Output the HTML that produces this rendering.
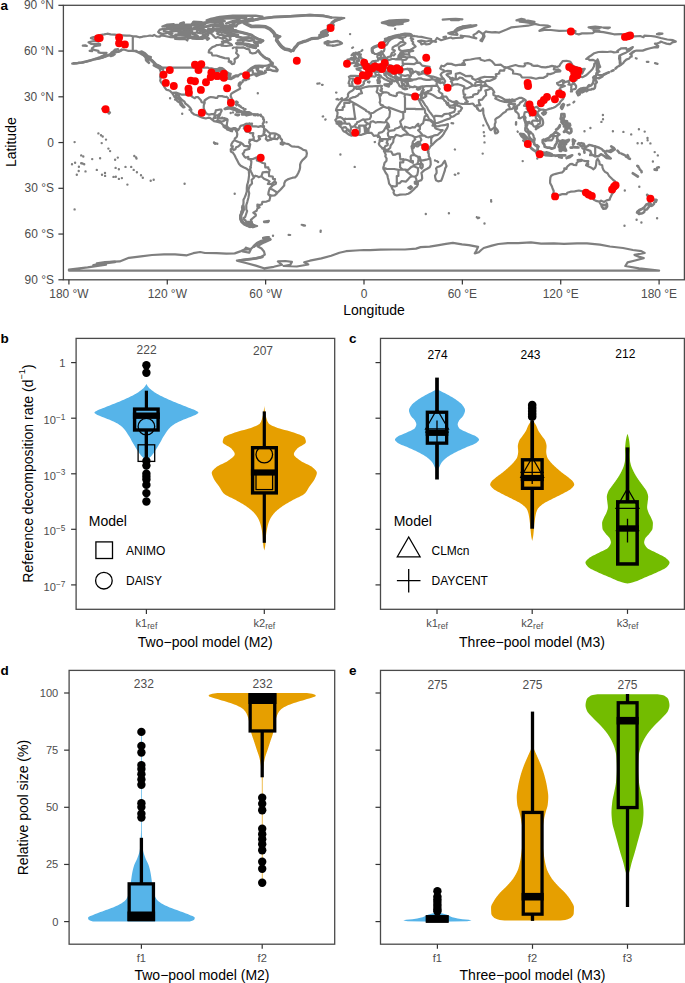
<!DOCTYPE html>
<html><head><meta charset="utf-8"><title>Figure</title>
<style>html,body{margin:0;padding:0;background:#fff}svg{display:block}text{font-family:"Liberation Sans", sans-serif}</style></head>
<body><svg width="685" height="983" viewBox="0 0 685 983">
<rect width="685" height="983" fill="#fff"/>
<g id="map" fill="none" stroke="#7F7F7F" stroke-width="2.2" stroke-linejoin="round" stroke-linecap="round">
<path d="M88.6 42.4 91.4 41.5 95.1 40.9 98.7 41.6 95.6 40.1 94.3 39.2 90.9 38.1 92.7 37.3 96.8 36.3 100.1 35.2 104.2 34.4 107.3 33.7 110.7 34.3 114.8 34.7 118.1 35.1 122.2 35.4 126.3 35.7 129.6 35.5 132.8 36.3 136.1 36.4 139.4 37.3 141.9 36.9 144.3 36.3 147.6 36.0 150.1 35.5 152.5 36.0 154.2 34.9 156.6 36.4 159.9 36.6 160.7 35.5 164.8 36.0 170.6 37.2 175.5 37.3 177.1 38.3 175.1 38.9 179.6 39.2 183.7 38.9 186.1 39.5 187.3 40.5 187.8 38.9 190.2 37.5 192.7 38.7 196.8 39.0 200.1 39.0 202.7 39.0 203.3 37.8 206.6 38.4 207.4 39.9 209.1 38.4 206.6 37.2 208.3 34.9 206.6 33.5 209.1 32.6 211.9 34.1 213.2 35.7 214.0 36.4 215.6 38.0 217.8 36.9 219.7 37.8 223.0 38.9 223.8 36.4 228.7 36.0 230.7 36.9 229.6 38.0 230.7 39.5 227.1 41.2 223.8 41.0 221.9 41.8 223.0 43.6 220.6 44.5 218.9 44.8 216.5 45.1 214.8 46.3 212.4 47.1 210.7 48.6 209.1 50.2 208.7 52.4 211.5 52.9 212.4 55.5 216.5 55.5 219.7 56.6 224.7 58.1 228.7 58.4 229.2 61.6 231.2 63.1 232.0 64.2 234.0 63.7 234.8 61.9 234.5 59.3 237.8 57.3 238.6 55.5 236.1 52.9 236.9 50.9 236.1 47.4 240.2 47.6 243.2 47.3 246.8 48.9 249.2 49.4 250.1 52.4 252.5 53.5 255.8 52.8 257.9 50.5 260.7 54.0 263.2 56.3 265.6 58.2 268.9 59.3 270.6 61.6 272.7 62.7 270.6 64.0 267.3 65.7 264.0 65.9 259.1 65.7 255.0 65.9 251.7 67.7 249.2 69.7 247.6 70.9 250.9 68.9 254.2 67.7 258.3 67.5 258.3 68.9 256.6 69.5 257.4 70.8 258.3 72.0 260.7 72.6 263.2 72.7 265.6 72.3 265.1 70.8 266.0 72.3 264.0 73.5 259.9 74.4 256.6 76.1 255.5 75.3 257.9 73.3 255.8 73.6 254.2 74.1 251.7 74.9 249.2 75.8 248.1 77.0 247.8 77.9 249.2 78.7 248.4 79.1 246.8 79.3 244.3 79.8 242.7 80.5 242.7 81.9 241.2 83.1 240.2 82.2 240.9 83.9 239.4 85.9 238.9 83.3 238.6 85.5 239.6 86.6 240.2 88.6 238.6 89.5 236.3 90.7 234.5 91.7 232.8 92.7 231.2 93.9 230.6 95.9 231.9 99.0 232.7 101.6 232.4 103.7 231.2 104.2 229.9 102.6 228.4 100.2 228.3 98.2 226.6 96.7 225.5 97.0 223.8 96.7 222.2 96.1 219.7 96.1 218.1 96.2 217.3 97.8 215.6 97.9 213.5 97.3 210.7 97.0 208.7 97.6 206.6 99.0 204.5 100.5 204.7 102.8 203.8 105.1 203.7 108.1 204.5 110.4 205.8 112.7 206.9 113.8 209.1 114.7 211.5 114.2 214.0 114.1 215.3 112.7 215.8 110.4 218.9 109.7 221.4 109.7 221.7 110.7 220.6 112.7 220.1 114.5 219.2 115.8 219.2 117.3 218.4 118.2 219.7 118.3 222.2 118.3 224.7 118.2 227.1 119.1 227.6 120.3 227.1 122.6 226.8 124.9 226.9 126.0 227.9 127.2 229.2 128.4 231.2 129.0 232.8 128.4 233.7 128.0 235.3 128.1 236.9 129.2 237.3 129.5M236.3 131.5 235.6 129.9 234.5 128.9 233.3 129.3 232.4 129.8 232.0 131.3 230.4 130.9 228.7 129.9 227.1 129.5 226.8 128.7 225.1 127.8 223.5 126.7 223.5 125.5 221.9 123.8 220.6 122.6 218.9 122.3 216.5 121.6 214.0 121.1 212.4 119.9 209.9 117.9 208.3 117.7 205.8 118.5 202.5 117.6 200.1 116.7 197.6 115.4 194.3 114.5 191.9 112.7 191.0 111.2 191.4 109.7 190.2 107.7 187.8 105.4 185.3 103.5 184.5 101.7 182.8 100.5 181.2 99.0 179.6 97.1 178.4 94.9 176.0 94.1 176.0 95.9 177.9 98.2 179.6 100.0 181.2 102.3 182.5 104.6 184.5 107.1 183.3 107.4 180.4 104.8 179.9 102.8 177.9 101.6 176.3 100.0 176.8 99.0 174.6 97.1 173.5 95.2 172.0 92.9 170.1 90.9 168.1 90.1 166.3 89.7 164.3 86.8 163.2 84.8 161.0 82.2 160.2 80.8 160.6 78.4 160.1 76.9 160.7 73.8 160.7 71.8 159.6 68.6 162.4 68.9 163.2 70.3 162.7 67.7 160.7 66.6 159.1 65.7 155.8 64.6 154.2 62.7 152.5 60.8 150.4 59.3 148.4 57.8 146.0 56.3 143.5 54.0 140.2 53.5 138.3 52.6 135.3 51.2 132.0 50.9 127.9 50.8 124.6 49.7 121.4 49.7 120.5 50.9 118.1 52.0 115.1 52.1 115.6 50.2 118.1 49.1 114.8 49.7 113.2 51.4 111.5 52.4 110.7 54.0 107.4 55.5 104.2 57.0 100.9 57.9 97.6 58.7 93.8 59.3 96.8 58.2 100.1 57.0 103.3 55.5 105.8 54.0 106.6 52.8 104.2 52.8 100.9 52.9 98.4 52.4 98.4 50.9 95.1 50.2 93.0 49.4 91.9 48.3 93.5 47.0 94.3 46.2 97.6 45.6 100.1 45.3 100.1 44.1 97.6 44.1 94.3 44.2 91.0 43.9 88.6 42.4M92.7 59.8 91.0 60.2 87.8 61.1 85.3 61.9M83.7 62.4 81.2 62.7 78.7 62.8 76.3 63.3 74.2 63.4 72.2 63.6M646.8 61.8 648.4 61.9M655.0 63.1 657.5 63.9M82.8 45.7 86.9 46.0 85.3 45.3 82.8 45.7M89.7 50.8 92.2 51.1 91.4 50.3 89.7 50.8M258.3 66.3 262.4 67.5 262.7 67.2 259.9 66.3 258.3 66.3M258.6 71.2 262.0 71.7 261.0 72.3 259.1 71.8 258.6 71.2M242.7 80.5 246.0 80.1 243.5 80.4M221.4 45.6 226.3 46.0 232.0 45.1 231.2 44.1 226.3 42.1 223.0 42.5 221.4 45.6M196.8 32.6 201.7 33.4 205.0 31.9 205.0 29.9 200.1 29.6 196.8 31.1 196.8 32.6M207.4 32.3 213.2 31.4 214.8 29.6 208.3 29.6 207.4 32.3M200.9 37.2 205.8 37.8 207.4 36.4 203.3 35.8 200.9 37.2M206.6 20.4 214.8 23.0 221.4 22.4 219.7 20.7 214.8 19.5 211.5 18.6 206.6 20.4M172.2 27.7 180.4 28.8 190.2 28.0 191.0 26.5 183.7 25.7 177.1 25.3 172.2 26.2 172.2 27.7M193.5 27.9 203.3 27.9 203.3 25.6 196.8 25.9 193.5 27.9M162.4 26.5 170.6 26.5 173.8 24.2 167.3 24.5 162.4 26.5M191.9 23.8 200.1 23.8 201.7 22.2 193.5 21.6 191.9 23.8M232.0 31.4 237.8 31.2 236.1 30.2 232.0 30.2 232.0 31.4M228.7 61.6 231.5 62.1 230.7 61.3 228.7 61.6M232.8 48.2 234.0 47.4M244.3 23.0 252.5 20.3 260.7 18.6 273.8 16.9 290.2 16.1 309.9 14.9 323.0 15.5 331.2 17.4 344.3 18.0 336.1 20.4 332.9 22.7 333.7 25.3 331.2 28.0 327.9 30.3 327.1 32.6 323.8 33.7 327.9 35.1 323.0 36.4 318.1 38.3 311.5 38.7 306.6 41.0 302.5 42.2 298.4 43.3 296.8 45.6 294.3 47.9 293.5 50.6 291.0 51.1 288.6 49.9 284.5 49.1 282.0 47.1 279.6 44.8 277.9 42.5 276.3 40.2 277.1 38.0 280.4 36.4 274.7 35.7 274.7 34.1 273.0 31.9 269.7 28.8 265.6 26.8 259.1 26.2 251.7 26.5 247.6 24.7 244.3 23.0M274.2 36.4 278.8 36.4 277.1 35.2 274.2 35.8 274.2 36.4M246.5 112.4 246.3 115.0M262.7 126.1 264.0 126.0 264.0 127.0 262.7 127.0 262.7 126.1M235.8 104.3 236.5 105.4M236.9 101.7 237.8 102.3M162.0 67.7 207.9 67.7 208.7 68.0 211.5 68.3 214.0 69.1 217.3 69.2 218.9 68.8 225.0 71.1 225.5 71.7 227.1 72.3 228.7 73.3 229.2 76.1 228.7 77.5 227.8 78.2 228.7 78.8 234.5 77.2 234.5 76.2 238.1 75.9 238.9 75.0 241.0 73.8 246.8 73.8 247.9 73.2 249.2 71.5 250.6 70.1 252.2 70.3 252.8 70.8 252.8 72.6 253.8 73.5 254.2 74.1M132.8 36.3 132.8 50.5 136.1 50.8 138.6 52.4 141.9 51.4 145.1 53.2 147.9 56.1 150.9 57.0 150.4 59.0M172.0 92.9 176.0 92.6 182.0 94.7 186.6 94.7 186.6 93.9 189.4 93.9 192.7 97.1 194.8 98.2 196.0 97.0 197.9 97.1 200.9 100.3 201.7 102.2 204.7 102.9M212.8 120.3 213.2 119.4 213.7 117.9 215.6 117.9 214.3 116.2 214.8 115.3 217.8 115.3M217.8 115.3 217.8 118.2 218.3 118.2M217.8 115.3 219.2 114.2M217.8 118.2 217.6 120.5 216.3 121.4M217.6 120.5 218.9 121.2 220.1 121.2 220.2 122.2M220.9 122.6 221.9 121.4 223.5 121.2 225.1 120.0 227.6 119.6M223.5 125.5 225.1 125.7 226.8 125.8M228.1 130.1 228.1 128.0 228.6 127.8M237.1 129.2 236.3 131.5M213.2 71.2 215.6 71.4 218.9 70.8 220.6 71.5 224.7 71.5 225.5 70.8 223.8 69.2 222.2 68.2 219.4 67.9 217.3 69.2 213.2 71.2M220.4 78.8 222.2 77.6 222.7 75.3 224.7 72.7 222.2 72.6 220.1 74.6 220.1 76.9 220.4 78.8M225.5 72.3 228.7 73.3 230.7 73.8 230.1 76.1 228.7 76.7 227.4 74.9 227.1 73.3 225.5 72.3M227.3 78.7 231.2 79.1 234.5 77.3 232.0 77.5 228.7 78.4 227.3 78.7M233.3 76.4 237.8 76.4 238.9 75.3 236.1 75.3 233.3 76.4M146.0 58.9 145.1 57.0 143.0 55.0 141.0 54.0M237.3 129.5 238.1 130.2 239.4 128.3 240.2 126.4 241.4 125.5 243.5 125.2 246.0 123.8 247.1 123.7 246.6 125.7 247.6 125.8 246.6 126.7 247.1 128.4 247.6 126.9 249.2 124.9 249.6 123.8 251.7 125.4 252.5 126.3 255.8 126.3 258.3 126.9 260.7 126.1 262.4 126.3 264.0 127.8 264.0 129.3 266.0 129.8 268.1 131.8 270.2 133.3 273.8 133.3 275.5 133.6 277.9 134.8 279.6 135.7 280.7 138.6 282.0 139.9 282.0 142.0 283.7 142.8 285.3 143.5 288.6 144.1 291.0 145.8 291.9 146.4 295.1 146.7 298.4 146.9 300.9 148.2 303.3 149.9 306.1 150.5 306.9 153.4 306.3 156.5 304.2 158.6 302.5 160.1 300.9 162.3 300.1 164.6 300.1 167.6 299.6 169.9 298.4 172.7 296.8 175.7 295.1 177.4 292.7 177.7 290.2 178.5 287.8 179.4 285.3 181.0 284.3 183.2 284.2 185.6 282.0 187.9 280.4 189.7 278.4 191.6 276.5 193.9 274.7 195.4 271.7 195.7 268.9 194.6 268.3 194.3 270.2 196.3 270.1 197.8 269.4 200.4 266.5 201.6 262.4 201.8 261.9 204.2 259.9 205.1 257.4 204.7 257.4 206.8 259.6 207.3 257.4 208.5 256.6 210.8 253.3 212.6 255.8 214.5 255.8 215.7 253.0 218.0 250.9 219.9 251.9 222.2 250.4 222.5 247.6 223.3 247.6 224.5 245.1 224.1 243.5 223.0 241.9 222.2 240.6 219.5 240.2 216.4 241.0 214.1 242.7 212.3 243.5 209.6 243.0 207.3 243.2 205.8 243.5 202.7 243.5 199.7 244.7 197.4 246.0 194.3 246.8 191.3 246.8 188.2 247.1 185.2 248.1 182.1 248.6 179.1 249.1 175.2 248.8 170.5 246.8 168.8 243.5 167.3 240.7 165.8 238.9 163.7 237.4 160.8 235.8 157.7 234.5 155.0 233.0 152.8 230.9 151.6 230.7 149.2 232.4 147.6 232.8 146.3 231.2 145.8 231.5 144.0 232.8 141.7 234.5 140.2 234.8 138.6 236.9 136.7 237.3 134.1 236.9 132.1 236.3 131.5M251.7 222.7 252.5 224.1 255.0 225.6 257.1 226.0 254.2 226.8 250.1 226.8 246.8 225.4 244.3 224.2 247.6 224.8 248.8 223.0 251.7 222.7M251.5 222.8 251.5 226.2M242.7 206.2 243.5 207.0 243.2 208.7 242.0 208.0 242.7 206.2M264.0 221.5 268.9 220.9 268.1 222.1 264.0 222.1 264.0 221.5M301.7 224.8 305.0 225.6M280.7 142.8 284.5 142.9 282.8 144.7 280.7 144.0 280.7 142.8M214.3 143.2 215.1 143.8M247.1 124.4 245.1 125.5 243.8 128.4 245.1 129.9 246.0 131.6 249.2 131.8 250.1 133.1 253.3 133.0 252.8 135.6 253.7 137.1 253.7 139.4 254.3 140.6M254.3 140.6 252.5 139.7 249.6 139.9 250.1 140.9 249.2 141.7 249.2 142.9 250.2 144.4 249.2 148.9M249.2 148.9 248.8 148.2 248.1 146.0 246.0 146.1 244.3 146.0 242.7 144.0 240.6 142.6M240.6 142.6 238.6 142.0 236.9 141.4 234.8 140.3M240.6 142.6 240.2 144.7 238.3 146.4 236.1 147.3 235.3 149.3 233.7 150.1 232.4 149.2 232.5 147.8M249.2 148.9 244.7 150.2 244.0 152.4 242.7 153.7 244.3 156.5 245.6 157.7 248.3 156.9 248.3 159.2M248.3 159.2 250.1 159.2 251.4 161.7 250.9 165.8 250.2 166.9 250.9 167.6 250.1 169.1M250.1 169.1 248.8 170.5M250.1 159.2 252.2 159.2 256.9 157.4 256.9 160.5 260.7 161.8 262.7 163.0 265.0 163.5 265.3 167.3 268.3 167.3 268.4 168.8 269.6 169.9 268.9 172.7M268.9 172.7 267.1 171.9 262.7 172.3 261.4 176.3M261.4 176.3 258.6 177.2 257.1 176.2 255.3 175.7 253.8 177.1M253.8 177.1 252.5 174.9 251.7 173.0 250.9 171.4 250.1 169.1M253.8 177.1 254.2 177.5 251.7 179.8 252.0 183.5 249.6 185.9 248.4 190.0 249.2 193.2 248.4 197.7 247.3 201.8 246.3 205.0 246.3 209.6 247.1 211.1 246.0 214.5 245.1 217.2 243.5 218.0 244.3 219.9 245.5 220.3 246.0 221.8 250.1 221.9 251.9 222.2M261.4 176.3 264.0 178.8 267.6 180.3 269.6 181.4 267.9 183.9 271.4 184.2 274.5 181.5M268.3 194.3 268.6 192.0 269.6 188.5M269.6 188.5 272.5 185.6 275.8 183.8 276.0 182.4 274.5 181.5M269.6 188.5 272.2 189.4 276.3 192.0 276.5 193.9M274.5 181.5 275.0 179.1 273.0 178.9 272.7 176.5 269.1 176.2 268.9 172.7M265.6 129.5 263.7 131.0 264.8 131.8 263.5 133.3 264.0 134.5 264.5 134.5M264.5 134.5 261.0 136.3 258.6 136.2 259.1 138.6 260.1 139.1 256.6 141.2 254.3 140.6M264.5 134.5 265.8 135.4 266.5 136.5 265.8 138.9 267.6 140.6 270.6 139.6 271.4 139.6M270.2 133.3 270.1 134.8 268.9 136.3 270.1 137.4 271.4 139.6M271.4 139.6 272.4 138.6 274.5 138.9M275.5 133.6 274.8 135.0 274.5 138.9M274.5 138.9 277.3 139.1 279.2 136.2M242.2 209.6 241.2 212.0 241.7 213.5M240.7 216.6 241.0 218.7M241.4 219.6 242.0 221.5 243.0 222.7M243.8 223.9 245.5 224.8 248.4 226.0 250.9 226.7 252.8 227.3M413.2 36.1 410.7 34.1 406.1 34.0 400.1 35.2 395.1 36.1 390.2 37.5 387.8 39.0 385.3 41.5 382.9 43.6 380.4 45.3 377.1 46.0 373.8 47.3 372.2 48.6 372.2 50.9 373.0 52.4 374.7 53.8 377.1 54.0 379.6 52.8 381.2 52.0 381.4 51.2 382.0 52.4 382.9 54.0 384.5 56.1 385.0 57.6 387.3 57.9 387.8 57.0 390.2 56.6 391.1 54.7 391.9 52.9 394.3 51.7 394.8 50.5 392.4 49.4 392.7 47.4 395.1 45.9 397.6 45.1 399.2 43.3 400.6 42.1 403.7 42.1 405.5 43.1 404.2 44.4 400.9 45.9 398.9 47.1 399.2 49.4 400.1 50.3 401.7 51.1 405.0 50.6 408.3 50.2 410.7 50.0 413.2 50.9 409.9 51.5 406.6 51.5 403.3 51.8 402.5 52.8 403.8 53.5 403.8 55.0 402.5 55.5 400.9 54.4 399.2 54.7 398.4 56.1 398.6 58.1 396.8 58.9 396.0 59.5 394.3 59.0 391.9 59.0 390.2 59.6 387.4 60.2 385.3 59.5 383.7 59.9 382.0 60.1 381.7 59.5 380.4 59.3 380.2 58.5 381.2 57.8 380.7 56.3 381.2 54.7 380.7 54.6 377.6 55.3 377.3 57.0 378.1 58.2 378.1 59.6 378.4 60.2 377.6 60.7 375.5 60.8 375.1 61.0 373.0 61.1 371.9 61.8 371.0 63.0 370.1 63.9 368.9 64.2 368.1 64.5 366.6 65.0 366.5 66.0 364.3 66.8 362.0 67.1 361.7 68.2 359.4 68.2 356.5 68.5 356.8 69.4 359.6 70.1 360.7 71.1 362.0 72.3 362.0 74.4 361.4 76.2 358.3 76.1 355.0 75.9 350.9 75.8 348.9 76.7 349.6 78.4 349.6 79.9 348.8 82.3 348.6 83.4 349.6 84.0 349.4 86.0 351.7 85.9 353.5 86.3 354.8 87.5 356.6 86.5 360.4 86.3 362.9 85.1 364.0 83.4 363.5 82.2 365.3 80.2 367.6 79.3 369.2 78.1 369.1 76.7 370.6 76.1 372.7 76.4 374.7 76.7 376.3 75.6 378.4 74.7 380.7 75.5 381.2 77.0 383.2 78.1 384.7 79.3 387.0 80.2 388.6 81.1 389.7 81.6 390.2 83.0 389.7 84.5 391.1 84.0 391.9 83.0 391.2 81.7 391.9 80.7 394.2 81.4 394.3 80.7 392.7 79.9 390.2 79.1 390.2 78.5 388.6 78.4 387.0 77.3 386.1 75.9 384.5 75.0 384.2 73.3 386.1 72.7 386.5 73.8 387.8 73.5 388.9 75.0 391.1 76.2 393.0 77.2 394.8 78.1 395.8 78.7 395.8 80.7 396.8 81.9 398.4 83.3 398.8 84.6 399.6 86.2 400.9 86.8 401.9 86.6 401.7 85.4 402.7 84.6 403.3 84.2 401.7 82.8 401.4 81.0 402.5 81.4 403.7 80.5 405.8 80.1 406.6 80.5 407.4 81.1 409.1 79.9 411.4 79.9 411.5 79.6 409.9 78.4 409.4 76.9 410.9 75.6 411.1 74.1 412.7 73.3 413.7 72.3 415.6 71.4 417.3 72.1 418.9 72.3 417.4 73.2 418.9 74.6 421.9 73.8 423.8 73.2 421.4 72.1 423.0 71.2 426.3 70.6 428.3 70.4 426.3 72.0 425.5 73.2 424.7 73.6 426.3 74.7 429.1 76.1 432.0 77.6 432.0 79.1 429.6 79.9 426.3 79.9 423.8 79.4 421.4 78.4 418.1 78.4 415.6 79.4 413.2 79.6 411.5 79.6M351.9 58.5 350.9 59.3 353.7 59.9M351.7 55.2 353.7 53.4M361.5 50.9 362.4 50.0M358.6 52.6 359.6 52.1M352.2 47.9 353.0 47.4M380.1 57.9 381.5 58.1M393.8 55.5 395.1 54.1M390.9 56.6 391.9 55.0M400.1 53.5 401.7 53.1M400.6 52.6 401.7 52.4M367.9 82.0 369.6 81.7 369.1 82.5 367.9 82.0M409.6 87.5 410.2 86.9M402.2 83.1 404.2 84.3M406.6 82.7 407.4 82.8M442.7 19.6 449.2 19.2 455.8 18.9 462.4 19.3M450.9 20.1 459.1 20.1M443.5 37.2 446.0 36.7 444.8 37.5 443.5 37.2M460.7 35.7 463.2 36.1M382.4 52.4 384.0 50.9 384.5 48.9 384.0 46.3 387.0 44.5 388.6 41.5 391.1 39.2 393.8 38.0 397.3 37.2M397.3 37.2 399.2 36.9 402.5 37.6 405.0 37.2 406.6 35.7 409.9 35.7 411.5 36.1 411.2 37.0M411.2 37.0 414.5 36.0M397.3 37.2 402.5 38.9 403.3 41.8 403.7 42.1M411.2 37.0 410.7 38.4 413.2 39.2 411.5 40.4 413.2 42.2 412.7 43.6 414.0 44.7 415.6 46.5 412.4 48.6 409.6 50.2M409.9 51.7 409.1 52.8 409.1 54.6M403.8 54.1 406.6 54.3 409.1 54.6M409.1 54.6 409.9 56.3 410.2 56.9 407.6 57.5M398.4 56.9 403.3 56.6 407.6 57.5M407.6 57.5 406.1 59.6 402.5 60.1M402.5 60.1 401.4 59.5 396.3 59.3M401.4 59.5 401.2 58.5 398.9 58.1M402.5 60.1 402.7 62.2 402.7 63.9 403.3 65.0 401.1 66.9 400.9 67.5M402.7 63.9 408.3 63.9 414.0 64.2 416.1 63.0M410.2 56.9 414.5 57.6 417.3 61.1 416.1 63.0M416.1 63.0 419.7 62.7 422.2 65.6 426.3 66.3 429.6 66.8 429.2 69.2 426.6 70.6M387.4 60.2 387.3 62.4 388.3 64.6 388.3 64.8M388.3 64.8 384.2 65.7 384.5 66.5 386.6 68.0M388.3 64.8 390.6 65.3 391.9 65.7 394.8 66.9M386.6 68.0 388.6 67.7 391.7 68.3M391.7 68.3 393.3 67.7 394.8 66.9M394.8 66.9 396.8 67.2 400.9 67.5M400.9 67.5 400.4 68.6M391.7 69.2 394.8 69.5 397.6 68.5 400.4 68.6M391.7 68.3 392.0 69.2M392.0 69.2 391.1 70.0 390.4 70.9M400.4 68.6 401.5 69.2M401.5 69.2 404.2 69.4 407.4 68.8 410.2 71.4 410.2 73.0 412.7 73.3M407.6 68.8 409.9 68.8 411.9 69.2 413.2 71.7 410.4 73.0M401.5 69.2 398.8 71.7 397.3 72.1M397.3 72.1 395.0 72.4 393.0 72.4 391.1 71.5 390.4 70.9M390.4 70.9 387.8 71.7 386.5 71.5 386.3 73.0 389.1 73.0 389.7 72.0 391.1 71.5M386.6 68.0 385.0 69.1 385.3 70.0 381.2 70.0 379.7 70.0M386.5 71.5 384.0 70.8 381.2 70.9M381.2 70.9 379.7 70.0M379.7 70.0 377.9 69.7 376.5 69.8 374.0 71.8 375.5 72.4 377.8 71.8 378.8 72.4 380.4 71.8 381.2 70.9M375.5 72.4 375.3 73.8 376.3 75.6M376.5 69.8 377.4 67.7 374.5 66.9M368.1 64.5 370.9 66.2 373.5 66.8 374.5 66.9M369.6 64.0 372.2 64.0 373.8 65.0M373.8 65.0 374.2 63.4 375.5 62.7 375.8 61.1M373.5 66.8 374.0 66.0 374.5 66.9M378.1 58.7 380.2 58.9M361.2 76.4 365.1 77.3 369.2 77.8M349.6 78.5 353.3 78.5 352.7 81.1 351.9 82.2 352.5 84.2 351.7 85.7M386.5 71.5 386.5 72.9M389.7 73.5 391.9 73.5 395.1 74.0 395.8 75.0 394.3 77.6M389.7 73.5 390.2 75.3 392.7 76.9M397.3 72.1 399.2 74.1 401.2 74.6 400.9 76.5 400.7 77.9M401.2 75.0 405.0 75.8 408.3 75.2 410.9 75.8M400.7 77.9 401.7 79.4 405.0 79.4 407.1 78.8 407.6 79.4 406.6 80.2M407.1 78.8 409.9 78.4M395.8 75.0 395.5 76.1 397.3 77.2 395.8 78.5M397.3 77.2 399.2 77.9 400.7 77.9M397.8 78.5 397.8 79.9 398.4 80.2 397.1 82.0M398.4 80.2 401.5 79.4M354.3 87.8 355.3 87.7 356.6 88.8 359.1 88.6 360.7 88.9 362.4 88.0 364.8 87.2 366.5 86.8 368.9 86.3 372.2 86.3 375.5 86.0 377.9 86.2 380.1 85.5 380.9 85.7 382.0 86.0 381.4 86.9 381.2 88.0 382.0 88.8 381.7 89.8 380.4 90.3 380.7 90.9 382.0 91.3 382.9 92.0 384.5 92.3 386.1 92.3 388.6 93.0 389.4 94.4 391.9 95.2 394.3 95.9 396.0 96.1 396.8 95.2 396.8 93.3 399.2 92.3 401.7 92.7 402.2 93.3 405.0 94.1 408.3 94.7 411.5 95.3 414.0 94.5 415.6 94.4 417.0 94.9 417.3 96.7 417.4 97.4 418.1 99.0 419.4 100.8 420.2 102.8 421.4 105.1 422.5 106.9 424.3 108.9 425.0 110.4 425.1 112.7 426.8 114.7 428.3 117.3 429.1 119.3 431.2 120.3 433.7 122.6 435.0 123.5 434.8 124.8 436.1 126.4 438.6 126.1 441.1 125.5 444.3 125.2 447.9 124.1 447.8 126.4 446.8 128.7 445.2 131.0 443.5 134.1 441.9 136.3 439.4 138.6 437.0 140.2 434.5 142.4 432.4 144.7 430.4 146.3 429.1 148.6 427.9 150.8 427.9 152.4 428.8 153.9 428.8 156.2 430.1 158.5 430.6 161.5 430.7 164.6 429.6 167.3 427.1 168.8 424.7 169.9 423.0 171.4 421.4 173.0 421.9 175.2 422.2 178.3 421.4 180.1 418.9 181.0 417.8 182.1 417.9 184.4 417.0 186.4 415.1 187.9 413.2 190.0 410.7 192.3 408.3 193.7 406.1 194.3 403.3 194.5 400.1 194.6 396.8 195.5 394.8 194.8 394.2 194.0 393.5 192.5 394.0 190.8 392.4 189.0 391.1 186.1 389.1 183.6 388.6 180.6 387.8 177.5 387.4 175.2 385.8 173.0 384.2 169.9 383.3 167.6 384.0 165.3 384.5 163.0 386.5 160.8 386.6 158.5 385.3 156.2 385.8 154.7 384.2 151.6 384.0 150.1 382.9 148.6 381.2 147.0 379.6 145.5 378.8 143.7 379.6 142.0 379.6 140.6 380.1 138.6 379.9 137.1 378.6 135.6 377.1 135.6 375.5 135.7 373.8 135.9 372.7 134.4 371.4 132.8 368.9 132.7 366.5 133.0 365.6 133.4 364.0 133.9 361.5 134.8 359.9 135.0 358.3 134.5 355.8 134.7 353.3 135.3 351.5 135.7 349.2 134.8 346.8 133.0 345.1 131.9 343.5 131.2 342.4 129.5 341.9 128.0 340.2 126.4 339.4 125.7 338.6 124.4 336.6 123.5 336.5 122.2 335.3 120.0 336.5 118.8 336.9 117.3 337.3 115.0 337.6 112.7 336.9 111.0 336.0 110.4 336.3 108.9 337.4 106.6 338.6 104.8 339.7 103.5 340.4 102.3 342.2 100.5 343.0 99.7 345.5 99.0 347.6 97.4 348.1 95.9 347.9 94.4 348.8 92.9 350.1 91.7 352.2 90.7 353.3 89.8 354.2 88.4 354.3 87.8M444.8 160.8 446.5 166.1 445.2 168.4 444.8 170.7 443.5 174.5 441.9 179.1 441.1 180.7 438.1 181.4 436.1 180.3 435.3 177.8 435.0 175.6 436.6 173.0 436.6 170.7 436.1 168.4 437.3 167.0 439.7 166.4 441.9 165.0 443.2 163.0 444.8 160.8M417.3 96.7 417.6 97.1 418.6 99.0 420.1 100.0 420.7 99.0 421.2 97.4M451.5 123.2 453.2 123.4M428.4 151.3 428.6 152.2M336.5 99.3 337.4 99.0M338.4 99.7 338.8 99.6M340.9 99.1 341.9 98.1M336.0 92.6 336.5 92.6M325.3 119.6 325.6 119.3M322.7 116.5 323.2 116.4M321.9 84.8 322.7 84.8M317.3 83.7 317.9 83.7M319.2 83.4 319.6 83.4M377.9 137.1 378.6 136.8M374.7 142.1 375.0 142.0M435.0 160.3 435.1 160.6M454.7 174.6 455.3 174.8M458.1 173.3 458.6 173.4M454.8 149.5 455.0 149.6M360.4 88.9 361.2 91.3 362.0 93.2 359.1 93.9 357.9 95.5 355.5 96.8 352.5 97.4 349.7 98.7 349.7 100.8M349.7 100.2 342.4 100.2M349.7 100.8 349.7 102.8 344.3 102.8 344.3 106.8 342.7 107.4 342.7 110.0 336.1 110.0M349.7 100.8 356.1 104.3M356.1 104.3 353.2 104.3 355.0 117.3 355.3 118.8 348.8 118.8 346.5 119.0 345.1 118.7 344.0 119.9M344.0 119.9 341.9 117.9 340.2 117.1 336.9 117.9M356.1 104.3 366.0 110.3 366.0 110.9 369.2 112.2 369.4 113.5 370.9 113.3M370.9 113.3 373.5 112.7 376.3 110.6 383.7 106.6M383.7 106.6 382.9 105.4 380.7 104.9 380.2 103.5 379.6 102.3 380.2 101.3 380.1 99.3 379.6 96.4M379.6 96.4 378.8 93.6 377.6 92.9 376.6 91.8 377.4 89.7 377.6 86.8 378.1 86.2M379.6 96.4 380.9 95.3 380.9 93.9 382.9 93.0 382.9 92.0M383.7 106.6 387.3 108.0 388.6 107.4 403.3 112.7 403.3 111.9 405.0 111.9 405.0 108.9M405.0 108.9 405.0 97.9 404.5 96.5 405.3 94.2M405.0 108.9 415.3 108.9 415.6 109.2 424.5 108.9M388.6 107.4 389.4 110.4 390.1 111.3 389.4 116.7 386.1 120.5 386.3 121.6M386.3 121.6 384.5 122.5 380.4 122.2 377.1 122.2 375.5 122.6 373.0 121.2 370.7 121.9 369.9 124.6M369.9 124.6 368.6 123.7 367.6 123.5 365.6 122.2 364.3 119.7M364.3 119.7 365.6 119.6 369.7 119.0 370.9 116.7 370.9 113.3M364.3 119.7 362.9 119.4 360.7 120.6 359.1 121.6 357.0 122.3 356.8 123.7 355.3 124.4 355.0 126.6M355.0 126.6 353.8 126.3 352.5 126.9 350.9 126.9M350.9 126.9 350.4 125.7 349.2 123.5 347.1 123.8 345.3 123.5M345.3 123.5 345.3 122.6 344.0 119.9M345.3 123.5 341.5 123.2 339.4 123.1 336.6 123.5M341.5 123.2 341.5 124.6 339.9 124.9 339.4 125.8M336.5 121.7 339.4 121.4 341.4 121.9 341.4 122.3 338.6 122.2 336.5 122.5M342.2 128.7 343.5 127.3 345.6 127.2 346.6 128.4 347.1 129.5M347.1 129.5 346.6 130.6 345.1 131.9M347.1 129.5 348.4 129.6 348.6 131.2 350.1 130.9M350.1 130.9 351.0 129.5 350.9 126.9M350.1 130.9 350.2 132.5 351.7 133.6 351.7 135.7M358.9 134.7 359.6 131.8 359.6 128.0M355.0 126.6 356.5 127.7 359.6 128.0M359.6 128.0 359.2 125.7 363.8 125.5M366.0 133.1 365.0 131.8 364.7 128.7 364.0 125.5M366.6 133.0 366.6 128.7 365.3 126.6 365.5 125.7M364.0 125.5 365.5 125.7 367.6 123.5M368.4 132.7 368.6 128.7 369.9 126.9 369.9 124.6M378.1 135.1 379.1 132.8 382.0 132.2 383.7 130.9 385.3 128.0 387.0 125.2 387.6 123.5 387.1 122.6 386.3 121.6M387.1 122.6 388.4 124.1 389.2 127.2 386.8 127.8 388.9 131.0M388.9 131.0 391.1 130.6 394.5 130.2 395.1 128.7 398.4 127.7 401.5 125.8M401.5 125.8 400.6 123.1 400.2 121.4 400.9 120.8 403.3 118.5 403.3 112.7M388.9 131.0 387.8 133.4 388.1 135.4 390.2 139.1M390.2 139.1 385.8 139.1 382.5 139.1 380.1 138.9M382.5 139.1 382.5 140.9 379.7 140.9M385.8 139.1 387.6 140.3 386.6 142.8 387.8 143.4 387.6 145.3 385.3 146.1 384.5 147.8 382.2 148.4M390.2 139.1 390.6 137.1 394.5 137.1M394.5 137.1 393.5 139.4 393.2 142.1 390.6 145.5 390.2 147.8 388.9 149.0 387.6 149.9 385.3 149.5 384.0 151.3M385.0 149.2 385.5 149.5 384.0 151.3M394.5 137.1 396.0 134.8 400.9 136.2 404.2 134.7 408.9 134.7M401.5 125.8 402.9 129.2 405.5 131.0 408.9 134.7M408.9 134.7 412.4 135.7 414.7 137.1M414.7 137.1 416.5 137.0 419.7 136.0M419.7 136.0 422.9 135.4M422.9 135.4 421.9 134.2 419.7 131.8 418.1 130.2 419.9 129.3 419.9 126.4M402.9 129.2 404.2 129.2 405.0 126.7 408.3 127.8 409.9 128.3 412.4 127.2 414.8 127.5 417.1 124.6 418.4 123.8 418.3 126.1 419.9 126.4M419.9 126.4 421.4 124.4 423.2 123.1 423.8 120.6M423.8 120.6 424.7 116.5 427.3 115.0M423.8 120.6 426.1 119.7 427.9 120.2 429.9 120.5 433.5 123.4M433.5 123.4 432.5 125.7 434.3 125.8 435.0 124.9M434.3 125.8 435.3 128.1 436.1 128.7 441.1 130.2 442.7 130.2 437.8 134.8 434.5 135.3 432.9 136.2M432.9 136.2 431.2 136.5 428.8 137.3 426.5 137.0 424.5 135.7 422.9 135.4M432.9 136.2 431.2 138.2 431.2 143.8 432.2 145.0M419.7 136.0 420.6 137.9 421.4 139.9 419.7 142.1 419.6 144.0M419.6 144.0 425.6 147.0 425.8 147.8 428.3 149.6M414.7 137.1 414.7 138.8 415.3 139.2 413.2 141.2 412.5 143.2 412.5 144.6M419.6 144.0 414.0 144.0 412.5 144.6M414.0 144.0 414.5 146.1M412.5 144.6 411.5 146.6M411.5 146.6 414.5 146.1M414.5 146.1 414.0 147.5 412.2 149.2M411.5 146.6 411.9 148.4 412.2 149.2M412.2 149.2 412.7 152.4 414.5 155.0M414.5 155.0 417.9 156.8M417.9 156.8 419.7 156.9 420.7 160.1M420.7 160.1 423.0 160.3 426.3 159.7 430.2 158.5M414.5 155.0 411.4 155.4 410.6 156.6 410.9 159.2 411.5 161.4 412.9 161.1 412.9 162.9 410.7 161.7 408.6 160.5 405.5 159.5 404.0 159.8 403.3 159.1M403.3 159.1 403.3 162.3 400.1 162.3 400.1 167.2 402.4 169.3M403.3 159.1 400.4 159.5 400.1 157.4 399.7 153.6 397.6 153.6 396.0 154.3 395.1 154.7 392.9 154.8 391.2 151.5 385.6 151.5 384.0 151.5M383.3 168.8 385.3 168.4 387.0 169.0 394.2 169.0 398.4 169.8 402.4 169.3 405.5 169.6M398.4 170.4 398.4 176.0 396.8 176.0 396.8 185.8M396.8 185.8 395.1 186.5 392.5 186.2 391.1 186.1M396.8 183.3 397.9 183.3 399.6 183.2 401.7 181.0 405.8 181.7 408.1 179.4 409.9 177.2 412.2 176.3M412.2 176.3 409.4 173.7 406.6 171.4 405.5 169.6M405.5 169.6 408.3 169.8 411.4 166.9 413.8 166.2M413.8 166.2 417.9 167.9 418.1 170.7 417.3 174.9 415.3 176.6M412.2 176.3 415.3 176.6M415.3 176.6 416.5 179.8 416.5 182.0 417.9 183.3M414.8 181.8 416.5 182.1 416.3 183.9 414.8 183.6 414.8 181.8M408.3 187.6 410.7 186.2 412.2 187.5 410.4 189.1 408.3 187.6M417.9 156.8 418.6 158.9 418.1 161.5 417.6 163.2 418.4 163.8M418.4 163.8 413.5 165.3 413.8 166.2M420.7 160.1 420.4 161.1 421.1 163.0 422.7 164.6 422.7 166.9 421.7 168.5 420.2 167.3 420.4 164.6 418.4 163.8M416.1 143.2 418.1 141.8 420.1 142.9 419.6 144.7 418.1 146.3 416.5 146.3 416.0 144.4 416.1 143.2M407.0 81.4 406.8 82.2 407.9 83.0 408.1 83.9 407.1 84.2 408.6 85.2 408.8 86.0 410.2 86.5 411.7 87.1 414.0 87.1 414.3 86.3 416.5 87.1 418.1 87.4 419.7 87.1 421.4 86.5 423.0 86.3 423.3 87.5 422.9 88.3 422.9 89.8 422.2 90.7 421.5 92.1 421.2 93.2 420.6 94.4 420.1 94.7 418.9 95.0 417.0 94.9M411.5 79.9 412.4 80.4 409.9 80.8 408.3 80.8 407.0 81.4M421.4 97.4 421.1 99.4 422.2 100.5 423.8 102.8 425.1 105.1 427.1 107.4 428.1 109.7 429.6 111.9 431.2 113.8 432.9 116.1 434.0 117.6 434.5 119.6 435.0 121.9 435.3 123.1 437.8 122.9 440.2 122.0 442.7 121.1 445.2 120.0 447.6 119.1 449.6 118.7 450.9 117.1 453.3 116.5 455.0 115.3 456.6 114.2 458.8 113.5 458.6 111.5 460.2 111.2 462.0 108.1 460.1 106.4 457.4 105.8 456.5 104.3 456.3 102.3 455.8 103.1 454.7 103.9 453.0 105.4 450.1 105.5 448.6 105.4 448.4 103.5 447.9 102.6 447.3 103.5 447.3 104.6 446.3 103.2 446.0 101.7 444.3 100.5 443.5 99.0 442.7 97.4 443.5 96.7 445.2 96.5 446.3 96.7 447.3 98.2 448.4 99.9 450.2 100.8 452.5 101.9 455.0 101.6 456.5 101.1 457.4 101.6 457.9 103.1 459.9 103.5 462.4 103.9 465.0 104.0 467.3 104.0 469.7 104.0 472.7 103.5 473.8 104.6 474.7 106.0 475.8 106.4 476.8 107.4 477.9 108.3 477.1 108.6 479.2 110.6 480.4 110.9 482.0 110.1 483.0 108.4 483.3 110.4 483.3 113.5 484.2 116.5 485.0 118.8 486.1 121.4 487.0 123.4 488.3 125.7 489.1 127.7 490.2 129.8 491.1 130.1 492.2 128.9 493.5 128.3 494.8 126.7 494.8 124.1 495.6 122.2 495.3 119.6 496.5 118.3 498.9 117.0 500.9 115.3 503.3 113.0 505.8 111.6 506.6 110.0 508.3 109.3 509.9 109.2 512.0 108.9 513.2 108.0 514.5 108.4 515.2 110.4 515.6 111.5 517.3 112.7 518.6 114.2 518.9 116.5 518.6 118.0 520.2 118.3 521.7 117.6 523.0 116.8 524.0 117.6 524.2 119.6 525.0 121.9 525.6 124.1 525.5 126.4 525.2 128.7 525.2 130.2 526.3 131.5 527.9 132.5 528.6 134.1 529.1 136.0 530.1 137.9 531.2 139.1 533.4 140.2 534.5 140.5 534.8 138.9 533.7 137.1 533.5 135.6 532.5 133.9 531.5 133.0 530.4 131.9 528.8 131.3 527.9 129.5 526.8 128.3 526.6 126.4 527.6 124.4 527.9 122.2 529.4 121.9 529.6 123.1 531.5 123.8 532.7 124.6 533.7 126.3 535.3 126.6 536.1 128.3 535.8 129.3 537.0 128.4 538.6 127.5 539.4 126.6 541.1 126.0 542.7 124.9 543.2 122.9 543.0 121.1 542.4 119.1 541.1 117.6 539.4 116.2 538.3 114.5 537.3 113.2 537.8 111.9 538.9 110.7 540.2 110.0 541.4 109.7 542.7 109.5 543.7 109.5 543.8 110.7 544.8 111.5 545.2 110.1 546.8 109.7 549.3 108.9 551.2 108.4 553.4 107.7 555.5 106.8 557.4 105.1 559.6 103.5 560.2 101.9 561.5 100.5 563.2 99.0 563.7 97.1 564.0 96.2 562.4 95.6 563.8 94.9 563.5 93.6 562.0 92.4 561.2 90.6 559.6 89.2 559.9 88.3 561.5 87.2 564.8 86.0 563.2 85.2 560.7 85.2 559.1 85.5 557.4 84.2 557.0 83.0 559.1 82.2 562.4 80.2 564.0 80.7 562.9 83.0 563.5 83.1 565.6 81.9 567.8 81.4 568.9 82.2 569.4 83.7 568.4 84.5 570.6 84.9 571.5 86.0 571.2 87.5 571.4 89.1 571.1 89.8 573.0 89.5 575.5 88.9 576.1 87.5 576.1 86.0 574.7 84.0 573.0 82.2 574.7 81.0 576.6 79.9 577.1 78.4 578.3 77.9 580.4 76.5 582.4 77.2 585.3 75.8 587.8 73.8 590.2 71.5 592.4 69.2 594.0 66.2 594.3 63.9 595.6 62.7 595.5 61.1 592.7 59.8 589.4 60.1 588.6 58.9 586.1 59.0 588.3 57.3 591.1 55.5 594.3 53.2 598.4 52.0 602.5 51.8 607.5 52.0 610.7 51.5 614.0 52.4 618.1 52.0 617.3 50.9 621.4 48.3 626.3 48.2 626.8 49.9 630.4 48.3 632.9 47.1 631.7 48.6 629.6 50.5 626.3 52.4 622.2 54.3 619.3 55.8 619.1 58.5 619.7 60.8 619.7 63.1 620.9 64.8 623.5 62.8 624.2 61.6 626.3 59.6 629.3 58.5 630.4 56.7 631.7 56.7 631.6 54.3 630.1 54.0 632.5 52.0 634.5 51.1 636.6 50.5 642.7 50.6 646.0 49.4 650.1 48.2 655.0 47.1 657.9 47.4 658.3 46.0 655.8 44.4 655.0 43.6 657.5 43.3 659.9 42.5 660.7 41.5 663.2 42.5 666.5 43.6 669.7 44.2 671.4 43.3 672.2 42.4 675.8 41.6 673.0 40.2 667.3 39.5 660.7 38.0 655.8 36.7 650.9 36.0 644.3 35.7 643.5 37.2 640.2 36.0 634.5 36.3 629.6 36.3 627.1 36.4 621.4 34.1 614.0 34.3 609.9 33.4 603.4 32.2 595.2 31.4 592.7 33.2 587.0 33.4 582.0 33.4 578.8 34.4 576.3 33.7 573.8 32.2 575.5 31.1 571.4 30.2 566.5 30.6 559.1 30.9 550.9 30.0 544.3 29.9 539.4 30.8 544.3 28.0 550.1 26.5 547.6 25.6 539.4 25.0 535.0 23.9 527.9 25.7 519.7 26.5 511.5 27.3 506.6 29.6 499.3 32.6 495.2 32.2 491.9 32.3 487.0 31.9 486.1 31.4 483.7 33.4 484.5 36.4 482.9 39.5 482.0 41.3 480.4 40.5 482.9 37.5 483.2 34.9 482.0 33.4 478.8 31.1 476.3 33.4 473.5 34.9 473.8 37.2 476.3 38.3 472.2 37.5 469.7 36.7 464.0 36.0 462.4 37.6 455.8 38.0 452.5 38.4 450.9 37.5 446.0 38.7 441.1 40.2 437.0 38.0 435.0 41.0 436.1 41.8 432.9 41.2 429.6 43.9 426.3 44.5 424.7 43.3 421.4 44.4 420.6 42.5 418.1 41.0 421.4 40.7 426.3 41.5 431.2 40.5 431.2 39.0 426.3 38.0 421.4 36.9 418.1 36.6 414.8 36.0 413.2 36.1M441.9 76.9 440.6 74.6 441.9 72.9 444.3 71.5 447.6 70.8 450.9 71.1 450.9 73.3 447.6 73.8 446.5 74.6 448.4 76.5 450.1 77.6 450.4 79.1 453.7 79.9 450.9 81.4 452.2 83.0 452.2 85.5 449.2 86.5 446.8 85.7 444.3 85.1 444.2 83.7 445.2 81.1 443.5 78.7 441.9 76.9M573.4 102.5 574.3 101.6M570.9 91.5 572.0 91.3M657.0 34.1 659.1 33.4 662.4 33.7 659.1 34.3 657.0 34.1M588.6 27.3 595.2 26.5 601.7 27.3 598.4 28.2 591.9 28.5 588.6 27.3M603.4 27.6 609.9 27.6 608.3 28.3 603.4 27.6M593.5 30.3 599.3 30.6 595.2 29.7 593.5 30.3M519.7 21.6 527.9 20.7 534.5 21.9 531.2 23.2 524.7 22.2 519.7 21.6M516.5 20.4 521.4 18.9 524.7 19.6 519.7 20.4 516.5 20.4M632.0 53.1 633.7 52.1M635.8 58.2 636.6 58.5M595.2 146.4 595.2 156.3M517.6 131.5 517.8 131.8M429.6 76.2 432.9 76.5 436.1 77.5 439.4 78.7 441.9 79.4 443.7 78.7M432.0 79.1 435.3 79.8 437.8 79.4 440.2 79.8 440.2 78.7M435.3 79.8 435.6 81.3 437.4 81.9 436.5 83.9 437.4 85.7M437.8 79.4 439.4 81.1 440.2 82.2 440.2 83.1M437.4 81.9 440.2 83.1 442.7 82.2 444.2 83.9M423.3 87.5 424.2 86.3 426.3 86.2 429.6 86.2 433.5 85.9 437.4 85.7M433.5 85.9 431.7 86.9 431.2 90.0 427.6 91.5M427.6 91.5 428.3 93.3M427.6 91.5 424.3 93.0 422.7 92.6M422.9 89.7 423.8 90.0 423.0 91.3 422.7 91.7M422.7 91.7 422.4 92.9 422.2 94.4 421.4 97.4M420.1 94.7 421.2 97.4M421.4 97.6 423.2 97.9 425.5 96.7 426.3 95.9 424.7 94.4 428.3 93.3M428.3 93.3 430.2 93.8 432.9 95.0 437.3 97.9 440.2 98.1 441.9 98.2 443.3 99.0M440.2 98.1 441.7 96.7 442.7 96.7M437.4 85.7 438.4 87.5 439.7 88.9 438.6 90.6 439.4 92.1 442.4 93.9 442.2 95.2 443.5 96.7M434.2 117.4 435.0 115.9 436.6 115.9 440.2 116.2 441.9 116.4 444.3 114.1 449.2 113.5M449.2 113.5 451.1 117.0M449.2 113.5 454.2 111.9 455.3 108.9 454.5 107.8M454.5 107.8 450.2 107.5 448.6 105.5M454.5 107.8 455.5 105.5 456.3 104.5 455.8 103.2M447.3 104.8 448.4 104.9M452.4 85.5 454.2 84.5 457.9 84.2 461.2 85.2 464.3 86.6M464.3 86.6 464.2 88.6 463.2 90.6 463.7 94.4 465.3 94.5 463.8 97.0M463.8 97.0 465.2 98.7 467.0 101.0 467.8 101.7 465.3 102.5 465.0 104.0M463.8 97.0 466.5 97.6 469.4 97.4 472.7 96.8 473.3 94.9 475.5 94.1 477.6 93.8 478.8 91.8 478.6 90.6 480.6 90.4 481.4 88.3 480.7 87.4 482.9 86.2 486.1 86.0 486.8 85.7M464.3 88.1 467.3 88.4 469.7 87.1 473.0 85.4M473.0 85.4 475.5 86.0 477.9 85.1 479.1 85.1 481.2 84.0 481.2 86.5 484.2 85.4 486.8 85.7M473.0 85.4 470.6 83.3 466.5 81.0 464.0 79.6 462.4 78.1 459.9 77.5 457.4 79.4 455.8 79.4M450.1 78.7 452.5 77.9 455.8 79.4M455.8 79.4 455.8 73.8 460.1 72.9 464.0 74.9 465.6 76.1 470.4 75.8 472.4 76.9 472.2 78.4 475.5 80.1 479.6 78.2 480.4 77.9M480.4 77.9 484.5 76.9 487.0 77.0 493.5 77.2 495.5 78.2M495.5 78.2 491.9 79.9 489.9 80.8 486.6 80.7 484.8 82.2M484.8 82.2 485.3 83.7 486.8 85.7M480.4 77.9 479.2 79.9 481.5 81.1 479.7 82.0 484.8 82.2M475.5 86.0 475.2 83.0 476.5 82.0 479.7 82.0M495.5 78.2 495.6 76.7 496.5 76.5 495.8 74.4 499.3 73.5 498.9 72.9 500.1 70.4 504.2 70.6 504.5 68.6 507.1 67.5M444.7 71.7 443.5 70.0 441.1 69.2 440.2 68.5 441.5 65.7 443.8 66.3 447.3 63.6 451.5 63.9 453.3 64.6 455.3 65.3 460.1 64.6 462.2 65.0 464.7 65.0 465.0 64.2 462.4 63.3 464.0 62.7 463.8 60.7 465.6 60.1 470.6 59.5 475.8 58.5 480.1 58.1 480.7 59.8 484.3 60.8 486.0 60.5 489.4 59.8 491.7 61.1 495.2 65.0 500.7 64.6 503.7 66.8 507.1 67.5M507.1 67.5 511.1 66.3 515.6 65.0 519.1 66.2 523.5 66.5 525.2 65.3 524.7 63.6 527.8 63.1 531.5 64.2 531.7 65.3 534.0 65.9 537.8 65.7 541.9 67.2 545.6 67.4 549.3 66.6 552.0 65.9 555.3 66.5M507.9 67.4 508.3 68.3 512.4 70.0 513.2 71.4 513.0 73.5 517.3 74.0 520.4 74.9 522.0 77.3 527.9 77.5 530.9 77.6 536.0 78.8 539.4 77.9 543.5 77.8 547.3 75.8 547.4 73.8 550.2 74.1 553.8 73.0 555.2 71.8 560.2 71.4 560.4 70.6 558.3 69.4 557.1 69.7 553.8 69.5 554.2 68.0 555.3 66.5M555.3 66.5 557.1 66.9 559.4 66.0 560.7 63.6 561.9 62.2 562.7 61.1 566.6 60.8 569.9 61.6 570.6 62.2 573.0 65.9 573.2 66.5 576.3 67.1 578.3 67.9 578.8 69.7 582.0 69.1 584.8 68.8 583.7 70.3 582.2 73.6 580.2 73.3 579.1 75.3 579.3 76.2 578.1 77.8M578.1 77.8 576.8 77.0 573.8 78.4 574.3 79.1 572.0 78.7 569.4 80.5 567.9 81.3M570.7 84.8 574.5 83.6M541.1 109.7 538.9 108.9 536.8 106.9 533.7 108.0 531.4 108.3M531.4 108.3 530.7 110.1 529.9 109.7M529.9 109.7 527.9 109.3 526.6 108.6 527.1 107.4 525.8 105.8 524.0 105.8 525.5 103.1 525.8 100.5 523.8 99.0M523.8 99.0 523.0 101.0 520.1 102.8 519.1 104.8 517.1 105.8 517.0 108.6 515.8 110.0 515.3 110.9M509.9 109.2 509.6 107.1 508.4 105.1 509.7 103.9 508.9 102.2 511.2 102.8 511.2 103.9 515.2 104.2 513.5 105.8 514.0 107.4 515.3 106.3 515.8 110.0M523.8 99.0 521.4 97.8 519.1 97.9 514.8 100.0 514.2 100.0M514.2 100.0 512.0 99.4 509.9 100.8 511.2 101.6 514.8 101.4 514.2 100.0M509.9 100.8 509.6 99.7 508.4 99.9M508.4 99.9 505.0 99.7 501.7 97.8 498.4 96.2 496.8 96.4M496.8 96.4 495.3 98.5 500.1 100.7 504.7 101.9 508.4 102.2 508.4 99.9M496.8 96.4 493.5 95.0 493.2 92.9 494.3 92.4 493.0 90.1 491.5 88.3 488.4 86.6 486.8 85.7M475.8 106.4 476.8 105.4 480.4 105.2 479.1 103.2 478.8 100.2 482.0 99.7 484.3 96.8 486.1 95.2 486.0 92.4 485.3 90.6 488.6 89.5 491.5 88.3M526.0 126.9 527.1 124.8 526.3 122.3 525.0 119.6 525.6 117.6 524.2 115.6 524.3 114.2 524.7 112.4 528.1 111.5M528.1 111.5 528.9 109.8 529.9 109.7M528.1 111.5 528.8 112.7 529.9 112.7 529.9 115.8 531.4 114.7 533.4 114.4 535.8 115.9 535.8 118.0 537.1 119.1 536.5 120.6M536.5 120.6 532.9 120.6 531.9 121.7 532.7 124.6M536.5 120.6 537.8 121.1 540.2 120.0M540.2 120.0 540.2 118.0 538.6 116.5 536.5 114.2 534.5 112.7 535.8 111.2 532.9 110.4 531.4 108.3M540.2 120.0 540.2 123.4 537.8 124.6 537.4 125.7 535.3 126.6M528.1 132.7 529.6 133.6 531.4 133.0M543.7 139.4 545.2 141.1 547.6 140.2 551.7 140.3 553.4 137.9 553.7 135.9 556.8 136.0M551.1 135.4 552.2 136.3 553.0 135.0M597.6 158.8 599.3 161.5 599.6 164.3 602.2 165.3 602.5 167.6 603.4 169.9 605.0 171.9 607.5 173.3 609.1 176.0 611.2 178.0 613.2 180.0 615.2 181.4 615.0 183.6 615.8 185.9 614.8 189.0 614.0 191.7 612.0 194.0 611.1 196.1 609.9 198.6 609.7 199.7 606.6 200.3 604.2 201.9 601.7 200.9 600.9 200.6 599.3 201.6 596.0 200.9 593.5 199.5 592.7 197.2 591.1 196.6 590.6 195.1 589.9 196.1 588.3 196.1 589.4 194.3 589.9 192.3 587.0 195.4 586.1 195.5 583.7 192.8 582.9 191.4 578.8 190.5 574.7 191.3 570.6 191.7 567.3 192.8 566.5 194.2 562.4 194.0 559.9 194.9 557.4 195.8 554.2 195.7 552.5 194.8 553.5 192.8 553.7 191.0 552.5 188.2 551.7 185.9 550.1 182.9 550.1 180.6 550.4 177.5 551.2 175.7 553.4 174.5 555.8 173.9 559.1 173.0 562.4 172.3 564.3 170.2 564.3 168.4 566.5 168.8 566.8 167.2 568.1 165.8 570.2 164.1 572.2 163.8 573.8 165.0 576.3 165.2 576.6 163.0 578.4 161.4 581.2 160.9 581.2 159.7 582.9 160.5 585.3 161.1 588.3 161.1 587.8 162.7 586.8 163.8 586.1 165.3 588.6 166.6 591.9 168.1 593.5 169.3 595.2 167.6 596.0 165.3 596.3 162.3 596.5 160.8 597.6 158.8M587.9 197.1 590.2 197.1M577.6 160.0 579.3 159.8M587.8 163.8 588.3 164.1M638.6 214.1 639.7 214.1M107.3 110.6 108.1 110.9M104.6 109.7 105.5 109.8M102.2 108.7 102.7 108.9M68.9 270.6 68.9 269.7 87.6 267.4 106.0 264.6 96.8 263.4 105.0 262.2 119.7 261.4 128.9 257.8 141.0 256.3 152.0 255.0 164.0 254.4 175.0 254.3 186.9 255.3 193.3 253.2 200.1 252.0 205.0 253.0 216.5 253.2 226.3 253.7 234.7 253.4 241.0 251.1 243.8 249.8 250.9 248.9 253.2 246.9 256.6 243.9 262.4 241.0 268.1 239.0 270.6 239.5 268.1 240.8 264.3 242.4 261.5 243.9 257.4 246.2 261.5 248.5 264.0 251.5 264.8 254.6 260.7 257.3 252.5 258.8 242.7 259.9 236.9 260.7 246.0 263.0 255.8 265.6 264.0 268.3 273.8 266.8 282.0 264.8 277.9 261.4 285.3 261.0 291.9 261.9 290.2 264.9 283.7 266.0 296.8 266.5 308.3 264.5 304.2 262.2 309.9 260.7 321.4 258.4 331.2 255.8 339.4 252.7 346.0 251.2 355.8 250.5 364.0 250.0 370.1 250.2 380.4 249.7 393.0 249.5 405.0 249.5 416.0 248.6 420.6 247.1 429.7 246.6 438.9 245.1 446.0 243.9 452.9 242.8 462.0 244.4 468.9 245.1 478.1 246.9 476.3 250.8 474.8 253.4 478.8 252.3 481.2 250.0 483.7 248.0 491.9 245.6 498.4 244.0 507.9 243.1 518.1 243.1 530.9 242.4 541.1 243.6 553.8 243.4 564.0 243.9 577.0 243.4 587.0 243.4 599.9 244.7 609.9 246.5 623.0 248.0 632.9 250.0 641.4 251.2 644.7 253.0 634.5 254.9 639.4 256.9 643.7 258.1 636.1 260.2 627.6 262.4 625.3 266.0 639.1 268.3 659.1 270.6 68.9 270.6M246.0 247.7 250.9 249.2 249.2 252.7 242.7 251.5 246.0 247.7M263.2 237.8 268.9 237.0M288.6 234.9 290.2 235.0M476.8 217.2 479.2 217.8 477.9 218.3 476.8 217.2M599.9 203.0 600.2 203.6M606.6 203.2 607.0 203.9"/><path stroke-width="2.6" d="M161.7 68.6 159.1 68.0 156.6 66.8 153.8 65.3 155.0 65.0 158.3 65.9 160.7 67.2 161.7 68.6M148.9 62.8 146.8 61.1 146.0 59.9 148.1 60.1 147.9 61.4 148.9 62.8M110.7 56.0 113.2 55.2 114.5 54.3 113.2 54.0 110.7 54.6 110.7 56.0M235.6 114.5 238.9 114.8 237.8 115.3 235.6 114.5M253.8 114.4 256.5 114.5 255.8 115.1 253.8 115.0 253.8 114.4M382.0 58.1 384.5 57.2 384.3 58.5 382.0 58.1M402.7 88.3 407.0 88.8 404.7 89.1 402.7 88.3M382.0 22.7 388.6 20.9 396.8 20.4 405.0 20.0 408.3 20.4 400.1 22.4 398.4 23.5 393.5 25.4 388.6 25.0 386.1 23.5 382.0 22.7M581.2 90.6 584.5 90.1 584.5 91.0 582.0 92.4 581.2 90.6M603.4 74.6 605.0 73.8M606.6 73.3 609.1 72.3M611.5 71.1 613.5 70.3M615.6 68.5 617.3 66.9M618.9 66.0 620.1 65.1M556.1 129.6 558.3 128.0 559.9 125.2 559.6 126.9 557.4 129.2 556.1 129.6M561.4 122.0 562.9 122.2 562.7 123.7 561.4 122.0M611.2 146.4 614.0 148.2 614.8 149.5M617.5 150.7 619.4 152.8M621.4 153.6 624.7 155.1M626.0 156.6 627.6 157.4M627.5 155.1 628.4 156.9M628.4 158.2 629.9 158.8M551.9 155.0 553.5 155.4M554.2 155.3 555.2 155.9M555.5 155.7 559.1 155.4M560.7 155.4 565.3 155.4M559.1 157.1 561.9 157.7M570.6 147.5 572.2 147.8M537.0 145.2 538.6 146.7M523.3 140.5 524.3 141.4M525.8 144.3 526.6 145.2M584.2 151.1 584.5 152.7M579.1 153.9 579.7 154.5M601.2 204.5 604.2 205.1 607.0 204.7 607.1 206.5 605.8 208.4 603.4 208.8 602.0 206.8 601.2 204.5M657.1 167.8 658.8 167.3M637.3 165.8 638.1 166.2M638.4 167.2 638.9 167.6M639.7 169.3 640.1 169.6M641.4 171.1 641.6 172.2M398.4 24.2 402.5 23.8M109.9 54.7 105.8 56.3 101.7 57.8 97.6 58.7 94.3 59.3M92.7 59.8 89.4 60.7 86.1 61.6 82.0 62.5 77.9 63.0 73.8 63.4M577.9 91.3 581.2 90.1 585.3 89.7M552.5 155.3 555.8 155.6 559.9 155.4 564.8 155.4M570.6 147.6 573.8 147.3 577.1 147.3M573.0 144.7 573.5 141.7 573.7 140.2M577.9 144.0 578.8 143.2M380.4 58.2 382.9 57.9 384.2 57.8M403.3 85.2 405.5 86.0 407.9 85.7M225.5 108.9 228.7 107.7 232.8 107.7 236.5 109.5 240.2 111.3M203.3 34.7 208.3 33.4 211.5 32.2M216.5 31.1 221.4 32.6 226.3 31.7 231.2 32.6M237.8 40.5 244.3 39.8 249.2 40.7 254.2 40.2M242.7 43.6 249.2 44.4 254.2 45.9M226.3 23.5 232.8 21.2 239.4 19.6M208.3 21.2 214.8 20.4 219.7 18.9M164.0 31.1 167.3 31.9 172.2 33.4M331.2 24.2 327.9 25.7 329.6 27.3M283.7 48.6 280.4 45.9 278.8 43.3 277.6 41.0"/><path stroke-width="2.5" d="M266.8 69.7 270.6 69.8 273.0 70.8 275.5 71.1 277.1 71.2 277.6 69.8 276.3 68.5 275.5 67.1 273.0 66.3 271.4 65.4 272.8 63.9 270.2 65.1 268.9 66.9 266.9 68.5 266.8 69.7M224.7 109.0 227.9 107.5 230.4 107.2 233.7 108.0 236.9 109.3 240.2 110.9 242.4 111.6 241.0 112.1 236.9 112.1 237.4 111.0 235.3 110.0 232.0 109.2 229.6 108.3 227.1 108.7 224.7 109.0M242.0 114.4 244.3 112.1 246.5 112.2 249.2 112.2 251.9 114.1 250.1 114.5 247.6 115.0 246.5 115.4 244.7 114.5 242.0 114.4M354.7 66.0 357.4 65.7 359.1 65.1 362.4 65.1 366.1 64.5 366.3 64.0 364.8 63.9 366.8 62.1 364.5 61.6 364.0 60.7 363.7 59.6 361.5 58.5 360.7 57.2 359.1 57.0 359.9 56.3 360.7 54.4 357.4 54.6 358.8 53.1 355.8 53.1 354.5 54.6 353.8 56.0 355.3 57.2 356.1 58.5 358.3 58.7 359.1 60.1 358.6 61.1 356.6 61.1 357.1 62.2 355.5 63.4 358.3 64.0 357.0 64.6 354.7 66.0M542.2 113.2 544.3 111.9 546.0 112.4 545.2 113.9 543.5 114.7 542.2 113.2M563.2 104.0 564.0 104.6 562.9 107.4 562.0 108.9 560.9 107.4 562.0 105.1 563.2 104.0M594.0 79.1 595.6 77.6 598.9 78.4 602.5 76.4 601.7 75.3 598.4 74.9 596.5 73.2 596.0 76.1 594.0 76.5 593.2 77.6 594.0 79.1M595.2 79.3 596.0 80.7 596.8 82.2 595.2 84.2 595.2 86.3 594.8 88.0 593.5 89.1 591.9 88.9 591.4 89.5 588.6 89.7 588.3 90.1 586.6 91.3 585.5 90.1 582.9 90.0 580.4 90.6 578.8 90.6 578.8 89.8 581.2 88.4 583.7 88.1 587.0 88.0 588.3 86.0 589.1 85.2 588.9 86.3 591.1 85.4 592.7 83.7 593.5 81.4 593.5 79.9 595.2 79.3M578.8 143.7 581.2 143.1 583.7 143.7 585.3 147.5 589.4 144.9 592.7 145.8 595.2 146.4 599.3 147.8 601.7 149.0 603.4 150.8 605.8 151.6 605.0 152.8 607.5 155.7 610.7 158.5 606.6 158.0 604.2 156.0 600.9 154.2 598.4 156.2 595.2 156.3 591.9 154.7 590.2 155.1 591.1 153.1 590.2 150.8 586.1 149.3 582.9 148.6 581.7 147.0 583.7 146.0 580.4 145.8 578.8 143.7M647.1 194.9 649.3 196.3 650.6 198.6 652.2 198.4 652.5 199.8 655.8 199.8 656.6 200.0 655.8 201.9 654.2 202.4 654.0 203.9 652.5 205.3 651.4 205.9 650.4 205.5 650.9 203.9 648.9 202.4 650.2 201.6 650.4 199.7 649.7 198.1 647.6 195.8 647.1 194.9M647.1 204.2 649.7 205.3 649.3 206.4 647.6 208.4 647.1 209.3 644.8 210.0 644.3 211.9 643.5 212.6 641.9 213.5 639.9 213.5 637.0 212.6 637.3 211.6 639.4 209.9 641.9 208.8 644.3 207.3 645.2 206.1 646.3 204.5 647.1 204.2"/><path stroke-width="2.4" d="M255.8 48.0 252.5 47.4 247.6 46.3 245.1 44.8 241.9 44.1 236.9 44.2 236.1 43.3 242.7 42.5 243.5 41.0 244.3 38.7 239.4 37.2 235.3 35.7 232.8 35.7 229.6 35.7 224.7 35.4 219.7 34.9 217.3 33.7 218.1 31.9 219.7 30.6 223.8 30.0 229.6 30.0 232.0 31.4 236.1 31.4 241.0 32.3 246.8 33.8 251.7 35.2 254.2 37.2 259.1 39.5 263.2 40.7 260.7 42.5 257.4 42.1 254.2 42.1 257.4 44.1 257.8 45.9 252.5 45.3 255.8 48.0M172.2 35.7 175.5 36.7 177.9 37.8 183.7 37.8 188.6 37.3 191.9 37.0 196.8 37.2 197.6 35.7 192.7 34.1 191.9 31.4 186.9 30.8 182.0 31.4 176.3 30.8 170.6 31.7 168.9 33.4 172.2 35.7M159.1 32.8 162.4 34.0 165.6 33.4 169.7 31.9 173.8 30.8 171.4 29.3 164.8 28.8 159.9 29.6 158.3 31.9 159.1 32.8M213.2 28.5 223.0 28.8 232.8 28.6 232.0 27.0 223.0 26.8 218.1 25.9 213.2 25.7 213.2 28.5M216.5 26.1 226.3 25.9 236.1 26.2 237.8 23.8 241.0 22.7 246.0 21.2 252.5 20.4 259.1 18.6 262.4 17.4 262.4 16.6 255.8 15.8 249.2 15.7 239.4 15.7 232.8 15.8 224.7 16.4 219.7 16.9 213.2 18.4 221.4 19.6 224.7 21.2 219.7 22.7 221.4 24.2 216.5 26.1M324.7 42.5 327.9 41.2 331.2 42.1 334.5 41.5 337.8 41.0 340.2 42.1 341.9 43.3 339.4 44.4 334.5 45.6 330.4 45.4 327.1 45.0 327.9 44.1 324.7 43.4 327.1 42.8 324.7 42.5M347.6 63.7 350.9 63.4 353.7 62.8 354.2 61.1 354.2 59.6 355.0 59.0 353.3 58.2 350.9 58.2 350.1 59.3 347.6 59.8 348.4 61.1 348.4 62.2 347.6 63.7M378.1 77.8 379.4 76.9 379.6 78.4 379.1 79.3 378.1 77.8M377.4 80.1 379.2 79.6 379.9 81.4 379.6 82.8 377.9 83.0 377.8 81.4 377.4 80.1M384.5 84.5 389.4 84.2 388.8 86.5 384.5 85.1 384.5 84.5M417.0 89.1 418.1 88.6 420.6 88.1 419.7 89.1 418.1 89.7 417.0 89.1M448.4 33.2 451.7 34.4 457.4 34.7 455.8 31.9 455.0 30.6 457.4 28.5 462.4 26.8 469.7 25.9 476.3 25.3 472.2 26.5 464.0 28.0 459.1 29.9 454.2 32.0 448.4 33.2M495.2 127.7 497.1 129.5 498.1 131.8 496.8 133.0 495.3 133.3 494.7 131.0 495.2 127.7M597.6 59.6 598.4 61.6 598.9 63.9 600.1 66.9 598.4 67.7 597.9 70.0 599.3 71.5 597.6 72.3 596.8 70.0 596.8 66.9 596.5 63.9 596.8 61.1 597.6 59.6M516.1 122.2 516.0 124.6M108.4 111.6 109.9 112.6 108.9 113.5 108.3 112.6 108.4 111.6M385.0 39.0 387.0 38.4 389.1 37.6M602.5 75.3 605.8 73.8M351.9 55.0 353.3 53.5M405.0 81.7 406.6 82.7M242.7 114.1 246.0 113.5 249.2 113.5 251.2 114.1M620.6 63.1 620.1 60.1 620.1 57.0M597.9 61.6 598.4 65.4 598.1 69.2M637.8 211.9 640.2 210.0 643.5 208.5M263.2 238.1 268.1 237.2M223.0 37.5 226.3 38.7 227.9 40.5M186.9 37.2 193.5 37.8 200.1 37.5M325.5 42.1 327.9 41.5 329.6 42.4"/><path stroke-width="2.7" d="M578.8 90.7 580.1 92.1 579.6 94.4 578.3 95.2 577.4 93.3 576.8 92.1 577.9 90.9 578.8 90.7M542.7 140.2 544.8 139.9 546.5 138.9 549.3 137.6 550.9 135.6 553.4 134.1 555.5 131.8 557.0 132.8 559.4 134.5 557.4 135.9 557.1 137.9 557.4 139.4 559.1 140.9 557.1 141.2 556.6 143.2 555.0 145.5 554.5 147.8 551.7 148.7 549.3 147.5 547.1 147.6 544.7 146.7 544.3 144.6 542.7 142.4 542.7 140.2M607.1 151.0 609.9 150.8 613.2 149.0 613.5 150.1 610.7 151.9 607.1 151.0M566.6 158.0 568.9 156.5 572.2 155.3 569.7 157.2 566.6 158.0M573.8 147.0 578.4 147.5"/><path stroke-width="2.8" d="M561.5 114.2 564.3 114.2 564.5 116.5 563.2 118.8 564.0 120.8 567.0 121.4 567.3 122.9 564.8 121.4 562.4 121.6 561.7 120.3 560.7 118.8 561.2 117.3 561.5 114.2M564.0 131.8 566.1 129.3 568.9 127.7 571.1 128.7 571.4 131.5 570.6 132.8 569.4 133.3 567.3 132.1 566.5 131.0 564.0 131.8M567.8 123.4 569.7 123.8 570.1 125.4 568.9 126.9 568.4 125.7 567.8 123.4M564.0 124.4 565.6 124.9 564.8 126.4 564.0 126.4 564.0 124.4M565.2 126.0 566.5 126.4 565.6 128.6M520.2 133.9 523.8 134.5 525.5 136.3 527.9 138.6 529.6 139.4 532.0 140.9 534.0 142.0 534.2 144.0 535.3 145.2 537.8 147.0 537.4 151.3 535.6 151.3 533.7 150.1 531.7 148.6 529.6 146.3 528.4 144.0 526.3 141.7 525.5 139.7 523.3 137.6 521.4 135.9 520.2 133.9M536.5 152.8 538.6 151.6 541.5 152.1 545.2 153.0 546.3 152.4 548.8 153.0 551.7 154.3 551.7 155.7 548.8 155.3 545.2 155.0 541.9 154.3 538.6 153.7 536.5 152.8M573.0 139.6 573.8 140.5 575.0 140.9 573.7 142.0 573.8 143.5 573.0 141.7 573.0 139.6M632.9 173.3 635.3 174.9 637.8 176.5M654.7 169.5 656.8 169.9M252.5 20.3 260.7 18.6 273.8 17.1 290.2 16.4 309.9 15.2 323.0 15.8 331.2 17.5M255.8 47.7 252.5 47.0 257.4 45.6 257.1 44.1 254.2 42.4 257.4 41.8 260.7 42.2M258.3 50.6 260.7 54.0 263.2 56.3 265.6 58.2 268.9 59.3 270.6 61.6M180.4 23.5 183.7 22.7M191.9 30.3 191.0 28.0M175.5 34.9 180.4 34.9 185.3 35.7 190.2 35.7M224.7 32.6 227.9 34.1 232.8 34.1 237.8 34.9M229.6 25.3 234.5 24.7 232.8 23.0 239.4 21.5 246.0 20.0 252.5 18.4M216.5 18.1 224.7 18.4 232.8 18.1 246.0 17.4M450.1 33.4 454.2 31.7 455.8 30.3 458.3 28.3 463.2 26.7 470.6 25.7M121.4 50.2 117.3 51.7 114.0 52.4 111.5 53.5M566.5 123.4 568.1 124.9 568.9 126.4 568.1 127.5M564.8 125.7 566.0 127.2M93.5 265.3 105.0 263.0 114.8 261.9M262.4 256.9 255.8 258.4 246.0 259.6 239.4 260.7M168.9 25.6 180.4 25.0 193.5 25.0 205.0 24.2M172.2 29.9 183.7 29.3 195.1 28.8 203.3 28.6M178.7 33.1 186.9 33.2 195.1 33.2M236.1 36.4 242.7 38.0 249.2 37.5 252.5 38.7"/><path stroke-width="2.9" d="M560.4 141.4 562.4 140.5 565.6 141.1 568.9 140.0 567.3 141.8 563.2 141.7 560.7 143.7 563.2 144.0 566.1 143.7 564.0 145.2 564.8 147.8 566.0 150.5 564.0 150.1 562.9 148.6 561.5 146.7 561.2 150.8 559.9 150.8 559.9 147.8 558.8 146.7 560.4 141.4"/><path stroke-width="3.6" d="M244.3 23.0 247.6 24.7 251.7 26.5 259.1 26.2 265.6 26.8 269.7 28.8 273.0 31.9 274.7 34.1 275.5 35.7 278.8 36.7 277.1 38.3 276.6 40.2 278.3 42.5 279.9 44.8 282.0 47.0 284.8 48.9 288.6 49.7 291.0 50.8"/><path stroke-width="3.2" d="M293.0 50.5 294.7 47.9 296.8 45.6 298.4 43.6 302.5 41.9 306.6 40.7 311.5 38.6 318.1 38.0 323.0 36.1 327.1 34.9 323.8 33.4 327.1 32.3 327.9 30.3 330.4 28.0 332.9 25.3 332.0 22.7 335.3 20.4 341.0 18.4M372.7 52.4 372.2 50.9 372.2 48.6 373.8 47.3 377.1 45.9 380.4 44.8 382.9 43.3 385.3 41.3 387.8 39.0 388.6 38.0 391.1 37.2 395.1 36.0 400.1 35.1 405.0 34.1 409.9 34.4M159.9 66.9 155.8 64.6 153.7 62.4 151.7 60.5 149.6 58.9 147.6 57.3 145.1 55.5 142.7 54.0M254.2 246.2 257.4 243.1 261.5 241.3 266.5 239.8 269.7 239.2"/><path stroke-width="3.0" d="M262.7 40.7 259.1 39.5 254.2 37.2 251.7 35.2 246.8 33.8 241.0 32.3 236.1 31.4 232.0 31.1M208.3 29.3 214.8 29.3 223.0 29.1 232.0 28.8M167.3 26.8 175.5 27.3 183.7 27.3 190.2 27.1M200.1 26.8 206.6 26.5 211.5 25.3 216.5 25.0 223.0 24.5M193.5 22.7 203.3 23.0 209.9 21.9 216.5 21.2 223.0 20.7M200.1 31.4 204.2 30.8 209.9 31.1M355.3 57.6 354.5 56.3 354.2 54.7 355.5 53.2M385.3 22.7 390.2 21.9 396.8 21.2 401.7 20.7M388.6 24.2 392.7 23.5 396.8 22.9M249.2 223.3 251.7 224.5 254.2 225.9M327.9 29.6 323.8 31.1 321.4 32.6 322.2 34.4 319.7 35.2"/><path stroke-width="3.4" d="M243.0 206.2 243.3 209.6 242.0 212.6 240.7 215.7 240.7 218.7 241.9 221.5 244.0 223.6 247.1 225.1 250.1 226.4"/><path stroke-width="2.2" d="M236.1 102.0 237.3 104.0 239.4 105.8 241.4 107.4 243.8 108.9M257.8 114.7 260.7 115.3 262.7 117.3 263.7 119.6 264.0 121.4 263.0 123.7"/><path stroke-width="2.4" d="M82.5 163.5h0.01M81.2 163.2h0.01M84.2 164.3h0.01M76.8 174.8h0.01M78.7 171.0h0.01M78.9 166.7h0.01M118.9 169.3h0.01M115.6 167.9h0.01M125.5 166.9h0.01M131.2 166.9h0.01M133.7 169.9h0.01M136.9 172.2h0.01M141.0 175.2h0.01M142.8 177.7h0.01M134.3 156.0h0.01M136.1 157.4h0.01M136.5 158.5h0.01M106.0 139.6h0.01M102.7 136.5h0.01M101.0 135.3h0.01M98.4 133.4h0.01M108.4 148.6h0.01M110.1 151.1h0.01M115.1 159.8h0.01M117.8 157.6h0.01M83.3 156.5h0.01M81.2 155.4h0.01M85.5 171.4h0.01M102.0 174.8h0.01M105.1 175.9h0.01M105.0 173.0h0.01M96.8 169.9h0.01M92.2 159.1h0.01M100.1 158.3h0.01M74.6 142.1h0.01M101.7 143.1h0.01M184.6 183.8h0.01M150.7 180.7h0.01M153.7 179.7h0.01M127.4 184.6h0.01M121.9 178.1h0.01M118.9 178.9h0.01M115.8 176.8h0.01M113.5 176.9h0.01M257.8 93.2h0.01M237.1 104.3h0.01M239.4 105.5h0.01M241.0 106.6h0.01M243.2 108.1h0.01M245.5 109.2h0.01M244.3 110.4h0.01M236.1 101.7h0.01M263.2 117.6h0.01M264.0 120.0h0.01M263.3 119.0h0.01M263.7 122.3h0.01M266.5 122.3h0.01M262.8 124.0h0.01M261.0 116.1h0.01M260.7 114.8h0.01M257.9 115.4h0.01M257.6 114.5h0.01M251.0 123.8h0.01M249.2 123.4h0.01M252.0 123.8h0.01M230.7 113.0h0.01M233.0 112.4h0.01M222.2 117.6h0.01M320.6 231.7h0.01M354.7 166.9h0.01M340.4 154.5h0.01M425.8 214.0h0.01M448.9 213.2h0.01M491.1 200.1h0.01M491.2 201.5h0.01M484.5 223.5h0.01M624.5 225.7h0.01M636.6 219.8h0.01M641.4 222.5h0.01M657.1 218.3h0.01M74.6 209.4h0.01M639.3 186.7h0.01M624.8 190.5h0.01M482.7 153.6h0.01M484.3 136.0h0.01M484.5 142.4h0.01M483.8 132.2h0.01M483.3 125.4h0.01M522.7 161.1h0.01M537.3 158.5h0.01M603.0 119.3h0.01M601.4 121.9h0.01M602.9 115.0h0.01M584.5 131.2h0.01M590.4 128.0h0.01M612.9 131.2h0.01M623.4 131.9h0.01M631.2 134.4h0.01M644.7 131.6h0.01M638.9 129.2h0.01M647.6 140.3h0.01M647.5 137.9h0.01M650.4 143.4h0.01M641.9 143.2h0.01M637.6 143.2h0.01M657.8 155.4h0.01M654.7 152.1h0.01M652.9 161.5h0.01M72.0 164.3h0.01M75.1 162.7h0.01M567.6 105.2h0.01M569.4 104.6h0.01M395.1 28.8h0.01M350.1 34.1h0.01M332.9 45.7h0.01M269.2 238.9h0.01M273.0 235.8h0.01M303.3 225.3h0.01M320.7 230.6h0.01M215.6 143.2h0.01M217.3 143.7h0.01M214.0 142.4h0.01M234.7 193.7h0.01M182.2 113.8h0.01M170.1 98.2h0.01M175.1 99.6h0.01M189.6 109.7h0.01M436.8 161.1h0.01M438.1 162.0h0.01"/>
</g>
<circle cx="98.1" cy="38.1" r="3.95" fill="#FF0000"/>
<circle cx="99.7" cy="38.1" r="3.95" fill="#FF0000"/>
<circle cx="119.1" cy="37.4" r="3.95" fill="#FF0000"/>
<circle cx="119.1" cy="43.2" r="3.95" fill="#FF0000"/>
<circle cx="124.9" cy="44.4" r="3.95" fill="#FF0000"/>
<circle cx="169.8" cy="70.1" r="3.95" fill="#FF0000"/>
<circle cx="163.5" cy="74.7" r="3.95" fill="#FF0000"/>
<circle cx="165.8" cy="82.9" r="3.95" fill="#FF0000"/>
<circle cx="173.8" cy="86.0" r="3.95" fill="#FF0000"/>
<circle cx="195.0" cy="64.7" r="3.95" fill="#FF0000"/>
<circle cx="201.3" cy="64.2" r="3.95" fill="#FF0000"/>
<circle cx="198.5" cy="70.1" r="3.95" fill="#FF0000"/>
<circle cx="190.8" cy="80.6" r="3.95" fill="#FF0000"/>
<circle cx="195.0" cy="81.3" r="3.95" fill="#FF0000"/>
<circle cx="188.5" cy="88.8" r="3.95" fill="#FF0000"/>
<circle cx="188.9" cy="92.7" r="3.95" fill="#FF0000"/>
<circle cx="200.9" cy="89.9" r="3.95" fill="#FF0000"/>
<circle cx="206.0" cy="82.2" r="3.95" fill="#FF0000"/>
<circle cx="211.4" cy="72.4" r="3.95" fill="#FF0000"/>
<circle cx="210.7" cy="77.1" r="3.95" fill="#FF0000"/>
<circle cx="217.0" cy="75.9" r="3.95" fill="#FF0000"/>
<circle cx="201.8" cy="112.8" r="3.95" fill="#FF0000"/>
<circle cx="105.6" cy="109.3" r="3.95" fill="#FF0000"/>
<circle cx="330.6" cy="28.0" r="3.95" fill="#FF0000"/>
<circle cx="296.8" cy="60.7" r="3.95" fill="#FF0000"/>
<circle cx="347.0" cy="63.8" r="3.95" fill="#FF0000"/>
<circle cx="217.3" cy="75.9" r="3.95" fill="#FF0000"/>
<circle cx="223.9" cy="73.6" r="3.95" fill="#FF0000"/>
<circle cx="223.9" cy="77.8" r="3.95" fill="#FF0000"/>
<circle cx="246.1" cy="75.2" r="3.95" fill="#FF0000"/>
<circle cx="227.1" cy="88.3" r="3.95" fill="#FF0000"/>
<circle cx="230.9" cy="102.8" r="3.95" fill="#FF0000"/>
<circle cx="247.8" cy="128.6" r="3.95" fill="#FF0000"/>
<circle cx="260.7" cy="157.7" r="3.95" fill="#FF0000"/>
<circle cx="355.2" cy="132.7" r="3.95" fill="#FF0000"/>
<circle cx="381.7" cy="45.1" r="3.95" fill="#FF0000"/>
<circle cx="364.2" cy="62.6" r="3.95" fill="#FF0000"/>
<circle cx="366.3" cy="66.4" r="3.95" fill="#FF0000"/>
<circle cx="368.9" cy="69.4" r="3.95" fill="#FF0000"/>
<circle cx="372.4" cy="68.2" r="3.95" fill="#FF0000"/>
<circle cx="375.0" cy="66.4" r="3.95" fill="#FF0000"/>
<circle cx="379.4" cy="67.3" r="3.95" fill="#FF0000"/>
<circle cx="382.9" cy="66.4" r="3.95" fill="#FF0000"/>
<circle cx="384.7" cy="62.9" r="3.95" fill="#FF0000"/>
<circle cx="382.0" cy="69.1" r="3.95" fill="#FF0000"/>
<circle cx="390.8" cy="68.7" r="3.95" fill="#FF0000"/>
<circle cx="394.3" cy="70.8" r="3.95" fill="#FF0000"/>
<circle cx="396.9" cy="68.2" r="3.95" fill="#FF0000"/>
<circle cx="399.6" cy="69.9" r="3.95" fill="#FF0000"/>
<circle cx="362.8" cy="75.2" r="3.95" fill="#FF0000"/>
<circle cx="366.3" cy="75.7" r="3.95" fill="#FF0000"/>
<circle cx="368.9" cy="73.4" r="3.95" fill="#FF0000"/>
<circle cx="357.7" cy="80.7" r="3.95" fill="#FF0000"/>
<circle cx="426.2" cy="57.7" r="3.95" fill="#FF0000"/>
<circle cx="427.6" cy="70.8" r="3.95" fill="#FF0000"/>
<circle cx="415.1" cy="96.5" r="3.95" fill="#FF0000"/>
<circle cx="447.6" cy="87.7" r="3.95" fill="#FF0000"/>
<circle cx="570.9" cy="31.5" r="3.95" fill="#FF0000"/>
<circle cx="527.6" cy="82.9" r="3.95" fill="#FF0000"/>
<circle cx="528.1" cy="86.0" r="3.95" fill="#FF0000"/>
<circle cx="529.5" cy="104.4" r="3.95" fill="#FF0000"/>
<circle cx="530.6" cy="108.6" r="3.95" fill="#FF0000"/>
<circle cx="532.7" cy="112.6" r="3.95" fill="#FF0000"/>
<circle cx="540.9" cy="103.2" r="3.95" fill="#FF0000"/>
<circle cx="543.9" cy="100.0" r="3.95" fill="#FF0000"/>
<circle cx="547.0" cy="96.9" r="3.95" fill="#FF0000"/>
<circle cx="554.9" cy="99.3" r="3.95" fill="#FF0000"/>
<circle cx="559.1" cy="93.4" r="3.95" fill="#FF0000"/>
<circle cx="561.9" cy="94.6" r="3.95" fill="#FF0000"/>
<circle cx="569.2" cy="67.0" r="3.95" fill="#FF0000"/>
<circle cx="572.4" cy="68.9" r="3.95" fill="#FF0000"/>
<circle cx="575.5" cy="70.1" r="3.95" fill="#FF0000"/>
<circle cx="578.5" cy="70.8" r="3.95" fill="#FF0000"/>
<circle cx="574.3" cy="73.6" r="3.95" fill="#FF0000"/>
<circle cx="577.3" cy="75.2" r="3.95" fill="#FF0000"/>
<circle cx="573.1" cy="78.3" r="3.95" fill="#FF0000"/>
<circle cx="625.0" cy="36.9" r="3.95" fill="#FF0000"/>
<circle cx="627.8" cy="36.2" r="3.95" fill="#FF0000"/>
<circle cx="630.1" cy="35.5" r="3.95" fill="#FF0000"/>
<circle cx="425.1" cy="147.0" r="3.95" fill="#FF0000"/>
<circle cx="527.8" cy="144.0" r="3.95" fill="#FF0000"/>
<circle cx="539.7" cy="154.3" r="3.95" fill="#FF0000"/>
<circle cx="555.1" cy="196.4" r="3.95" fill="#FF0000"/>
<circle cx="585.9" cy="192.6" r="3.95" fill="#FF0000"/>
<circle cx="588.6" cy="194.5" r="3.95" fill="#FF0000"/>
<circle cx="591.8" cy="195.9" r="3.95" fill="#FF0000"/>
<circle cx="612.1" cy="189.4" r="3.95" fill="#FF0000"/>
<circle cx="614.0" cy="186.7" r="3.95" fill="#FF0000"/>
<circle cx="615.6" cy="185.3" r="3.95" fill="#FF0000"/>
<circle cx="650.4" cy="198.6" r="3.95" fill="#FF0000"/>
<rect x="63.40" y="5.30" width="621.00" height="274.50" fill="none" stroke="#4a4a4a" stroke-width="1.3"/>
<line x1="58.40" y1="5.30" x2="63.40" y2="5.30" stroke="#333333" stroke-width="1.2"/>
<text x="53.90" y="9.45" font-size="11.95px" text-anchor="end" fill="#4D4D4D" font-weight="normal" >90 °N</text>
<line x1="58.40" y1="51.05" x2="63.40" y2="51.05" stroke="#333333" stroke-width="1.2"/>
<text x="53.90" y="55.20" font-size="11.95px" text-anchor="end" fill="#4D4D4D" font-weight="normal" >60 °N</text>
<line x1="58.40" y1="96.80" x2="63.40" y2="96.80" stroke="#333333" stroke-width="1.2"/>
<text x="53.90" y="100.95" font-size="11.95px" text-anchor="end" fill="#4D4D4D" font-weight="normal" >30 °N</text>
<line x1="58.40" y1="142.55" x2="63.40" y2="142.55" stroke="#333333" stroke-width="1.2"/>
<text x="53.90" y="146.70" font-size="11.95px" text-anchor="end" fill="#4D4D4D" font-weight="normal" >0</text>
<line x1="58.40" y1="188.30" x2="63.40" y2="188.30" stroke="#333333" stroke-width="1.2"/>
<text x="53.90" y="192.45" font-size="11.95px" text-anchor="end" fill="#4D4D4D" font-weight="normal" >30 °S</text>
<line x1="58.40" y1="234.05" x2="63.40" y2="234.05" stroke="#333333" stroke-width="1.2"/>
<text x="53.90" y="238.20" font-size="11.95px" text-anchor="end" fill="#4D4D4D" font-weight="normal" >60 °S</text>
<line x1="58.40" y1="279.80" x2="63.40" y2="279.80" stroke="#333333" stroke-width="1.2"/>
<text x="53.90" y="283.95" font-size="11.95px" text-anchor="end" fill="#4D4D4D" font-weight="normal" >90 °S</text>
<line x1="68.91" y1="279.80" x2="68.91" y2="284.40" stroke="#333333" stroke-width="1.2"/>
<text x="68.91" y="297.60" font-size="11.95px" text-anchor="middle" fill="#4D4D4D" font-weight="normal" >180 °W</text>
<line x1="167.27" y1="279.80" x2="167.27" y2="284.40" stroke="#333333" stroke-width="1.2"/>
<text x="167.27" y="297.60" font-size="11.95px" text-anchor="middle" fill="#4D4D4D" font-weight="normal" >120 °W</text>
<line x1="265.64" y1="279.80" x2="265.64" y2="284.40" stroke="#333333" stroke-width="1.2"/>
<text x="265.64" y="297.60" font-size="11.95px" text-anchor="middle" fill="#4D4D4D" font-weight="normal" >60 °W</text>
<line x1="364.00" y1="279.80" x2="364.00" y2="284.40" stroke="#333333" stroke-width="1.2"/>
<text x="364.00" y="297.60" font-size="11.95px" text-anchor="middle" fill="#4D4D4D" font-weight="normal" >0</text>
<line x1="462.36" y1="279.80" x2="462.36" y2="284.40" stroke="#333333" stroke-width="1.2"/>
<text x="462.36" y="297.60" font-size="11.95px" text-anchor="middle" fill="#4D4D4D" font-weight="normal" >60 °E</text>
<line x1="560.73" y1="279.80" x2="560.73" y2="284.40" stroke="#333333" stroke-width="1.2"/>
<text x="560.73" y="297.60" font-size="11.95px" text-anchor="middle" fill="#4D4D4D" font-weight="normal" >120 °E</text>
<line x1="659.09" y1="279.80" x2="659.09" y2="284.40" stroke="#333333" stroke-width="1.2"/>
<text x="659.09" y="297.60" font-size="11.95px" text-anchor="middle" fill="#4D4D4D" font-weight="normal" >180 °E</text>
<text x="374.00" y="314.90" font-size="14.00px" text-anchor="middle" fill="#000" font-weight="normal" >Longitude</text>
<text transform="translate(15.70 142.20) rotate(-90)" font-size="14.00px" text-anchor="middle" fill="#000">Latitude</text>
<text x="0.40" y="10.20" font-size="13.50px" text-anchor="start" fill="#000" font-weight="bold" >a</text>
<path d="M146.40 383.76 L146.14 384.42 L145.80 385.09 L145.40 385.75 L144.94 386.41 L144.44 387.08 L143.89 387.74 L143.21 388.40 L142.45 389.06 L141.62 389.73 L140.76 390.39 L139.89 391.05 L138.98 391.72 L138.03 392.38 L137.02 393.04 L135.96 393.71 L134.84 394.37 L133.64 395.03 L132.35 395.70 L130.99 396.36 L129.60 397.02 L128.19 397.69 L126.78 398.35 L125.32 399.01 L123.84 399.68 L122.32 400.34 L120.78 401.00 L119.20 401.66 L117.57 402.33 L115.90 402.99 L114.21 403.65 L112.53 404.32 L110.87 404.98 L109.19 405.64 L107.52 406.31 L105.85 406.97 L104.20 407.63 L102.58 408.30 L100.90 408.96 L99.20 409.62 L97.64 410.29 L96.42 410.95 L95.34 411.61 L94.53 412.28 L94.45 412.94 L95.16 413.60 L96.23 414.26 L97.39 414.93 L98.90 415.59 L100.59 416.25 L102.29 416.92 L103.92 417.58 L105.62 418.24 L107.35 418.91 L109.04 419.57 L110.64 420.23 L112.13 420.90 L113.59 421.56 L115.00 422.22 L116.33 422.89 L117.54 423.55 L118.61 424.21 L119.57 424.88 L120.45 425.54 L121.27 426.20 L122.02 426.86 L122.72 427.53 L123.37 428.19 L123.97 428.85 L124.53 429.52 L125.06 430.18 L125.57 430.84 L126.05 431.51 L126.49 432.17 L126.92 432.83 L127.33 433.50 L127.74 434.16 L128.17 434.82 L128.62 435.49 L129.07 436.15 L129.51 436.81 L129.93 437.48 L130.32 438.14 L130.67 438.80 L131.00 439.46 L131.31 440.13 L131.63 440.79 L131.97 441.45 L132.34 442.12 L132.73 442.78 L133.13 443.44 L133.54 444.11 L133.95 444.77 L134.35 445.43 L134.74 446.10 L135.14 446.76 L135.53 447.42 L135.93 448.09 L136.34 448.75 L136.76 449.41 L137.18 450.08 L137.61 450.74 L138.05 451.40 L138.50 452.06 L138.97 452.73 L139.45 453.39 L139.94 454.05 L140.45 454.72 L140.98 455.38 L141.54 456.04 L142.17 456.71 L142.82 457.37 L143.45 458.03 L144.01 458.70 L144.48 459.36 L144.93 460.02 L145.34 460.69 L145.62 461.35 L145.73 462.01 L145.80 462.68 L145.85 463.34 L145.90 464.00 L145.93 464.67 L145.95 465.33 L145.96 465.99 L145.97 466.65 L145.97 467.32 L145.97 467.98 L145.98 468.64 L145.98 469.31 L145.98 469.97 L145.99 470.63 L145.99 471.30 L145.99 471.96 L145.99 472.62 L145.99 473.29 L146.00 473.95 L146.00 474.61 L146.00 475.28 L146.00 475.94 L146.00 476.60 L146.00 477.27 L146.00 477.93 L146.00 478.59 L146.00 479.25 L146.00 479.92 L146.00 480.58 L146.00 481.24 L146.00 481.91 L146.00 482.57 L146.01 483.23 L146.01 483.90 L146.01 484.56 L146.01 485.22 L146.01 485.89 L146.01 486.55 L146.01 487.21 L146.01 487.88 L146.01 488.54 L146.01 489.20 L146.01 489.87 L146.02 490.53 L146.02 491.19 L146.02 491.85 L146.02 492.52 L146.02 493.18 L146.03 493.84 L146.03 494.51 L146.03 495.17 L146.04 495.83 L146.04 496.50 L146.05 497.16 L146.05 497.82 L146.09 498.49 L146.15 499.15 L146.23 499.81 L146.32 500.48 L146.40 501.14 L146.40 501.14 L146.48 500.48 L146.57 499.81 L146.65 499.15 L146.71 498.49 L146.75 497.82 L146.75 497.16 L146.76 496.50 L146.76 495.83 L146.77 495.17 L146.77 494.51 L146.77 493.84 L146.78 493.18 L146.78 492.52 L146.78 491.85 L146.78 491.19 L146.78 490.53 L146.79 489.87 L146.79 489.20 L146.79 488.54 L146.79 487.88 L146.79 487.21 L146.79 486.55 L146.79 485.89 L146.79 485.22 L146.79 484.56 L146.79 483.90 L146.79 483.23 L146.80 482.57 L146.80 481.91 L146.80 481.24 L146.80 480.58 L146.80 479.92 L146.80 479.25 L146.80 478.59 L146.80 477.93 L146.80 477.27 L146.80 476.60 L146.80 475.94 L146.80 475.28 L146.80 474.61 L146.80 473.95 L146.81 473.29 L146.81 472.62 L146.81 471.96 L146.81 471.30 L146.81 470.63 L146.82 469.97 L146.82 469.31 L146.82 468.64 L146.83 467.98 L146.83 467.32 L146.83 466.65 L146.84 465.99 L146.85 465.33 L146.87 464.67 L146.90 464.00 L146.95 463.34 L147.00 462.68 L147.07 462.01 L147.18 461.35 L147.46 460.69 L147.87 460.02 L148.32 459.36 L148.79 458.70 L149.35 458.03 L149.98 457.37 L150.63 456.71 L151.26 456.04 L151.82 455.38 L152.35 454.72 L152.86 454.05 L153.35 453.39 L153.83 452.73 L154.30 452.06 L154.75 451.40 L155.19 450.74 L155.62 450.08 L156.04 449.41 L156.46 448.75 L156.87 448.09 L157.27 447.42 L157.66 446.76 L158.06 446.10 L158.45 445.43 L158.85 444.77 L159.26 444.11 L159.67 443.44 L160.07 442.78 L160.46 442.12 L160.83 441.45 L161.17 440.79 L161.49 440.13 L161.80 439.46 L162.13 438.80 L162.48 438.14 L162.87 437.48 L163.29 436.81 L163.73 436.15 L164.18 435.49 L164.63 434.82 L165.06 434.16 L165.47 433.50 L165.88 432.83 L166.31 432.17 L166.75 431.51 L167.23 430.84 L167.74 430.18 L168.27 429.52 L168.83 428.85 L169.43 428.19 L170.08 427.53 L170.78 426.86 L171.53 426.20 L172.35 425.54 L173.23 424.88 L174.19 424.21 L175.26 423.55 L176.47 422.89 L177.80 422.22 L179.21 421.56 L180.67 420.90 L182.16 420.23 L183.76 419.57 L185.45 418.91 L187.18 418.24 L188.88 417.58 L190.51 416.92 L192.21 416.25 L193.90 415.59 L195.41 414.93 L196.57 414.26 L197.64 413.60 L198.35 412.94 L198.27 412.28 L197.46 411.61 L196.38 410.95 L195.16 410.29 L193.60 409.62 L191.90 408.96 L190.22 408.30 L188.60 407.63 L186.95 406.97 L185.28 406.31 L183.61 405.64 L181.93 404.98 L180.27 404.32 L178.59 403.65 L176.90 402.99 L175.23 402.33 L173.60 401.66 L172.02 401.00 L170.48 400.34 L168.96 399.68 L167.48 399.01 L166.02 398.35 L164.61 397.69 L163.20 397.02 L161.81 396.36 L160.45 395.70 L159.16 395.03 L157.96 394.37 L156.84 393.71 L155.78 393.04 L154.77 392.38 L153.82 391.72 L152.91 391.05 L152.04 390.39 L151.18 389.73 L150.35 389.06 L149.59 388.40 L148.91 387.74 L148.36 387.08 L147.86 386.41 L147.40 385.75 L147.00 385.09 L146.66 384.42 L146.40 383.76Z" fill="#56B4E9" />
<path d="M264.30 405.95 L264.24 406.61 L264.18 407.28 L264.11 407.95 L264.03 408.61 L263.94 409.28 L263.86 409.94 L263.76 410.61 L263.66 411.28 L263.56 411.94 L263.46 412.61 L263.34 413.27 L263.22 413.94 L263.08 414.61 L262.94 415.27 L262.79 415.94 L262.62 416.60 L262.45 417.27 L262.27 417.94 L262.09 418.60 L261.89 419.27 L261.68 419.93 L261.43 420.60 L261.16 421.27 L260.84 421.93 L260.48 422.60 L260.06 423.26 L259.50 423.93 L258.59 424.60 L257.38 425.26 L255.94 425.93 L254.35 426.59 L252.66 427.26 L250.95 427.93 L248.96 428.59 L246.60 429.26 L244.03 429.92 L241.42 430.59 L238.93 431.25 L236.71 431.92 L234.83 432.59 L232.94 433.25 L231.04 433.92 L229.22 434.58 L227.54 435.25 L226.08 435.92 L224.90 436.58 L224.09 437.25 L223.70 437.91 L223.43 438.58 L223.20 439.25 L223.00 439.91 L222.85 440.58 L222.74 441.24 L222.70 441.91 L222.81 442.58 L223.29 443.24 L224.06 443.91 L225.05 444.57 L226.19 445.24 L227.39 445.91 L228.59 446.57 L229.71 447.24 L230.67 447.90 L231.39 448.57 L231.95 449.24 L232.51 449.90 L233.05 450.57 L233.55 451.23 L234.00 451.90 L234.35 452.57 L234.61 453.23 L234.73 453.90 L234.69 454.56 L234.44 455.23 L234.01 455.90 L233.43 456.56 L232.72 457.23 L231.92 457.89 L231.05 458.56 L230.15 459.23 L229.23 459.89 L228.34 460.56 L227.40 461.22 L226.27 461.89 L224.99 462.56 L223.60 463.22 L222.18 463.89 L220.75 464.55 L219.39 465.22 L218.14 465.89 L217.05 466.55 L216.17 467.22 L215.43 467.88 L214.68 468.55 L213.96 469.22 L213.29 469.88 L212.71 470.55 L212.24 471.21 L211.91 471.88 L211.76 472.54 L211.77 473.21 L211.87 473.88 L212.03 474.54 L212.24 475.21 L212.49 475.87 L212.77 476.54 L213.06 477.21 L213.36 477.87 L213.65 478.54 L213.98 479.20 L214.35 479.87 L214.76 480.54 L215.20 481.20 L215.66 481.87 L216.15 482.53 L216.64 483.20 L217.15 483.87 L217.65 484.53 L218.15 485.20 L218.64 485.86 L219.12 486.53 L219.57 487.20 L219.98 487.86 L220.37 488.53 L220.75 489.19 L221.12 489.86 L221.52 490.53 L221.93 491.19 L222.39 491.86 L222.89 492.52 L223.47 493.19 L224.14 493.86 L225.01 494.52 L226.06 495.19 L227.26 495.85 L228.57 496.52 L229.95 497.19 L231.36 497.85 L232.76 498.52 L234.12 499.18 L235.38 499.85 L236.56 500.52 L237.74 501.18 L238.92 501.85 L240.10 502.51 L241.26 503.18 L242.40 503.85 L243.51 504.51 L244.58 505.18 L245.60 505.84 L246.56 506.51 L247.47 507.18 L248.37 507.84 L249.24 508.51 L250.09 509.17 L250.91 509.84 L251.69 510.51 L252.43 511.17 L253.13 511.84 L253.79 512.50 L254.39 513.17 L254.94 513.83 L255.48 514.50 L256.00 515.17 L256.49 515.83 L256.95 516.50 L257.39 517.16 L257.80 517.83 L258.18 518.50 L258.52 519.16 L258.83 519.83 L259.12 520.49 L259.39 521.16 L259.65 521.83 L259.89 522.49 L260.12 523.16 L260.33 523.82 L260.53 524.49 L260.71 525.16 L260.88 525.82 L261.04 526.49 L261.19 527.15 L261.34 527.82 L261.48 528.49 L261.61 529.15 L261.74 529.82 L261.87 530.48 L261.98 531.15 L262.09 531.82 L262.20 532.48 L262.30 533.15 L262.39 533.81 L262.47 534.48 L262.55 535.15 L262.62 535.81 L262.68 536.48 L262.74 537.14 L262.79 537.81 L262.84 538.48 L262.88 539.14 L262.92 539.81 L262.96 540.47 L263.00 541.14 L263.05 541.81 L263.09 542.47 L263.14 543.14 L263.19 543.80 L263.25 544.47 L263.32 545.14 L263.39 545.80 L263.47 546.47 L263.58 547.13 L263.70 547.80 L263.84 548.47 L263.99 549.13 L264.14 549.80 L264.30 550.46 L264.30 550.46 L264.46 549.80 L264.61 549.13 L264.76 548.47 L264.90 547.80 L265.02 547.13 L265.13 546.47 L265.21 545.80 L265.28 545.14 L265.35 544.47 L265.41 543.80 L265.46 543.14 L265.51 542.47 L265.55 541.81 L265.60 541.14 L265.64 540.47 L265.68 539.81 L265.72 539.14 L265.76 538.48 L265.81 537.81 L265.86 537.14 L265.92 536.48 L265.98 535.81 L266.05 535.15 L266.13 534.48 L266.21 533.81 L266.30 533.15 L266.40 532.48 L266.51 531.82 L266.62 531.15 L266.73 530.48 L266.86 529.82 L266.99 529.15 L267.12 528.49 L267.26 527.82 L267.41 527.15 L267.56 526.49 L267.72 525.82 L267.89 525.16 L268.07 524.49 L268.27 523.82 L268.48 523.16 L268.71 522.49 L268.95 521.83 L269.21 521.16 L269.48 520.49 L269.77 519.83 L270.08 519.16 L270.42 518.50 L270.80 517.83 L271.21 517.16 L271.65 516.50 L272.11 515.83 L272.60 515.17 L273.12 514.50 L273.66 513.83 L274.21 513.17 L274.81 512.50 L275.47 511.84 L276.17 511.17 L276.91 510.51 L277.69 509.84 L278.51 509.17 L279.36 508.51 L280.23 507.84 L281.13 507.18 L282.04 506.51 L283.00 505.84 L284.02 505.18 L285.09 504.51 L286.20 503.85 L287.34 503.18 L288.50 502.51 L289.68 501.85 L290.86 501.18 L292.04 500.52 L293.22 499.85 L294.48 499.18 L295.84 498.52 L297.24 497.85 L298.65 497.19 L300.03 496.52 L301.34 495.85 L302.54 495.19 L303.59 494.52 L304.46 493.86 L305.13 493.19 L305.71 492.52 L306.21 491.86 L306.67 491.19 L307.08 490.53 L307.48 489.86 L307.85 489.19 L308.23 488.53 L308.62 487.86 L309.03 487.20 L309.48 486.53 L309.96 485.86 L310.45 485.20 L310.95 484.53 L311.45 483.87 L311.96 483.20 L312.45 482.53 L312.94 481.87 L313.40 481.20 L313.84 480.54 L314.25 479.87 L314.62 479.20 L314.95 478.54 L315.24 477.87 L315.54 477.21 L315.83 476.54 L316.11 475.87 L316.36 475.21 L316.57 474.54 L316.73 473.88 L316.83 473.21 L316.84 472.54 L316.69 471.88 L316.36 471.21 L315.89 470.55 L315.31 469.88 L314.64 469.22 L313.92 468.55 L313.17 467.88 L312.43 467.22 L311.55 466.55 L310.46 465.89 L309.21 465.22 L307.85 464.55 L306.42 463.89 L305.00 463.22 L303.61 462.56 L302.33 461.89 L301.20 461.22 L300.26 460.56 L299.37 459.89 L298.45 459.23 L297.55 458.56 L296.68 457.89 L295.88 457.23 L295.17 456.56 L294.59 455.90 L294.16 455.23 L293.91 454.56 L293.87 453.90 L293.99 453.23 L294.25 452.57 L294.60 451.90 L295.05 451.23 L295.55 450.57 L296.09 449.90 L296.65 449.24 L297.21 448.57 L297.93 447.90 L298.89 447.24 L300.01 446.57 L301.21 445.91 L302.41 445.24 L303.55 444.57 L304.54 443.91 L305.31 443.24 L305.79 442.58 L305.90 441.91 L305.86 441.24 L305.75 440.58 L305.60 439.91 L305.40 439.25 L305.17 438.58 L304.90 437.91 L304.51 437.25 L303.70 436.58 L302.52 435.92 L301.06 435.25 L299.38 434.58 L297.56 433.92 L295.66 433.25 L293.77 432.59 L291.89 431.92 L289.67 431.25 L287.18 430.59 L284.57 429.92 L282.00 429.26 L279.64 428.59 L277.65 427.93 L275.94 427.26 L274.25 426.59 L272.66 425.93 L271.22 425.26 L270.01 424.60 L269.10 423.93 L268.54 423.26 L268.12 422.60 L267.76 421.93 L267.44 421.27 L267.17 420.60 L266.92 419.93 L266.71 419.27 L266.51 418.60 L266.33 417.94 L266.15 417.27 L265.98 416.60 L265.81 415.94 L265.66 415.27 L265.52 414.61 L265.38 413.94 L265.26 413.27 L265.14 412.61 L265.04 411.94 L264.94 411.28 L264.84 410.61 L264.74 409.94 L264.66 409.28 L264.57 408.61 L264.49 407.95 L264.42 407.28 L264.36 406.61 L264.30 405.95Z" fill="#E69F00" />
<rect x="144.80" y="390.70" width="3.20" height="18.30" fill="#000"/>
<rect x="144.80" y="430.00" width="3.20" height="31.00" fill="#000"/>
<rect x="134.60" y="409.10" width="23.50" height="20.90" fill="#56B4E9" stroke="#000" stroke-width="3.40"/>
<rect x="132.90" y="412.50" width="26.90" height="6.40" fill="#000"/>
<rect x="262.70" y="411.40" width="3.20" height="35.60" fill="#000"/>
<rect x="262.70" y="493.00" width="3.20" height="49.80" fill="#000"/>
<rect x="252.60" y="447.70" width="23.70" height="45.20" fill="#E69F00" stroke="#000" stroke-width="3.40"/>
<rect x="250.90" y="469.40" width="27.10" height="6.20" fill="#000"/>
<circle cx="146.40" cy="426.60" r="8.30" fill="none" stroke="#000" stroke-width="1.30"/>
<rect x="138.10" y="444.80" width="16.60" height="16.60" fill="none" stroke="#000" stroke-width="1.30"/>
<circle cx="264.30" cy="454.60" r="8.30" fill="none" stroke="#000" stroke-width="1.30"/>
<rect x="256.00" y="473.00" width="16.60" height="16.60" fill="none" stroke="#000" stroke-width="1.30"/>
<rect x="144.80" y="431.00" width="3.20" height="30.00" fill="#000"/>
<circle cx="146.40" cy="365.30" r="4.20" fill="#000"/>
<circle cx="146.40" cy="372.70" r="4.20" fill="#000"/>
<circle cx="146.40" cy="461.00" r="4.20" fill="#000"/>
<circle cx="146.40" cy="465.60" r="4.20" fill="#000"/>
<circle cx="146.40" cy="473.80" r="4.20" fill="#000"/>
<circle cx="146.40" cy="476.70" r="4.20" fill="#000"/>
<circle cx="146.40" cy="479.60" r="4.20" fill="#000"/>
<circle cx="146.40" cy="484.90" r="4.20" fill="#000"/>
<circle cx="146.40" cy="493.10" r="4.20" fill="#000"/>
<circle cx="146.40" cy="501.50" r="4.20" fill="#000"/>
<rect x="76.10" y="338.40" width="258.60" height="270.90" fill="none" stroke="#4a4a4a" stroke-width="1.3"/>
<line x1="71.10" y1="362.60" x2="76.10" y2="362.60" stroke="#333333" stroke-width="1.2"/>
<text x="65.30" y="366.60" font-size="11.10px" text-anchor="end" fill="#4D4D4D" font-weight="normal" >1</text>
<line x1="71.10" y1="418.20" x2="76.10" y2="418.20" stroke="#333333" stroke-width="1.2"/>
<text x="65.40" y="424.00" font-size="11.10px" text-anchor="end" fill="#4D4D4D" font-weight="normal" >10<tspan font-size="8.3px" dy="-4.2">−1</tspan></text>
<line x1="71.10" y1="473.80" x2="76.10" y2="473.80" stroke="#333333" stroke-width="1.2"/>
<text x="65.40" y="479.60" font-size="11.10px" text-anchor="end" fill="#4D4D4D" font-weight="normal" >10<tspan font-size="8.3px" dy="-4.2">−3</tspan></text>
<line x1="71.10" y1="529.30" x2="76.10" y2="529.30" stroke="#333333" stroke-width="1.2"/>
<text x="65.40" y="535.10" font-size="11.10px" text-anchor="end" fill="#4D4D4D" font-weight="normal" >10<tspan font-size="8.3px" dy="-4.2">−5</tspan></text>
<line x1="71.10" y1="584.90" x2="76.10" y2="584.90" stroke="#333333" stroke-width="1.2"/>
<text x="65.40" y="590.70" font-size="11.10px" text-anchor="end" fill="#4D4D4D" font-weight="normal" >10<tspan font-size="8.3px" dy="-4.2">−7</tspan></text>
<line x1="146.40" y1="609.30" x2="146.40" y2="613.90" stroke="#333333" stroke-width="1.2"/>
<text x="146.40" y="626.90" font-size="11.10px" text-anchor="middle" fill="#4D4D4D" font-weight="normal" >k1<tspan font-size="8.6px" dy="2.4">ref</tspan></text>
<line x1="264.30" y1="609.30" x2="264.30" y2="613.90" stroke="#333333" stroke-width="1.2"/>
<text x="264.30" y="626.90" font-size="11.10px" text-anchor="middle" fill="#4D4D4D" font-weight="normal" >k2<tspan font-size="8.6px" dy="2.4">ref</tspan></text>
<text x="205.30" y="647.00" font-size="14.00px" text-anchor="middle" fill="#000" font-weight="normal" >Two−pool model (M2)</text>
<text transform="translate(32.80 473.50) rotate(-90)" font-size="14.00px" text-anchor="middle" fill="#000">Reference decomposition rate (d<tspan font-size="9.2px" dy="-7.6">−1</tspan><tspan dy="7.6">)</tspan></text>
<text x="146.60" y="354.10" font-size="12.00px" text-anchor="middle" fill="#4D4D4D" font-weight="normal" >222</text>
<text x="263.00" y="354.60" font-size="12.00px" text-anchor="middle" fill="#4D4D4D" font-weight="normal" >207</text>
<text x="0.40" y="342.50" font-size="13.50px" text-anchor="start" fill="#000" font-weight="bold" >b</text>
<text x="88.80" y="526.30" font-size="14.00px" text-anchor="start" fill="#000" font-weight="normal" >Model</text>
<rect x="95.90" y="541.90" width="16.60" height="16.60" fill="none" stroke="#000" stroke-width="1.30"/>
<circle cx="103.90" cy="580.70" r="8.30" fill="none" stroke="#000" stroke-width="1.30"/>
<text x="126.10" y="554.60" font-size="12.00px" text-anchor="start" fill="#000" font-weight="normal" >ANIMO</text>
<text x="126.10" y="585.30" font-size="12.00px" text-anchor="start" fill="#000" font-weight="normal" >DAISY</text>
<path d="M437.00 388.43 L436.29 389.10 L435.48 389.76 L434.54 390.43 L433.42 391.09 L432.16 391.75 L430.80 392.42 L429.41 393.08 L428.05 393.75 L426.77 394.41 L425.58 395.07 L424.39 395.74 L423.21 396.40 L422.05 397.07 L420.93 397.73 L419.85 398.39 L418.82 399.06 L417.87 399.72 L416.95 400.39 L416.04 401.05 L415.16 401.71 L414.31 402.38 L413.51 403.04 L412.79 403.71 L412.16 404.37 L411.63 405.03 L411.16 405.70 L410.69 406.36 L410.24 407.03 L409.83 407.69 L409.48 408.35 L409.21 409.02 L409.03 409.68 L408.97 410.35 L409.01 411.01 L409.13 411.68 L409.31 412.34 L409.55 413.00 L409.82 413.67 L410.12 414.33 L410.44 415.00 L410.76 415.66 L411.17 416.32 L411.71 416.99 L412.34 417.65 L413.01 418.32 L413.67 418.98 L414.28 419.64 L414.79 420.31 L415.16 420.97 L415.49 421.64 L415.80 422.30 L416.06 422.96 L416.25 423.63 L416.33 424.29 L416.28 424.96 L416.13 425.62 L415.89 426.28 L415.58 426.95 L415.23 427.61 L414.79 428.28 L414.01 428.94 L412.96 429.60 L411.69 430.27 L410.28 430.93 L408.78 431.60 L407.28 432.26 L405.84 432.92 L404.40 433.59 L402.75 434.25 L401.04 434.92 L399.44 435.58 L398.12 436.24 L397.21 436.91 L396.39 437.57 L395.67 438.24 L395.16 438.90 L394.95 439.56 L395.11 440.23 L395.56 440.89 L396.20 441.56 L396.96 442.22 L397.76 442.88 L398.81 443.55 L400.16 444.21 L401.71 444.88 L403.37 445.54 L405.05 446.20 L406.65 446.87 L408.12 447.53 L409.60 448.20 L411.10 448.86 L412.60 449.53 L414.08 450.19 L415.52 450.85 L416.91 451.52 L418.23 452.18 L419.48 452.85 L420.72 453.51 L421.93 454.17 L423.11 454.84 L424.23 455.50 L425.30 456.17 L426.29 456.83 L427.19 457.49 L428.01 458.16 L428.80 458.82 L429.55 459.49 L430.26 460.15 L430.92 460.81 L431.53 461.48 L432.08 462.14 L432.56 462.81 L432.98 463.47 L433.34 464.13 L433.67 464.80 L433.97 465.46 L434.26 466.13 L434.55 466.79 L434.87 467.45 L435.23 468.12 L435.63 468.78 L436.07 469.45 L436.53 470.11 L437.00 470.77 L437.00 470.77 L437.47 470.11 L437.93 469.45 L438.37 468.78 L438.77 468.12 L439.13 467.45 L439.45 466.79 L439.74 466.13 L440.03 465.46 L440.33 464.80 L440.66 464.13 L441.02 463.47 L441.44 462.81 L441.92 462.14 L442.47 461.48 L443.08 460.81 L443.74 460.15 L444.45 459.49 L445.20 458.82 L445.99 458.16 L446.81 457.49 L447.71 456.83 L448.70 456.17 L449.77 455.50 L450.89 454.84 L452.07 454.17 L453.28 453.51 L454.52 452.85 L455.77 452.18 L457.09 451.52 L458.48 450.85 L459.92 450.19 L461.40 449.53 L462.90 448.86 L464.40 448.20 L465.88 447.53 L467.35 446.87 L468.95 446.20 L470.63 445.54 L472.29 444.88 L473.84 444.21 L475.19 443.55 L476.24 442.88 L477.04 442.22 L477.80 441.56 L478.44 440.89 L478.89 440.23 L479.05 439.56 L478.84 438.90 L478.33 438.24 L477.61 437.57 L476.79 436.91 L475.88 436.24 L474.56 435.58 L472.96 434.92 L471.25 434.25 L469.60 433.59 L468.16 432.92 L466.72 432.26 L465.22 431.60 L463.72 430.93 L462.31 430.27 L461.04 429.60 L459.99 428.94 L459.21 428.28 L458.77 427.61 L458.42 426.95 L458.11 426.28 L457.87 425.62 L457.72 424.96 L457.67 424.29 L457.75 423.63 L457.94 422.96 L458.20 422.30 L458.51 421.64 L458.84 420.97 L459.21 420.31 L459.72 419.64 L460.33 418.98 L460.99 418.32 L461.66 417.65 L462.29 416.99 L462.83 416.32 L463.24 415.66 L463.56 415.00 L463.88 414.33 L464.18 413.67 L464.45 413.00 L464.69 412.34 L464.87 411.68 L464.99 411.01 L465.03 410.35 L464.97 409.68 L464.79 409.02 L464.52 408.35 L464.17 407.69 L463.76 407.03 L463.31 406.36 L462.84 405.70 L462.37 405.03 L461.84 404.37 L461.21 403.71 L460.49 403.04 L459.69 402.38 L458.84 401.71 L457.96 401.05 L457.05 400.39 L456.13 399.72 L455.18 399.06 L454.15 398.39 L453.07 397.73 L451.95 397.07 L450.79 396.40 L449.61 395.74 L448.42 395.07 L447.23 394.41 L445.95 393.75 L444.59 393.08 L443.20 392.42 L441.84 391.75 L440.58 391.09 L439.46 390.43 L438.52 389.76 L437.71 389.10 L437.00 388.43Z" fill="#56B4E9" />
<path d="M532.20 419.16 L531.81 419.83 L531.41 420.49 L531.00 421.16 L530.56 421.82 L530.11 422.49 L529.66 423.15 L529.22 423.82 L528.80 424.49 L528.42 425.15 L528.09 425.82 L527.79 426.48 L527.51 427.15 L527.25 427.81 L526.99 428.48 L526.72 429.14 L526.43 429.81 L526.11 430.47 L525.74 431.14 L525.33 431.80 L524.90 432.47 L524.44 433.13 L523.97 433.80 L523.49 434.47 L523.03 435.13 L522.57 435.80 L522.10 436.46 L521.60 437.13 L521.09 437.79 L520.58 438.46 L520.11 439.12 L519.67 439.79 L519.31 440.45 L519.04 441.12 L518.81 441.78 L518.59 442.45 L518.38 443.12 L518.20 443.78 L518.04 444.45 L517.92 445.11 L517.85 445.78 L517.83 446.44 L517.86 447.11 L517.90 447.77 L517.96 448.44 L518.03 449.10 L518.09 449.77 L518.14 450.43 L518.18 451.10 L518.18 451.76 L518.15 452.43 L518.09 453.10 L518.00 453.76 L517.88 454.43 L517.74 455.09 L517.58 455.76 L517.42 456.42 L517.23 457.09 L516.96 457.75 L516.60 458.42 L516.17 459.08 L515.69 459.75 L515.17 460.41 L514.62 461.08 L514.08 461.74 L513.54 462.41 L512.96 463.08 L512.33 463.74 L511.67 464.41 L510.99 465.07 L510.28 465.74 L509.56 466.40 L508.84 467.07 L508.12 467.73 L507.39 468.40 L506.64 469.06 L505.87 469.73 L505.09 470.39 L504.30 471.06 L503.49 471.73 L502.67 472.39 L501.83 473.06 L500.94 473.72 L500.02 474.39 L499.09 475.05 L498.15 475.72 L497.25 476.38 L496.38 477.05 L495.57 477.71 L494.80 478.38 L494.02 479.04 L493.25 479.71 L492.54 480.37 L491.89 481.04 L491.36 481.71 L490.96 482.37 L490.60 483.04 L490.31 483.70 L490.16 484.37 L490.23 485.03 L490.51 485.70 L490.95 486.36 L491.51 487.03 L492.14 487.69 L492.78 488.36 L493.51 489.02 L494.42 489.69 L495.48 490.35 L496.64 491.02 L497.88 491.69 L499.15 492.35 L500.42 493.02 L501.65 493.68 L502.91 494.35 L504.21 495.01 L505.56 495.68 L506.93 496.34 L508.31 497.01 L509.67 497.67 L511.01 498.34 L512.30 499.00 L513.61 499.67 L514.95 500.34 L516.29 501.00 L517.59 501.67 L518.84 502.33 L520.00 503.00 L521.04 503.66 L521.94 504.33 L522.79 504.99 L523.60 505.66 L524.37 506.32 L525.08 506.99 L525.71 507.65 L526.27 508.32 L526.72 508.98 L527.07 509.65 L527.38 510.32 L527.65 510.98 L527.89 511.65 L528.10 512.31 L528.30 512.98 L528.47 513.64 L528.62 514.31 L528.76 514.97 L528.89 515.64 L529.01 516.30 L529.12 516.97 L529.23 517.63 L529.32 518.30 L529.41 518.96 L529.50 519.63 L529.58 520.30 L529.66 520.96 L529.74 521.63 L529.82 522.29 L529.90 522.96 L529.96 523.62 L530.03 524.29 L530.10 524.95 L530.16 525.62 L530.22 526.28 L530.28 526.95 L530.35 527.61 L530.41 528.28 L530.48 528.95 L530.54 529.61 L530.60 530.28 L530.66 530.94 L530.72 531.61 L530.78 532.27 L530.84 532.94 L530.91 533.60 L530.98 534.27 L531.05 534.93 L531.14 535.60 L531.24 536.26 L531.34 536.93 L531.47 537.59 L531.60 538.26 L531.74 538.93 L531.89 539.59 L532.04 540.26 L532.20 540.92 L532.20 540.92 L532.36 540.26 L532.51 539.59 L532.66 538.93 L532.80 538.26 L532.93 537.59 L533.06 536.93 L533.16 536.26 L533.26 535.60 L533.35 534.93 L533.42 534.27 L533.49 533.60 L533.56 532.94 L533.62 532.27 L533.68 531.61 L533.74 530.94 L533.80 530.28 L533.86 529.61 L533.92 528.95 L533.99 528.28 L534.05 527.61 L534.12 526.95 L534.18 526.28 L534.24 525.62 L534.30 524.95 L534.37 524.29 L534.44 523.62 L534.50 522.96 L534.58 522.29 L534.66 521.63 L534.74 520.96 L534.82 520.30 L534.90 519.63 L534.99 518.96 L535.08 518.30 L535.17 517.63 L535.28 516.97 L535.39 516.30 L535.51 515.64 L535.64 514.97 L535.78 514.31 L535.93 513.64 L536.10 512.98 L536.30 512.31 L536.51 511.65 L536.75 510.98 L537.02 510.32 L537.33 509.65 L537.68 508.98 L538.13 508.32 L538.69 507.65 L539.32 506.99 L540.03 506.32 L540.80 505.66 L541.61 504.99 L542.46 504.33 L543.36 503.66 L544.40 503.00 L545.56 502.33 L546.81 501.67 L548.11 501.00 L549.45 500.34 L550.79 499.67 L552.10 499.00 L553.39 498.34 L554.73 497.67 L556.09 497.01 L557.47 496.34 L558.84 495.68 L560.19 495.01 L561.49 494.35 L562.75 493.68 L563.98 493.02 L565.25 492.35 L566.52 491.69 L567.76 491.02 L568.92 490.35 L569.98 489.69 L570.89 489.02 L571.62 488.36 L572.26 487.69 L572.89 487.03 L573.45 486.36 L573.89 485.70 L574.17 485.03 L574.24 484.37 L574.09 483.70 L573.80 483.04 L573.44 482.37 L573.04 481.71 L572.51 481.04 L571.86 480.37 L571.15 479.71 L570.38 479.04 L569.60 478.38 L568.83 477.71 L568.02 477.05 L567.15 476.38 L566.25 475.72 L565.31 475.05 L564.38 474.39 L563.46 473.72 L562.57 473.06 L561.73 472.39 L560.91 471.73 L560.10 471.06 L559.31 470.39 L558.53 469.73 L557.76 469.06 L557.01 468.40 L556.28 467.73 L555.56 467.07 L554.84 466.40 L554.12 465.74 L553.41 465.07 L552.73 464.41 L552.07 463.74 L551.44 463.08 L550.86 462.41 L550.32 461.74 L549.78 461.08 L549.23 460.41 L548.71 459.75 L548.23 459.08 L547.80 458.42 L547.44 457.75 L547.17 457.09 L546.98 456.42 L546.82 455.76 L546.66 455.09 L546.52 454.43 L546.40 453.76 L546.31 453.10 L546.25 452.43 L546.22 451.76 L546.22 451.10 L546.26 450.43 L546.31 449.77 L546.37 449.10 L546.44 448.44 L546.50 447.77 L546.54 447.11 L546.57 446.44 L546.55 445.78 L546.48 445.11 L546.36 444.45 L546.20 443.78 L546.02 443.12 L545.81 442.45 L545.59 441.78 L545.36 441.12 L545.09 440.45 L544.73 439.79 L544.29 439.12 L543.82 438.46 L543.31 437.79 L542.80 437.13 L542.30 436.46 L541.83 435.80 L541.37 435.13 L540.91 434.47 L540.43 433.80 L539.96 433.13 L539.50 432.47 L539.07 431.80 L538.66 431.14 L538.29 430.47 L537.97 429.81 L537.68 429.14 L537.41 428.48 L537.15 427.81 L536.89 427.15 L536.61 426.48 L536.31 425.82 L535.98 425.15 L535.60 424.49 L535.18 423.82 L534.74 423.15 L534.29 422.49 L533.84 421.82 L533.40 421.16 L532.99 420.49 L532.59 419.83 L532.20 419.16Z" fill="#E69F00" />
<path d="M627.50 433.76 L627.28 434.43 L627.07 435.09 L626.87 435.76 L626.69 436.42 L626.51 437.09 L626.35 437.75 L626.21 438.42 L626.09 439.09 L625.97 439.75 L625.87 440.42 L625.77 441.08 L625.68 441.75 L625.59 442.41 L625.52 443.08 L625.45 443.75 L625.39 444.41 L625.32 445.08 L625.26 445.74 L625.20 446.41 L625.15 447.07 L625.11 447.74 L625.07 448.41 L625.05 449.07 L625.05 449.74 L625.06 450.40 L625.08 451.07 L625.11 451.73 L625.15 452.40 L625.18 453.07 L625.20 453.73 L625.22 454.40 L625.22 455.06 L625.22 455.73 L625.20 456.39 L625.18 457.06 L625.16 457.73 L625.13 458.39 L625.10 459.06 L625.07 459.72 L625.02 460.39 L624.95 461.05 L624.85 461.72 L624.72 462.39 L624.57 463.05 L624.41 463.72 L624.24 464.38 L624.06 465.05 L623.88 465.71 L623.66 466.38 L623.42 467.05 L623.16 467.71 L622.88 468.38 L622.58 469.04 L622.28 469.71 L621.97 470.37 L621.67 471.04 L621.34 471.71 L621.01 472.37 L620.66 473.04 L620.30 473.70 L619.92 474.37 L619.54 475.04 L619.15 475.70 L618.75 476.37 L618.33 477.03 L617.90 477.70 L617.46 478.36 L617.00 479.03 L616.54 479.70 L616.08 480.36 L615.61 481.03 L615.14 481.69 L614.65 482.36 L614.16 483.02 L613.66 483.69 L613.16 484.36 L612.67 485.02 L612.18 485.69 L611.71 486.35 L611.23 487.02 L610.72 487.68 L610.22 488.35 L609.72 489.02 L609.25 489.68 L608.83 490.35 L608.47 491.01 L608.19 491.68 L607.93 492.34 L607.68 493.01 L607.45 493.68 L607.24 494.34 L607.06 495.01 L606.93 495.67 L606.85 496.34 L606.83 497.00 L606.85 497.67 L606.90 498.34 L606.97 499.00 L607.05 499.67 L607.14 500.33 L607.23 501.00 L607.31 501.66 L607.38 502.33 L607.46 503.00 L607.54 503.66 L607.63 504.33 L607.72 504.99 L607.79 505.66 L607.84 506.32 L607.87 506.99 L607.87 507.66 L607.80 508.32 L607.68 508.99 L607.50 509.65 L607.29 510.32 L607.06 510.98 L606.82 511.65 L606.58 512.32 L606.33 512.98 L606.04 513.65 L605.70 514.31 L605.33 514.98 L604.96 515.64 L604.59 516.31 L604.24 516.98 L603.94 517.64 L603.66 518.31 L603.37 518.97 L603.07 519.64 L602.78 520.30 L602.52 520.97 L602.31 521.64 L602.17 522.30 L602.10 522.97 L602.10 523.63 L602.12 524.30 L602.15 524.96 L602.19 525.63 L602.24 526.30 L602.30 526.96 L602.36 527.63 L602.44 528.29 L602.57 528.96 L602.83 529.63 L603.19 530.29 L603.62 530.96 L604.10 531.62 L604.61 532.29 L605.12 532.95 L605.60 533.62 L606.12 534.29 L606.73 534.95 L607.38 535.62 L608.04 536.28 L608.67 536.95 L609.23 537.61 L609.69 538.28 L610.01 538.95 L610.25 539.61 L610.48 540.28 L610.66 540.94 L610.80 541.61 L610.86 542.27 L610.82 542.94 L610.67 543.61 L610.42 544.27 L610.10 544.94 L609.70 545.60 L609.26 546.27 L608.77 546.93 L608.26 547.60 L607.58 548.27 L606.62 548.93 L605.44 549.60 L604.10 550.26 L602.67 550.93 L601.22 551.59 L599.82 552.26 L598.53 552.93 L597.25 553.59 L595.90 554.26 L594.51 554.92 L593.15 555.59 L591.86 556.25 L590.68 556.92 L589.66 557.59 L588.84 558.25 L588.09 558.92 L587.36 559.58 L586.68 560.25 L586.12 560.91 L585.70 561.58 L585.48 562.25 L585.48 562.91 L585.66 563.58 L585.98 564.24 L586.41 564.91 L586.93 565.57 L587.49 566.24 L588.08 566.91 L588.81 567.57 L589.77 568.24 L590.92 568.90 L592.21 569.57 L593.59 570.23 L595.03 570.90 L596.47 571.57 L597.86 572.23 L599.28 572.90 L600.77 573.56 L602.31 574.23 L603.89 574.89 L605.50 575.56 L607.12 576.23 L608.73 576.89 L610.31 577.56 L611.81 578.22 L613.26 578.89 L614.71 579.56 L616.24 580.22 L617.89 580.89 L619.75 581.55 L621.92 582.22 L624.58 582.88 L627.50 583.55 L627.50 583.55 L630.42 582.88 L633.08 582.22 L635.25 581.55 L637.11 580.89 L638.76 580.22 L640.29 579.56 L641.74 578.89 L643.19 578.22 L644.69 577.56 L646.27 576.89 L647.88 576.23 L649.50 575.56 L651.11 574.89 L652.69 574.23 L654.23 573.56 L655.72 572.90 L657.14 572.23 L658.53 571.57 L659.97 570.90 L661.41 570.23 L662.79 569.57 L664.08 568.90 L665.23 568.24 L666.19 567.57 L666.92 566.91 L667.51 566.24 L668.07 565.57 L668.59 564.91 L669.02 564.24 L669.34 563.58 L669.52 562.91 L669.52 562.25 L669.30 561.58 L668.88 560.91 L668.32 560.25 L667.64 559.58 L666.91 558.92 L666.16 558.25 L665.34 557.59 L664.32 556.92 L663.14 556.25 L661.85 555.59 L660.49 554.92 L659.10 554.26 L657.75 553.59 L656.47 552.93 L655.18 552.26 L653.78 551.59 L652.33 550.93 L650.90 550.26 L649.56 549.60 L648.38 548.93 L647.42 548.27 L646.74 547.60 L646.23 546.93 L645.74 546.27 L645.30 545.60 L644.90 544.94 L644.58 544.27 L644.33 543.61 L644.18 542.94 L644.14 542.27 L644.20 541.61 L644.34 540.94 L644.52 540.28 L644.75 539.61 L644.99 538.95 L645.31 538.28 L645.77 537.61 L646.33 536.95 L646.96 536.28 L647.62 535.62 L648.27 534.95 L648.88 534.29 L649.40 533.62 L649.88 532.95 L650.39 532.29 L650.90 531.62 L651.38 530.96 L651.81 530.29 L652.17 529.63 L652.43 528.96 L652.56 528.29 L652.64 527.63 L652.70 526.96 L652.76 526.30 L652.81 525.63 L652.85 524.96 L652.88 524.30 L652.90 523.63 L652.90 522.97 L652.83 522.30 L652.69 521.64 L652.48 520.97 L652.22 520.30 L651.93 519.64 L651.63 518.97 L651.34 518.31 L651.06 517.64 L650.76 516.98 L650.41 516.31 L650.04 515.64 L649.67 514.98 L649.30 514.31 L648.96 513.65 L648.67 512.98 L648.42 512.32 L648.18 511.65 L647.94 510.98 L647.71 510.32 L647.50 509.65 L647.32 508.99 L647.20 508.32 L647.13 507.66 L647.13 506.99 L647.16 506.32 L647.21 505.66 L647.28 504.99 L647.37 504.33 L647.46 503.66 L647.54 503.00 L647.62 502.33 L647.69 501.66 L647.77 501.00 L647.86 500.33 L647.95 499.67 L648.03 499.00 L648.10 498.34 L648.15 497.67 L648.17 497.00 L648.15 496.34 L648.07 495.67 L647.94 495.01 L647.76 494.34 L647.55 493.68 L647.32 493.01 L647.07 492.34 L646.81 491.68 L646.53 491.01 L646.17 490.35 L645.75 489.68 L645.28 489.02 L644.78 488.35 L644.28 487.68 L643.77 487.02 L643.29 486.35 L642.82 485.69 L642.33 485.02 L641.84 484.36 L641.34 483.69 L640.84 483.02 L640.35 482.36 L639.86 481.69 L639.39 481.03 L638.92 480.36 L638.46 479.70 L638.00 479.03 L637.54 478.36 L637.10 477.70 L636.67 477.03 L636.25 476.37 L635.85 475.70 L635.46 475.04 L635.08 474.37 L634.70 473.70 L634.34 473.04 L633.99 472.37 L633.66 471.71 L633.33 471.04 L633.03 470.37 L632.72 469.71 L632.42 469.04 L632.12 468.38 L631.84 467.71 L631.58 467.05 L631.34 466.38 L631.12 465.71 L630.94 465.05 L630.76 464.38 L630.59 463.72 L630.43 463.05 L630.28 462.39 L630.15 461.72 L630.05 461.05 L629.98 460.39 L629.93 459.72 L629.90 459.06 L629.87 458.39 L629.84 457.73 L629.82 457.06 L629.80 456.39 L629.78 455.73 L629.78 455.06 L629.78 454.40 L629.80 453.73 L629.82 453.07 L629.85 452.40 L629.89 451.73 L629.92 451.07 L629.94 450.40 L629.95 449.74 L629.95 449.07 L629.93 448.41 L629.89 447.74 L629.85 447.07 L629.80 446.41 L629.74 445.74 L629.68 445.08 L629.61 444.41 L629.55 443.75 L629.48 443.08 L629.41 442.41 L629.32 441.75 L629.23 441.08 L629.13 440.42 L629.03 439.75 L628.91 439.09 L628.79 438.42 L628.65 437.75 L628.49 437.09 L628.31 436.42 L628.13 435.76 L627.93 435.09 L627.72 434.43 L627.50 433.76Z" fill="#73BC00" />
<rect x="435.15" y="377.60" width="3.70" height="34.40" fill="#000"/>
<rect x="435.15" y="443.00" width="3.70" height="36.50" fill="#000"/>
<rect x="427.35" y="412.25" width="19.30" height="30.90" fill="#56B4E9" stroke="#000" stroke-width="3.30"/>
<rect x="425.70" y="430.00" width="22.60" height="5.90" fill="#000"/>
<rect x="530.35" y="420.90" width="3.70" height="39.10" fill="#000"/>
<rect x="530.35" y="488.00" width="3.70" height="40.70" fill="#000"/>
<rect x="522.50" y="459.80" width="19.60" height="28.50" fill="#E69F00" stroke="#000" stroke-width="3.40"/>
<rect x="520.80" y="474.90" width="23.00" height="6.20" fill="#000"/>
<rect x="625.70" y="447.40" width="3.60" height="53.60" fill="#000"/>
<rect x="617.75" y="501.85" width="19.40" height="62.10" fill="#73BC00" stroke="#000" stroke-width="3.50"/>
<rect x="616.00" y="525.30" width="22.90" height="6.30" fill="#000"/>
<path d="M437.00 409.24 L425.60 428.98 L448.40 428.98 Z" fill="none" stroke="#000" stroke-width="1.30"/>
<path d="M425.20 432.20 H448.80 M437.00 420.40 V444.00" fill="none" stroke="#000" stroke-width="1.30"/>
<path d="M532.20 457.54 L520.80 477.28 L543.60 477.28 Z" fill="none" stroke="#000" stroke-width="1.30"/>
<path d="M520.40 472.30 H544.00 M532.20 460.50 V484.10" fill="none" stroke="#000" stroke-width="1.30"/>
<path d="M627.50 488.54 L616.10 508.28 L638.90 508.28 Z" fill="none" stroke="#000" stroke-width="1.30"/>
<path d="M615.70 530.60 H639.30 M627.50 518.80 V542.40" fill="none" stroke="#000" stroke-width="1.30"/>
<circle cx="532.20" cy="405.00" r="4.30" fill="#000"/>
<circle cx="532.20" cy="408.00" r="4.30" fill="#000"/>
<circle cx="532.20" cy="411.00" r="4.30" fill="#000"/>
<circle cx="532.20" cy="414.00" r="4.30" fill="#000"/>
<circle cx="532.20" cy="416.70" r="4.30" fill="#000"/>
<rect x="380.50" y="338.40" width="303.90" height="270.90" fill="none" stroke="#4a4a4a" stroke-width="1.3"/>
<line x1="375.50" y1="362.60" x2="380.50" y2="362.60" stroke="#333333" stroke-width="1.2"/>
<line x1="375.50" y1="418.20" x2="380.50" y2="418.20" stroke="#333333" stroke-width="1.2"/>
<line x1="375.50" y1="473.80" x2="380.50" y2="473.80" stroke="#333333" stroke-width="1.2"/>
<line x1="375.50" y1="529.30" x2="380.50" y2="529.30" stroke="#333333" stroke-width="1.2"/>
<line x1="375.50" y1="584.90" x2="380.50" y2="584.90" stroke="#333333" stroke-width="1.2"/>
<line x1="437.00" y1="609.30" x2="437.00" y2="613.90" stroke="#333333" stroke-width="1.2"/>
<text x="437.00" y="626.90" font-size="11.10px" text-anchor="middle" fill="#4D4D4D" font-weight="normal" >k1<tspan font-size="8.6px" dy="2.4">ref</tspan></text>
<line x1="532.20" y1="609.30" x2="532.20" y2="613.90" stroke="#333333" stroke-width="1.2"/>
<text x="532.20" y="626.90" font-size="11.10px" text-anchor="middle" fill="#4D4D4D" font-weight="normal" >k2<tspan font-size="8.6px" dy="2.4">ref</tspan></text>
<line x1="627.50" y1="609.30" x2="627.50" y2="613.90" stroke="#333333" stroke-width="1.2"/>
<text x="627.50" y="626.90" font-size="11.10px" text-anchor="middle" fill="#4D4D4D" font-weight="normal" >k3<tspan font-size="8.6px" dy="2.4">ref</tspan></text>
<text x="532.00" y="647.00" font-size="14.00px" text-anchor="middle" fill="#000" font-weight="normal" >Three−pool model (M3)</text>
<text x="437.60" y="358.90" font-size="12.00px" text-anchor="middle" fill="#000" font-weight="normal" >274</text>
<text x="530.50" y="358.60" font-size="12.00px" text-anchor="middle" fill="#000" font-weight="normal" >243</text>
<text x="625.30" y="357.90" font-size="12.00px" text-anchor="middle" fill="#000" font-weight="normal" >212</text>
<text x="349.00" y="342.70" font-size="13.50px" text-anchor="start" fill="#000" font-weight="bold" >c</text>
<text x="393.70" y="526.30" font-size="14.00px" text-anchor="start" fill="#000" font-weight="normal" >Model</text>
<path d="M408.70 537.04 L397.30 556.78 L420.10 556.78 Z" fill="none" stroke="#000" stroke-width="1.30"/>
<path d="M396.90 580.70 H420.50 M408.70 568.90 V592.50" fill="none" stroke="#000" stroke-width="1.30"/>
<text x="431.50" y="554.60" font-size="12.00px" text-anchor="start" fill="#000" font-weight="normal" >CLMcn</text>
<text x="431.50" y="585.30" font-size="12.00px" text-anchor="start" fill="#000" font-weight="normal" >DAYCENT</text>
<path d="M141.40 731.00 L141.26 731.67 L141.11 732.33 L141.05 733.00 L141.05 733.66 L141.05 734.33 L141.05 734.99 L141.05 735.66 L141.05 736.33 L141.05 736.99 L141.05 737.66 L141.05 738.32 L141.05 738.99 L141.05 739.65 L141.05 740.32 L141.05 740.99 L141.05 741.65 L141.05 742.32 L141.05 742.98 L141.05 743.65 L141.05 744.31 L141.05 744.98 L141.05 745.65 L141.05 746.31 L141.05 746.98 L141.05 747.64 L141.05 748.31 L141.05 748.97 L141.05 749.64 L141.05 750.31 L141.05 750.97 L141.05 751.64 L141.05 752.30 L141.05 752.97 L141.05 753.63 L141.05 754.30 L141.05 754.97 L141.05 755.63 L141.05 756.30 L141.05 756.96 L141.05 757.63 L141.05 758.30 L141.05 758.96 L141.05 759.63 L141.05 760.29 L141.05 760.96 L141.05 761.62 L141.05 762.29 L141.05 762.96 L141.05 763.62 L141.05 764.29 L141.05 764.95 L141.05 765.62 L141.05 766.28 L141.05 766.95 L141.05 767.62 L141.05 768.28 L141.05 768.95 L141.05 769.61 L141.05 770.28 L141.05 770.94 L141.05 771.61 L141.05 772.28 L141.05 772.94 L141.05 773.61 L141.05 774.27 L141.05 774.94 L141.05 775.60 L141.05 776.27 L141.05 776.94 L141.05 777.60 L141.05 778.27 L141.05 778.93 L141.05 779.60 L141.05 780.26 L141.05 780.93 L141.05 781.60 L141.05 782.26 L141.05 782.93 L141.05 783.59 L141.05 784.26 L141.05 784.92 L141.05 785.59 L141.05 786.26 L141.05 786.92 L141.05 787.59 L141.05 788.25 L141.05 788.92 L141.05 789.58 L141.05 790.25 L141.05 790.92 L141.05 791.58 L141.05 792.25 L141.05 792.91 L141.05 793.58 L141.05 794.24 L141.05 794.91 L141.05 795.58 L141.05 796.24 L141.05 796.91 L141.05 797.57 L141.05 798.24 L141.05 798.90 L141.05 799.57 L141.05 800.24 L141.05 800.90 L141.05 801.57 L141.05 802.23 L141.05 802.90 L141.05 803.57 L141.05 804.23 L141.05 804.90 L141.05 805.56 L141.05 806.23 L141.05 806.89 L141.05 807.56 L141.05 808.23 L141.05 808.89 L141.05 809.56 L141.05 810.22 L141.05 810.89 L141.05 811.55 L141.05 812.22 L141.05 812.89 L141.05 813.55 L141.05 814.22 L141.05 814.88 L141.05 815.55 L141.05 816.21 L141.05 816.88 L141.05 817.55 L141.05 818.21 L141.05 818.88 L141.05 819.54 L141.05 820.21 L141.05 820.87 L141.05 821.54 L141.05 822.21 L141.05 822.87 L141.05 823.54 L141.05 824.20 L141.05 824.87 L141.05 825.53 L141.05 826.20 L141.05 826.87 L141.05 827.53 L141.05 828.20 L141.05 828.86 L141.05 829.53 L141.04 830.19 L141.03 830.86 L141.01 831.53 L141.00 832.19 L140.98 832.86 L140.96 833.52 L140.94 834.19 L140.92 834.85 L140.90 835.52 L140.87 836.19 L140.85 836.85 L140.82 837.52 L140.79 838.18 L140.76 838.85 L140.72 839.51 L140.69 840.18 L140.65 840.85 L140.62 841.51 L140.57 842.18 L140.53 842.84 L140.48 843.51 L140.43 844.17 L140.38 844.84 L140.32 845.51 L140.25 846.17 L140.19 846.84 L140.11 847.50 L140.04 848.17 L139.96 848.83 L139.87 849.50 L139.78 850.17 L139.66 850.83 L139.52 851.50 L139.36 852.16 L139.18 852.83 L138.98 853.50 L138.77 854.16 L138.54 854.83 L138.31 855.49 L138.07 856.16 L137.83 856.82 L137.58 857.49 L137.34 858.16 L137.08 858.82 L136.79 859.49 L136.48 860.15 L136.15 860.82 L135.82 861.48 L135.49 862.15 L135.17 862.82 L134.86 863.48 L134.57 864.15 L134.30 864.81 L134.07 865.48 L133.87 866.14 L133.67 866.81 L133.48 867.48 L133.29 868.14 L133.12 868.81 L132.95 869.47 L132.79 870.14 L132.64 870.80 L132.50 871.47 L132.37 872.14 L132.24 872.80 L132.12 873.47 L132.00 874.13 L131.89 874.80 L131.78 875.46 L131.68 876.13 L131.59 876.80 L131.49 877.46 L131.40 878.13 L131.31 878.79 L131.23 879.46 L131.14 880.12 L131.06 880.79 L130.97 881.46 L130.88 882.12 L130.80 882.79 L130.73 883.45 L130.66 884.12 L130.59 884.78 L130.53 885.45 L130.46 886.12 L130.39 886.78 L130.31 887.45 L130.23 888.11 L130.13 888.78 L130.03 889.44 L129.90 890.11 L129.75 890.78 L129.57 891.44 L129.37 892.11 L129.16 892.77 L128.93 893.44 L128.68 894.10 L128.44 894.77 L128.18 895.44 L127.91 896.10 L127.62 896.77 L127.31 897.43 L126.95 898.10 L126.56 898.77 L126.12 899.43 L125.60 900.10 L124.93 900.76 L124.14 901.43 L123.26 902.09 L122.31 902.76 L121.31 903.43 L120.19 904.09 L118.95 904.76 L117.59 905.42 L116.16 906.09 L114.66 906.75 L113.10 907.42 L111.40 908.09 L109.59 908.75 L107.73 909.42 L105.88 910.08 L104.07 910.75 L102.27 911.41 L100.43 912.08 L98.60 912.75 L96.83 913.41 L95.18 914.08 L93.64 914.74 L91.95 915.41 L90.27 916.07 L88.89 916.74 L88.09 917.41 L88.03 918.07 L88.19 918.74 L88.49 919.40 L88.97 920.07 L90.58 920.73 L93.00 921.40 L189.80 921.40 L192.22 920.73 L193.83 920.07 L194.31 919.40 L194.61 918.74 L194.77 918.07 L194.71 917.41 L193.91 916.74 L192.53 916.07 L190.85 915.41 L189.16 914.74 L187.62 914.08 L185.97 913.41 L184.20 912.75 L182.37 912.08 L180.53 911.41 L178.73 910.75 L176.92 910.08 L175.07 909.42 L173.21 908.75 L171.40 908.09 L169.70 907.42 L168.14 906.75 L166.64 906.09 L165.21 905.42 L163.85 904.76 L162.61 904.09 L161.49 903.43 L160.49 902.76 L159.54 902.09 L158.66 901.43 L157.87 900.76 L157.20 900.10 L156.68 899.43 L156.24 898.77 L155.85 898.10 L155.49 897.43 L155.18 896.77 L154.89 896.10 L154.62 895.44 L154.36 894.77 L154.12 894.10 L153.87 893.44 L153.64 892.77 L153.43 892.11 L153.23 891.44 L153.05 890.78 L152.90 890.11 L152.77 889.44 L152.67 888.78 L152.57 888.11 L152.49 887.45 L152.41 886.78 L152.34 886.12 L152.27 885.45 L152.21 884.78 L152.14 884.12 L152.07 883.45 L152.00 882.79 L151.92 882.12 L151.83 881.46 L151.74 880.79 L151.66 880.12 L151.57 879.46 L151.49 878.79 L151.40 878.13 L151.31 877.46 L151.21 876.80 L151.12 876.13 L151.02 875.46 L150.91 874.80 L150.80 874.13 L150.68 873.47 L150.56 872.80 L150.43 872.14 L150.30 871.47 L150.16 870.80 L150.01 870.14 L149.85 869.47 L149.68 868.81 L149.51 868.14 L149.32 867.48 L149.13 866.81 L148.93 866.14 L148.73 865.48 L148.50 864.81 L148.23 864.15 L147.94 863.48 L147.63 862.82 L147.31 862.15 L146.98 861.48 L146.65 860.82 L146.32 860.15 L146.01 859.49 L145.72 858.82 L145.46 858.16 L145.22 857.49 L144.97 856.82 L144.73 856.16 L144.49 855.49 L144.26 854.83 L144.03 854.16 L143.82 853.50 L143.62 852.83 L143.44 852.16 L143.28 851.50 L143.14 850.83 L143.02 850.17 L142.93 849.50 L142.84 848.83 L142.76 848.17 L142.69 847.50 L142.61 846.84 L142.55 846.17 L142.48 845.51 L142.42 844.84 L142.37 844.17 L142.32 843.51 L142.27 842.84 L142.23 842.18 L142.18 841.51 L142.15 840.85 L142.11 840.18 L142.08 839.51 L142.04 838.85 L142.01 838.18 L141.98 837.52 L141.95 836.85 L141.93 836.19 L141.90 835.52 L141.88 834.85 L141.86 834.19 L141.84 833.52 L141.82 832.86 L141.80 832.19 L141.79 831.53 L141.77 830.86 L141.76 830.19 L141.75 829.53 L141.75 828.86 L141.75 828.20 L141.75 827.53 L141.75 826.87 L141.75 826.20 L141.75 825.53 L141.75 824.87 L141.75 824.20 L141.75 823.54 L141.75 822.87 L141.75 822.21 L141.75 821.54 L141.75 820.87 L141.75 820.21 L141.75 819.54 L141.75 818.88 L141.75 818.21 L141.75 817.55 L141.75 816.88 L141.75 816.21 L141.75 815.55 L141.75 814.88 L141.75 814.22 L141.75 813.55 L141.75 812.89 L141.75 812.22 L141.75 811.55 L141.75 810.89 L141.75 810.22 L141.75 809.56 L141.75 808.89 L141.75 808.23 L141.75 807.56 L141.75 806.89 L141.75 806.23 L141.75 805.56 L141.75 804.90 L141.75 804.23 L141.75 803.57 L141.75 802.90 L141.75 802.23 L141.75 801.57 L141.75 800.90 L141.75 800.24 L141.75 799.57 L141.75 798.90 L141.75 798.24 L141.75 797.57 L141.75 796.91 L141.75 796.24 L141.75 795.58 L141.75 794.91 L141.75 794.24 L141.75 793.58 L141.75 792.91 L141.75 792.25 L141.75 791.58 L141.75 790.92 L141.75 790.25 L141.75 789.58 L141.75 788.92 L141.75 788.25 L141.75 787.59 L141.75 786.92 L141.75 786.26 L141.75 785.59 L141.75 784.92 L141.75 784.26 L141.75 783.59 L141.75 782.93 L141.75 782.26 L141.75 781.60 L141.75 780.93 L141.75 780.26 L141.75 779.60 L141.75 778.93 L141.75 778.27 L141.75 777.60 L141.75 776.94 L141.75 776.27 L141.75 775.60 L141.75 774.94 L141.75 774.27 L141.75 773.61 L141.75 772.94 L141.75 772.28 L141.75 771.61 L141.75 770.94 L141.75 770.28 L141.75 769.61 L141.75 768.95 L141.75 768.28 L141.75 767.62 L141.75 766.95 L141.75 766.28 L141.75 765.62 L141.75 764.95 L141.75 764.29 L141.75 763.62 L141.75 762.96 L141.75 762.29 L141.75 761.62 L141.75 760.96 L141.75 760.29 L141.75 759.63 L141.75 758.96 L141.75 758.30 L141.75 757.63 L141.75 756.96 L141.75 756.30 L141.75 755.63 L141.75 754.97 L141.75 754.30 L141.75 753.63 L141.75 752.97 L141.75 752.30 L141.75 751.64 L141.75 750.97 L141.75 750.31 L141.75 749.64 L141.75 748.97 L141.75 748.31 L141.75 747.64 L141.75 746.98 L141.75 746.31 L141.75 745.65 L141.75 744.98 L141.75 744.31 L141.75 743.65 L141.75 742.98 L141.75 742.32 L141.75 741.65 L141.75 740.99 L141.75 740.32 L141.75 739.65 L141.75 738.99 L141.75 738.32 L141.75 737.66 L141.75 736.99 L141.75 736.33 L141.75 735.66 L141.75 734.99 L141.75 734.33 L141.75 733.66 L141.75 733.00 L141.69 732.33 L141.54 731.67 L141.40 731.00Z" fill="#56B4E9" />
<path d="M217.53 693.06 L212.32 693.72 L209.96 694.39 L208.98 695.06 L208.59 695.72 L209.17 696.39 L210.72 697.06 L212.86 697.72 L215.22 698.39 L217.42 699.05 L219.51 699.72 L221.79 700.39 L224.13 701.05 L226.41 701.72 L228.53 702.39 L230.51 703.05 L232.43 703.72 L234.27 704.38 L235.97 705.05 L237.48 705.72 L238.83 706.38 L240.10 707.05 L241.26 707.71 L242.28 708.38 L243.11 709.05 L243.79 709.71 L244.41 710.38 L244.96 711.05 L245.46 711.71 L245.90 712.38 L246.28 713.04 L246.61 713.71 L246.91 714.38 L247.19 715.04 L247.45 715.71 L247.70 716.38 L247.92 717.04 L248.13 717.71 L248.32 718.37 L248.50 719.04 L248.66 719.71 L248.81 720.37 L248.95 721.04 L249.07 721.71 L249.18 722.37 L249.29 723.04 L249.39 723.70 L249.48 724.37 L249.58 725.04 L249.69 725.70 L249.80 726.37 L249.92 727.04 L250.05 727.70 L250.19 728.37 L250.33 729.03 L250.48 729.70 L250.63 730.37 L250.79 731.03 L250.95 731.70 L251.12 732.37 L251.30 733.03 L251.48 733.70 L251.67 734.36 L251.87 735.03 L252.08 735.70 L252.31 736.36 L252.54 737.03 L252.77 737.70 L253.01 738.36 L253.24 739.03 L253.47 739.69 L253.70 740.36 L253.91 741.03 L254.13 741.69 L254.35 742.36 L254.57 743.02 L254.78 743.69 L255.00 744.36 L255.22 745.02 L255.43 745.69 L255.65 746.36 L255.86 747.02 L256.08 747.69 L256.29 748.35 L256.51 749.02 L256.73 749.69 L256.95 750.35 L257.18 751.02 L257.42 751.69 L257.66 752.35 L257.90 753.02 L258.13 753.68 L258.36 754.35 L258.59 755.02 L258.80 755.68 L259.01 756.35 L259.20 757.02 L259.38 757.68 L259.54 758.35 L259.69 759.01 L259.83 759.68 L259.98 760.35 L260.12 761.01 L260.25 761.68 L260.38 762.35 L260.50 763.01 L260.62 763.68 L260.73 764.34 L260.83 765.01 L260.92 765.68 L261.00 766.34 L261.06 767.01 L261.12 767.68 L261.18 768.34 L261.24 769.01 L261.29 769.67 L261.35 770.34 L261.40 771.01 L261.45 771.67 L261.49 772.34 L261.54 773.01 L261.58 773.67 L261.62 774.34 L261.66 775.00 L261.69 775.67 L261.73 776.34 L261.75 777.00 L261.78 777.67 L261.80 778.33 L261.82 779.00 L261.83 779.67 L261.84 780.33 L261.85 781.00 L261.85 781.67 L261.86 782.33 L261.86 783.00 L261.86 783.66 L261.86 784.33 L261.86 785.00 L261.86 785.66 L261.86 786.33 L261.86 787.00 L261.86 787.66 L261.86 788.33 L261.86 788.99 L261.86 789.66 L261.86 790.33 L261.86 790.99 L261.86 791.66 L261.86 792.33 L261.86 792.99 L261.86 793.66 L261.86 794.32 L261.86 794.99 L261.86 795.66 L261.86 796.32 L261.86 796.99 L261.86 797.66 L261.86 798.32 L261.86 798.99 L261.86 799.65 L261.86 800.32 L261.86 800.99 L261.86 801.65 L261.86 802.32 L261.86 802.99 L261.86 803.65 L261.86 804.32 L261.86 804.98 L261.86 805.65 L261.86 806.32 L261.86 806.98 L261.86 807.65 L261.86 808.32 L261.86 808.98 L261.86 809.65 L261.86 810.31 L261.86 810.98 L261.86 811.65 L261.86 812.31 L261.86 812.98 L261.86 813.64 L261.86 814.31 L261.86 814.98 L261.86 815.64 L261.86 816.31 L261.86 816.98 L261.86 817.64 L261.86 818.31 L261.86 818.97 L261.86 819.64 L261.86 820.31 L261.86 820.97 L261.86 821.64 L261.86 822.31 L261.86 822.97 L261.86 823.64 L261.86 824.30 L261.86 824.97 L261.86 825.64 L261.86 826.30 L261.86 826.97 L261.86 827.64 L261.86 828.30 L261.86 828.97 L261.86 829.63 L261.86 830.30 L261.86 830.97 L261.86 831.63 L261.86 832.30 L261.86 832.97 L261.86 833.63 L261.86 834.30 L261.86 834.96 L261.86 835.63 L261.86 836.30 L261.86 836.96 L261.86 837.63 L261.86 838.30 L261.86 838.96 L261.86 839.63 L261.86 840.29 L261.86 840.96 L261.86 841.63 L261.86 842.29 L261.86 842.96 L261.86 843.63 L261.86 844.29 L261.86 844.96 L261.86 845.62 L261.86 846.29 L261.86 846.96 L261.86 847.62 L261.86 848.29 L261.86 848.96 L261.86 849.62 L261.86 850.29 L261.86 850.95 L261.86 851.62 L261.86 852.29 L261.86 852.95 L261.86 853.62 L261.86 854.28 L261.86 854.95 L261.86 855.62 L261.86 856.28 L261.86 856.95 L261.86 857.62 L261.86 858.28 L261.86 858.95 L261.86 859.61 L261.86 860.28 L261.86 860.95 L261.86 861.61 L261.86 862.28 L261.86 862.95 L261.86 863.61 L261.86 864.28 L261.86 864.94 L261.86 865.61 L261.86 866.28 L261.86 866.94 L261.86 867.61 L261.86 868.28 L261.86 868.94 L261.86 869.61 L261.86 870.27 L261.86 870.94 L261.86 871.61 L261.86 872.27 L261.86 872.94 L261.86 873.61 L261.86 874.27 L261.86 874.94 L261.86 875.60 L261.86 876.27 L261.86 876.94 L261.86 877.60 L261.86 878.27 L261.86 878.94 L261.86 879.60 L261.86 880.27 L261.86 880.93 L261.86 881.60 L261.86 882.27 L261.86 882.93 L261.87 883.60 L261.95 884.27 L262.08 884.93 L262.20 885.60 L262.20 885.60 L262.32 884.93 L262.45 884.27 L262.53 883.60 L262.54 882.93 L262.54 882.27 L262.54 881.60 L262.54 880.93 L262.54 880.27 L262.54 879.60 L262.54 878.94 L262.54 878.27 L262.54 877.60 L262.54 876.94 L262.54 876.27 L262.54 875.60 L262.54 874.94 L262.54 874.27 L262.54 873.61 L262.54 872.94 L262.54 872.27 L262.54 871.61 L262.54 870.94 L262.54 870.27 L262.54 869.61 L262.54 868.94 L262.54 868.28 L262.54 867.61 L262.54 866.94 L262.54 866.28 L262.54 865.61 L262.54 864.94 L262.54 864.28 L262.54 863.61 L262.54 862.95 L262.54 862.28 L262.54 861.61 L262.54 860.95 L262.54 860.28 L262.54 859.61 L262.54 858.95 L262.54 858.28 L262.54 857.62 L262.54 856.95 L262.54 856.28 L262.54 855.62 L262.54 854.95 L262.54 854.28 L262.54 853.62 L262.54 852.95 L262.54 852.29 L262.54 851.62 L262.54 850.95 L262.54 850.29 L262.54 849.62 L262.54 848.96 L262.54 848.29 L262.54 847.62 L262.54 846.96 L262.54 846.29 L262.54 845.62 L262.54 844.96 L262.54 844.29 L262.54 843.63 L262.54 842.96 L262.54 842.29 L262.54 841.63 L262.54 840.96 L262.54 840.29 L262.54 839.63 L262.54 838.96 L262.54 838.30 L262.54 837.63 L262.54 836.96 L262.54 836.30 L262.54 835.63 L262.54 834.96 L262.54 834.30 L262.54 833.63 L262.54 832.97 L262.54 832.30 L262.54 831.63 L262.54 830.97 L262.54 830.30 L262.54 829.63 L262.54 828.97 L262.54 828.30 L262.54 827.64 L262.54 826.97 L262.54 826.30 L262.54 825.64 L262.54 824.97 L262.54 824.30 L262.54 823.64 L262.54 822.97 L262.54 822.31 L262.54 821.64 L262.54 820.97 L262.54 820.31 L262.54 819.64 L262.54 818.97 L262.54 818.31 L262.54 817.64 L262.54 816.98 L262.54 816.31 L262.54 815.64 L262.54 814.98 L262.54 814.31 L262.54 813.64 L262.54 812.98 L262.54 812.31 L262.54 811.65 L262.54 810.98 L262.54 810.31 L262.54 809.65 L262.54 808.98 L262.54 808.32 L262.54 807.65 L262.54 806.98 L262.54 806.32 L262.54 805.65 L262.54 804.98 L262.54 804.32 L262.54 803.65 L262.54 802.99 L262.54 802.32 L262.54 801.65 L262.54 800.99 L262.54 800.32 L262.54 799.65 L262.54 798.99 L262.54 798.32 L262.54 797.66 L262.54 796.99 L262.54 796.32 L262.54 795.66 L262.54 794.99 L262.54 794.32 L262.54 793.66 L262.54 792.99 L262.54 792.33 L262.54 791.66 L262.54 790.99 L262.54 790.33 L262.54 789.66 L262.54 788.99 L262.54 788.33 L262.54 787.66 L262.54 787.00 L262.54 786.33 L262.54 785.66 L262.54 785.00 L262.54 784.33 L262.54 783.66 L262.54 783.00 L262.54 782.33 L262.55 781.67 L262.55 781.00 L262.56 780.33 L262.57 779.67 L262.58 779.00 L262.60 778.33 L262.62 777.67 L262.65 777.00 L262.67 776.34 L262.71 775.67 L262.74 775.00 L262.78 774.34 L262.82 773.67 L262.86 773.01 L262.91 772.34 L262.95 771.67 L263.00 771.01 L263.05 770.34 L263.11 769.67 L263.16 769.01 L263.22 768.34 L263.28 767.68 L263.34 767.01 L263.40 766.34 L263.48 765.68 L263.57 765.01 L263.67 764.34 L263.78 763.68 L263.90 763.01 L264.02 762.35 L264.15 761.68 L264.28 761.01 L264.42 760.35 L264.57 759.68 L264.71 759.01 L264.86 758.35 L265.02 757.68 L265.20 757.02 L265.39 756.35 L265.60 755.68 L265.81 755.02 L266.04 754.35 L266.27 753.68 L266.50 753.02 L266.74 752.35 L266.98 751.69 L267.22 751.02 L267.45 750.35 L267.67 749.69 L267.89 749.02 L268.11 748.35 L268.32 747.69 L268.54 747.02 L268.75 746.36 L268.97 745.69 L269.18 745.02 L269.40 744.36 L269.62 743.69 L269.83 743.02 L270.05 742.36 L270.27 741.69 L270.49 741.03 L270.70 740.36 L270.93 739.69 L271.16 739.03 L271.39 738.36 L271.63 737.70 L271.86 737.03 L272.09 736.36 L272.32 735.70 L272.53 735.03 L272.73 734.36 L272.92 733.70 L273.10 733.03 L273.28 732.37 L273.45 731.70 L273.61 731.03 L273.77 730.37 L273.92 729.70 L274.07 729.03 L274.21 728.37 L274.35 727.70 L274.48 727.04 L274.60 726.37 L274.71 725.70 L274.82 725.04 L274.92 724.37 L275.01 723.70 L275.11 723.04 L275.22 722.37 L275.33 721.71 L275.45 721.04 L275.59 720.37 L275.74 719.71 L275.90 719.04 L276.08 718.37 L276.27 717.71 L276.48 717.04 L276.70 716.38 L276.95 715.71 L277.21 715.04 L277.49 714.38 L277.79 713.71 L278.12 713.04 L278.50 712.38 L278.94 711.71 L279.44 711.05 L279.99 710.38 L280.61 709.71 L281.29 709.05 L282.12 708.38 L283.14 707.71 L284.30 707.05 L285.57 706.38 L286.92 705.72 L288.43 705.05 L290.13 704.38 L291.97 703.72 L293.89 703.05 L295.87 702.39 L297.99 701.72 L300.27 701.05 L302.61 700.39 L304.89 699.72 L306.98 699.05 L309.18 698.39 L311.54 697.72 L313.68 697.06 L315.23 696.39 L315.81 695.72 L315.42 695.06 L314.44 694.39 L312.08 693.72 L306.87 693.06Z" fill="#E69F00" />
<rect x="139.75" y="837.80" width="3.30" height="46.20" fill="#000"/>
<rect x="129.15" y="883.85" width="24.30" height="35.70" fill="#56B4E9" stroke="#000" stroke-width="3.30"/>
<rect x="127.50" y="911.50" width="27.60" height="9.70" fill="#000"/>
<rect x="260.55" y="731.00" width="3.30" height="46.30" fill="#000"/>
<rect x="250.15" y="694.75" width="24.60" height="36.20" fill="#E69F00" stroke="#000" stroke-width="3.30"/>
<rect x="248.50" y="693.10" width="27.90" height="10.90" fill="#000"/>
<circle cx="141.40" cy="731.90" r="4.20" fill="#000"/>
<circle cx="141.40" cy="745.90" r="4.20" fill="#000"/>
<circle cx="141.40" cy="752.50" r="4.20" fill="#000"/>
<circle cx="141.40" cy="765.10" r="4.20" fill="#000"/>
<circle cx="141.40" cy="769.00" r="4.20" fill="#000"/>
<circle cx="141.40" cy="774.30" r="4.20" fill="#000"/>
<circle cx="141.40" cy="779.50" r="4.20" fill="#000"/>
<circle cx="141.40" cy="784.80" r="4.20" fill="#000"/>
<circle cx="141.40" cy="803.20" r="4.20" fill="#000"/>
<circle cx="141.40" cy="807.10" r="4.20" fill="#000"/>
<circle cx="141.40" cy="813.70" r="4.20" fill="#000"/>
<circle cx="141.40" cy="817.60" r="4.20" fill="#000"/>
<circle cx="262.20" cy="797.70" r="4.20" fill="#000"/>
<circle cx="262.20" cy="803.70" r="4.20" fill="#000"/>
<circle cx="262.20" cy="810.20" r="4.20" fill="#000"/>
<circle cx="262.20" cy="828.80" r="4.20" fill="#000"/>
<circle cx="262.20" cy="834.30" r="4.20" fill="#000"/>
<circle cx="262.20" cy="839.30" r="4.20" fill="#000"/>
<circle cx="262.20" cy="844.30" r="4.20" fill="#000"/>
<circle cx="262.20" cy="850.30" r="4.20" fill="#000"/>
<circle cx="262.20" cy="861.80" r="4.20" fill="#000"/>
<circle cx="262.20" cy="868.80" r="4.20" fill="#000"/>
<circle cx="262.20" cy="882.80" r="4.20" fill="#000"/>
<rect x="69.10" y="670.40" width="265.60" height="273.80" fill="none" stroke="#4a4a4a" stroke-width="1.3"/>
<line x1="64.10" y1="921.60" x2="69.10" y2="921.60" stroke="#333333" stroke-width="1.2"/>
<text x="58.30" y="925.50" font-size="11.10px" text-anchor="end" fill="#4D4D4D" font-weight="normal" >0</text>
<line x1="64.10" y1="864.45" x2="69.10" y2="864.45" stroke="#333333" stroke-width="1.2"/>
<text x="58.30" y="868.35" font-size="11.10px" text-anchor="end" fill="#4D4D4D" font-weight="normal" >25</text>
<line x1="64.10" y1="807.30" x2="69.10" y2="807.30" stroke="#333333" stroke-width="1.2"/>
<text x="58.30" y="811.20" font-size="11.10px" text-anchor="end" fill="#4D4D4D" font-weight="normal" >50</text>
<line x1="64.10" y1="750.15" x2="69.10" y2="750.15" stroke="#333333" stroke-width="1.2"/>
<text x="58.30" y="754.05" font-size="11.10px" text-anchor="end" fill="#4D4D4D" font-weight="normal" >75</text>
<line x1="64.10" y1="693.00" x2="69.10" y2="693.00" stroke="#333333" stroke-width="1.2"/>
<text x="58.30" y="696.90" font-size="11.10px" text-anchor="end" fill="#4D4D4D" font-weight="normal" >100</text>
<line x1="141.40" y1="944.20" x2="141.40" y2="948.80" stroke="#333333" stroke-width="1.2"/>
<text x="141.40" y="961.80" font-size="11.10px" text-anchor="middle" fill="#4D4D4D" font-weight="normal" >f1</text>
<line x1="262.20" y1="944.20" x2="262.20" y2="948.80" stroke="#333333" stroke-width="1.2"/>
<text x="262.20" y="961.80" font-size="11.10px" text-anchor="middle" fill="#4D4D4D" font-weight="normal" >f2</text>
<text x="202.00" y="979.60" font-size="14.00px" text-anchor="middle" fill="#000" font-weight="normal" >Two−pool model (M2)</text>
<text transform="translate(27.90 807.60) rotate(-90)" font-size="14.00px" text-anchor="middle" fill="#000">Relative pool size (%)</text>
<text x="143.80" y="687.90" font-size="12.00px" text-anchor="middle" fill="#4D4D4D" font-weight="normal" >232</text>
<text x="262.60" y="687.90" font-size="12.00px" text-anchor="middle" fill="#4D4D4D" font-weight="normal" >232</text>
<text x="0.40" y="675.30" font-size="13.50px" text-anchor="start" fill="#000" font-weight="bold" >d</text>
<path d="M437.40 912.56 L433.16 913.22 L430.45 913.88 L428.48 914.55 L426.83 915.21 L425.52 915.87 L424.32 916.54 L422.63 917.20 L420.24 917.86 L417.21 918.53 L412.44 919.19 L406.00 919.85 L403.29 920.52 L407.67 921.18 L437.40 921.84 L437.40 921.84 L467.13 921.18 L471.51 920.52 L468.80 919.85 L462.36 919.19 L457.59 918.53 L454.56 917.86 L452.17 917.20 L450.48 916.54 L449.28 915.87 L447.97 915.21 L446.32 914.55 L444.35 913.88 L441.64 913.22 L437.40 912.56Z" fill="#56B4E9" />
<path d="M532.50 744.67 L532.32 745.33 L532.12 746.00 L531.92 746.67 L531.69 747.33 L531.46 748.00 L531.20 748.66 L530.93 749.33 L530.65 750.00 L530.37 750.66 L530.07 751.33 L529.77 752.00 L529.47 752.66 L529.16 753.33 L528.86 754.00 L528.56 754.66 L528.26 755.33 L527.97 756.00 L527.69 756.66 L527.40 757.33 L527.10 757.99 L526.81 758.66 L526.51 759.33 L526.22 759.99 L525.92 760.66 L525.63 761.33 L525.34 761.99 L525.05 762.66 L524.77 763.33 L524.49 763.99 L524.22 764.66 L523.96 765.33 L523.71 765.99 L523.46 766.66 L523.22 767.33 L522.98 767.99 L522.74 768.66 L522.51 769.32 L522.28 769.99 L522.05 770.66 L521.83 771.32 L521.61 771.99 L521.40 772.66 L521.19 773.32 L520.99 773.99 L520.79 774.66 L520.60 775.32 L520.42 775.99 L520.24 776.66 L520.06 777.32 L519.89 777.99 L519.72 778.66 L519.55 779.32 L519.39 779.99 L519.22 780.65 L519.07 781.32 L518.91 781.99 L518.77 782.65 L518.62 783.32 L518.49 783.99 L518.35 784.65 L518.23 785.32 L518.11 785.99 L518.00 786.65 L517.89 787.32 L517.78 787.99 L517.67 788.65 L517.55 789.32 L517.44 789.99 L517.33 790.65 L517.23 791.32 L517.13 791.98 L517.04 792.65 L516.95 793.32 L516.88 793.98 L516.82 794.65 L516.78 795.32 L516.75 795.98 L516.74 796.65 L516.74 797.32 L516.75 797.98 L516.78 798.65 L516.81 799.32 L516.85 799.98 L516.89 800.65 L516.94 801.32 L517.00 801.98 L517.06 802.65 L517.13 803.31 L517.20 803.98 L517.27 804.65 L517.37 805.31 L517.51 805.98 L517.67 806.65 L517.85 807.31 L518.05 807.98 L518.26 808.65 L518.47 809.31 L518.68 809.98 L518.89 810.65 L519.08 811.31 L519.26 811.98 L519.43 812.65 L519.60 813.31 L519.77 813.98 L519.94 814.64 L520.11 815.31 L520.28 815.98 L520.44 816.64 L520.59 817.31 L520.74 817.98 L520.87 818.64 L521.00 819.31 L521.11 819.98 L521.22 820.64 L521.34 821.31 L521.45 821.98 L521.57 822.64 L521.68 823.31 L521.79 823.98 L521.89 824.64 L521.98 825.31 L522.07 825.97 L522.15 826.64 L522.21 827.31 L522.26 827.97 L522.30 828.64 L522.32 829.31 L522.33 829.97 L522.33 830.64 L522.33 831.31 L522.33 831.97 L522.33 832.64 L522.33 833.31 L522.33 833.97 L522.33 834.64 L522.33 835.31 L522.33 835.97 L522.33 836.64 L522.33 837.30 L522.33 837.97 L522.33 838.64 L522.33 839.30 L522.33 839.97 L522.33 840.64 L522.33 841.30 L522.33 841.97 L522.33 842.64 L522.32 843.30 L522.30 843.97 L522.28 844.64 L522.24 845.30 L522.19 845.97 L522.14 846.63 L522.08 847.30 L522.01 847.97 L521.94 848.63 L521.86 849.30 L521.78 849.97 L521.69 850.63 L521.60 851.30 L521.51 851.97 L521.42 852.63 L521.33 853.30 L521.24 853.97 L521.14 854.63 L521.05 855.30 L520.96 855.97 L520.87 856.63 L520.77 857.30 L520.67 857.96 L520.57 858.63 L520.46 859.30 L520.34 859.96 L520.22 860.63 L520.10 861.30 L519.97 861.96 L519.83 862.63 L519.69 863.30 L519.55 863.96 L519.39 864.63 L519.23 865.30 L519.07 865.96 L518.89 866.63 L518.71 867.30 L518.52 867.96 L518.32 868.63 L518.09 869.29 L517.84 869.96 L517.56 870.63 L517.27 871.29 L516.96 871.96 L516.63 872.63 L516.29 873.29 L515.93 873.96 L515.56 874.63 L515.18 875.29 L514.78 875.96 L514.38 876.63 L513.97 877.29 L513.55 877.96 L513.12 878.63 L512.66 879.29 L512.16 879.96 L511.64 880.62 L511.09 881.29 L510.52 881.96 L509.94 882.62 L509.34 883.29 L508.74 883.96 L508.13 884.62 L507.52 885.29 L506.91 885.96 L506.28 886.62 L505.62 887.29 L504.93 887.96 L504.23 888.62 L503.52 889.29 L502.82 889.96 L502.12 890.62 L501.43 891.29 L500.77 891.95 L500.14 892.62 L499.55 893.29 L498.99 893.95 L498.43 894.62 L497.88 895.29 L497.35 895.95 L496.82 896.62 L496.31 897.29 L495.82 897.95 L495.35 898.62 L494.91 899.29 L494.48 899.95 L494.09 900.62 L493.71 901.29 L493.33 901.95 L492.93 902.62 L492.54 903.28 L492.16 903.95 L491.82 904.62 L491.52 905.28 L491.28 905.95 L491.12 906.62 L491.06 907.28 L491.06 907.95 L491.06 908.62 L491.08 909.28 L491.10 909.95 L491.12 910.62 L491.15 911.28 L491.19 911.95 L491.23 912.62 L491.27 913.28 L491.33 913.95 L491.52 914.61 L491.86 915.28 L492.33 915.95 L492.90 916.61 L493.56 917.28 L494.33 917.95 L495.51 918.61 L497.18 919.28 L499.82 919.95 L504.53 920.61 L560.47 920.61 L565.18 919.95 L567.82 919.28 L569.49 918.61 L570.67 917.95 L571.44 917.28 L572.10 916.61 L572.67 915.95 L573.14 915.28 L573.48 914.61 L573.67 913.95 L573.73 913.28 L573.77 912.62 L573.81 911.95 L573.85 911.28 L573.88 910.62 L573.90 909.95 L573.92 909.28 L573.94 908.62 L573.94 907.95 L573.94 907.28 L573.88 906.62 L573.72 905.95 L573.48 905.28 L573.18 904.62 L572.84 903.95 L572.46 903.28 L572.07 902.62 L571.67 901.95 L571.29 901.29 L570.91 900.62 L570.52 899.95 L570.09 899.29 L569.65 898.62 L569.18 897.95 L568.69 897.29 L568.18 896.62 L567.65 895.95 L567.12 895.29 L566.57 894.62 L566.01 893.95 L565.45 893.29 L564.86 892.62 L564.23 891.95 L563.57 891.29 L562.88 890.62 L562.18 889.96 L561.48 889.29 L560.77 888.62 L560.07 887.96 L559.38 887.29 L558.72 886.62 L558.09 885.96 L557.48 885.29 L556.87 884.62 L556.26 883.96 L555.66 883.29 L555.06 882.62 L554.48 881.96 L553.91 881.29 L553.36 880.62 L552.84 879.96 L552.34 879.29 L551.88 878.63 L551.45 877.96 L551.03 877.29 L550.62 876.63 L550.22 875.96 L549.82 875.29 L549.44 874.63 L549.07 873.96 L548.71 873.29 L548.37 872.63 L548.04 871.96 L547.73 871.29 L547.44 870.63 L547.16 869.96 L546.91 869.29 L546.68 868.63 L546.48 867.96 L546.29 867.30 L546.11 866.63 L545.93 865.96 L545.77 865.30 L545.61 864.63 L545.45 863.96 L545.31 863.30 L545.17 862.63 L545.03 861.96 L544.90 861.30 L544.78 860.63 L544.66 859.96 L544.54 859.30 L544.43 858.63 L544.33 857.96 L544.23 857.30 L544.13 856.63 L544.04 855.97 L543.95 855.30 L543.86 854.63 L543.76 853.97 L543.67 853.30 L543.58 852.63 L543.49 851.97 L543.40 851.30 L543.31 850.63 L543.22 849.97 L543.14 849.30 L543.06 848.63 L542.99 847.97 L542.92 847.30 L542.86 846.63 L542.81 845.97 L542.76 845.30 L542.72 844.64 L542.70 843.97 L542.68 843.30 L542.67 842.64 L542.67 841.97 L542.67 841.30 L542.67 840.64 L542.67 839.97 L542.67 839.30 L542.67 838.64 L542.67 837.97 L542.67 837.30 L542.67 836.64 L542.67 835.97 L542.67 835.31 L542.67 834.64 L542.67 833.97 L542.67 833.31 L542.67 832.64 L542.67 831.97 L542.67 831.31 L542.67 830.64 L542.67 829.97 L542.68 829.31 L542.70 828.64 L542.74 827.97 L542.79 827.31 L542.85 826.64 L542.93 825.97 L543.02 825.31 L543.11 824.64 L543.21 823.98 L543.32 823.31 L543.43 822.64 L543.55 821.98 L543.66 821.31 L543.78 820.64 L543.89 819.98 L544.00 819.31 L544.13 818.64 L544.26 817.98 L544.41 817.31 L544.56 816.64 L544.72 815.98 L544.89 815.31 L545.06 814.64 L545.23 813.98 L545.40 813.31 L545.57 812.65 L545.74 811.98 L545.92 811.31 L546.11 810.65 L546.32 809.98 L546.53 809.31 L546.74 808.65 L546.95 807.98 L547.15 807.31 L547.33 806.65 L547.49 805.98 L547.63 805.31 L547.73 804.65 L547.80 803.98 L547.87 803.31 L547.94 802.65 L548.00 801.98 L548.06 801.32 L548.11 800.65 L548.15 799.98 L548.19 799.32 L548.22 798.65 L548.25 797.98 L548.26 797.32 L548.26 796.65 L548.25 795.98 L548.22 795.32 L548.18 794.65 L548.12 793.98 L548.05 793.32 L547.96 792.65 L547.87 791.98 L547.77 791.32 L547.67 790.65 L547.56 789.99 L547.45 789.32 L547.33 788.65 L547.22 787.99 L547.11 787.32 L547.00 786.65 L546.89 785.99 L546.77 785.32 L546.65 784.65 L546.51 783.99 L546.38 783.32 L546.23 782.65 L546.09 781.99 L545.93 781.32 L545.78 780.65 L545.61 779.99 L545.45 779.32 L545.28 778.66 L545.11 777.99 L544.94 777.32 L544.76 776.66 L544.58 775.99 L544.40 775.32 L544.21 774.66 L544.01 773.99 L543.81 773.32 L543.60 772.66 L543.39 771.99 L543.17 771.32 L542.95 770.66 L542.72 769.99 L542.49 769.32 L542.26 768.66 L542.02 767.99 L541.78 767.33 L541.54 766.66 L541.29 765.99 L541.04 765.33 L540.78 764.66 L540.51 763.99 L540.23 763.33 L539.95 762.66 L539.66 761.99 L539.37 761.33 L539.08 760.66 L538.78 759.99 L538.49 759.33 L538.19 758.66 L537.90 757.99 L537.60 757.33 L537.31 756.66 L537.03 756.00 L536.74 755.33 L536.44 754.66 L536.14 754.00 L535.84 753.33 L535.53 752.66 L535.23 752.00 L534.93 751.33 L534.63 750.66 L534.35 750.00 L534.07 749.33 L533.80 748.66 L533.54 748.00 L533.31 747.33 L533.08 746.67 L532.88 746.00 L532.68 745.33 L532.50 744.67Z" fill="#E69F00" />
<path d="M597.50 694.24 L592.80 694.90 L590.91 695.57 L589.77 696.23 L588.86 696.90 L588.03 697.56 L587.35 698.23 L586.89 698.89 L586.64 699.56 L586.42 700.22 L586.22 700.89 L586.05 701.55 L585.90 702.22 L585.77 702.88 L585.67 703.55 L585.60 704.21 L585.56 704.87 L585.55 705.54 L585.59 706.20 L585.69 706.87 L585.83 707.53 L586.01 708.20 L586.23 708.86 L586.46 709.53 L586.70 710.19 L586.96 710.86 L587.30 711.52 L587.72 712.19 L588.21 712.85 L588.76 713.52 L589.35 714.18 L589.98 714.85 L590.63 715.51 L591.28 716.18 L591.94 716.84 L592.58 717.51 L593.20 718.17 L593.82 718.84 L594.47 719.50 L595.14 720.16 L595.82 720.83 L596.51 721.49 L597.20 722.16 L597.90 722.82 L598.58 723.49 L599.26 724.15 L599.91 724.82 L600.54 725.48 L601.15 726.15 L601.75 726.81 L602.35 727.48 L602.94 728.14 L603.52 728.81 L604.09 729.47 L604.65 730.14 L605.20 730.80 L605.73 731.47 L606.24 732.13 L606.73 732.80 L607.21 733.46 L607.66 734.12 L608.11 734.79 L608.55 735.45 L608.98 736.12 L609.40 736.78 L609.80 737.45 L610.19 738.11 L610.57 738.78 L610.93 739.44 L611.28 740.11 L611.61 740.77 L611.93 741.44 L612.25 742.10 L612.56 742.77 L612.86 743.43 L613.15 744.10 L613.43 744.76 L613.70 745.43 L613.96 746.09 L614.20 746.76 L614.42 747.42 L614.63 748.08 L614.81 748.75 L614.99 749.41 L615.16 750.08 L615.33 750.74 L615.50 751.41 L615.65 752.07 L615.80 752.74 L615.93 753.40 L616.05 754.07 L616.15 754.73 L616.23 755.40 L616.30 756.06 L616.34 756.73 L616.39 757.39 L616.43 758.06 L616.47 758.72 L616.51 759.39 L616.55 760.05 L616.59 760.72 L616.62 761.38 L616.65 762.05 L616.68 762.71 L616.71 763.37 L616.73 764.04 L616.75 764.70 L616.77 765.37 L616.79 766.03 L616.80 766.70 L616.81 767.36 L616.82 768.03 L616.82 768.69 L616.82 769.36 L616.81 770.02 L616.80 770.69 L616.78 771.35 L616.76 772.02 L616.73 772.68 L616.70 773.35 L616.67 774.01 L616.63 774.68 L616.58 775.34 L616.54 776.01 L616.49 776.67 L616.44 777.33 L616.38 778.00 L616.33 778.66 L616.27 779.33 L616.21 779.99 L616.15 780.66 L616.09 781.32 L616.03 781.99 L615.96 782.65 L615.87 783.32 L615.78 783.98 L615.68 784.65 L615.56 785.31 L615.44 785.98 L615.32 786.64 L615.19 787.31 L615.06 787.97 L614.92 788.64 L614.79 789.30 L614.65 789.97 L614.52 790.63 L614.39 791.30 L614.26 791.96 L614.13 792.62 L613.99 793.29 L613.85 793.95 L613.70 794.62 L613.55 795.28 L613.39 795.95 L613.24 796.61 L613.09 797.28 L612.95 797.94 L612.81 798.61 L612.67 799.27 L612.55 799.94 L612.44 800.60 L612.34 801.27 L612.26 801.93 L612.18 802.60 L612.11 803.26 L612.04 803.93 L611.97 804.59 L611.90 805.26 L611.83 805.92 L611.77 806.58 L611.71 807.25 L611.66 807.91 L611.61 808.58 L611.57 809.24 L611.54 809.91 L611.51 810.57 L611.49 811.24 L611.48 811.90 L611.48 812.57 L611.49 813.23 L611.51 813.90 L611.54 814.56 L611.57 815.23 L611.61 815.89 L611.66 816.56 L611.71 817.22 L611.77 817.89 L611.83 818.55 L611.90 819.22 L611.96 819.88 L612.04 820.55 L612.11 821.21 L612.19 821.87 L612.26 822.54 L612.36 823.20 L612.47 823.87 L612.60 824.53 L612.74 825.20 L612.90 825.86 L613.07 826.53 L613.25 827.19 L613.44 827.86 L613.63 828.52 L613.83 829.19 L614.02 829.85 L614.22 830.52 L614.41 831.18 L614.60 831.85 L614.78 832.51 L614.95 833.18 L615.13 833.84 L615.31 834.51 L615.49 835.17 L615.67 835.83 L615.85 836.50 L616.04 837.16 L616.22 837.83 L616.41 838.49 L616.59 839.16 L616.78 839.82 L616.96 840.49 L617.15 841.15 L617.33 841.82 L617.52 842.48 L617.70 843.15 L617.88 843.81 L618.06 844.48 L618.24 845.14 L618.42 845.81 L618.60 846.47 L618.78 847.14 L618.96 847.80 L619.15 848.47 L619.33 849.13 L619.51 849.79 L619.69 850.46 L619.88 851.12 L620.07 851.79 L620.25 852.45 L620.44 853.12 L620.64 853.78 L620.84 854.45 L621.04 855.11 L621.24 855.78 L621.45 856.44 L621.65 857.11 L621.86 857.77 L622.07 858.44 L622.27 859.10 L622.48 859.77 L622.68 860.43 L622.87 861.10 L623.07 861.76 L623.26 862.43 L623.44 863.09 L623.61 863.76 L623.78 864.42 L623.94 865.08 L624.10 865.75 L624.26 866.41 L624.41 867.08 L624.57 867.74 L624.73 868.41 L624.90 869.07 L625.07 869.74 L625.26 870.40 L625.45 871.07 L625.65 871.73 L625.86 872.40 L626.07 873.06 L626.30 873.73 L626.53 874.39 L626.76 875.06 L627.00 875.72 L627.25 876.39 L627.50 877.05 L627.50 877.05 L627.75 876.39 L628.00 875.72 L628.24 875.06 L628.47 874.39 L628.70 873.73 L628.93 873.06 L629.14 872.40 L629.35 871.73 L629.55 871.07 L629.74 870.40 L629.93 869.74 L630.10 869.07 L630.27 868.41 L630.43 867.74 L630.59 867.08 L630.74 866.41 L630.90 865.75 L631.06 865.08 L631.22 864.42 L631.39 863.76 L631.56 863.09 L631.74 862.43 L631.93 861.76 L632.13 861.10 L632.32 860.43 L632.52 859.77 L632.73 859.10 L632.93 858.44 L633.14 857.77 L633.35 857.11 L633.55 856.44 L633.76 855.78 L633.96 855.11 L634.16 854.45 L634.36 853.78 L634.56 853.12 L634.75 852.45 L634.93 851.79 L635.12 851.12 L635.31 850.46 L635.49 849.79 L635.67 849.13 L635.85 848.47 L636.04 847.80 L636.22 847.14 L636.40 846.47 L636.58 845.81 L636.76 845.14 L636.94 844.48 L637.12 843.81 L637.30 843.15 L637.48 842.48 L637.67 841.82 L637.85 841.15 L638.04 840.49 L638.22 839.82 L638.41 839.16 L638.59 838.49 L638.78 837.83 L638.96 837.16 L639.15 836.50 L639.33 835.83 L639.51 835.17 L639.69 834.51 L639.87 833.84 L640.05 833.18 L640.22 832.51 L640.40 831.85 L640.59 831.18 L640.78 830.52 L640.98 829.85 L641.17 829.19 L641.37 828.52 L641.56 827.86 L641.75 827.19 L641.93 826.53 L642.10 825.86 L642.26 825.20 L642.40 824.53 L642.53 823.87 L642.64 823.20 L642.74 822.54 L642.81 821.87 L642.89 821.21 L642.96 820.55 L643.04 819.88 L643.10 819.22 L643.17 818.55 L643.23 817.89 L643.29 817.22 L643.34 816.56 L643.39 815.89 L643.43 815.23 L643.46 814.56 L643.49 813.90 L643.51 813.23 L643.52 812.57 L643.52 811.90 L643.51 811.24 L643.49 810.57 L643.46 809.91 L643.43 809.24 L643.39 808.58 L643.34 807.91 L643.29 807.25 L643.23 806.58 L643.17 805.92 L643.10 805.26 L643.03 804.59 L642.96 803.93 L642.89 803.26 L642.82 802.60 L642.74 801.93 L642.66 801.27 L642.56 800.60 L642.45 799.94 L642.33 799.27 L642.19 798.61 L642.05 797.94 L641.91 797.28 L641.76 796.61 L641.61 795.95 L641.45 795.28 L641.30 794.62 L641.15 793.95 L641.01 793.29 L640.87 792.62 L640.74 791.96 L640.61 791.30 L640.48 790.63 L640.35 789.97 L640.21 789.30 L640.08 788.64 L639.94 787.97 L639.81 787.31 L639.68 786.64 L639.56 785.98 L639.44 785.31 L639.32 784.65 L639.22 783.98 L639.13 783.32 L639.04 782.65 L638.97 781.99 L638.91 781.32 L638.85 780.66 L638.79 779.99 L638.73 779.33 L638.67 778.66 L638.62 778.00 L638.56 777.33 L638.51 776.67 L638.46 776.01 L638.42 775.34 L638.37 774.68 L638.33 774.01 L638.30 773.35 L638.27 772.68 L638.24 772.02 L638.22 771.35 L638.20 770.69 L638.19 770.02 L638.18 769.36 L638.18 768.69 L638.18 768.03 L638.19 767.36 L638.20 766.70 L638.21 766.03 L638.23 765.37 L638.25 764.70 L638.27 764.04 L638.29 763.37 L638.32 762.71 L638.35 762.05 L638.38 761.38 L638.41 760.72 L638.45 760.05 L638.49 759.39 L638.53 758.72 L638.57 758.06 L638.61 757.39 L638.66 756.73 L638.70 756.06 L638.77 755.40 L638.85 754.73 L638.95 754.07 L639.07 753.40 L639.20 752.74 L639.35 752.07 L639.50 751.41 L639.67 750.74 L639.84 750.08 L640.01 749.41 L640.19 748.75 L640.37 748.08 L640.58 747.42 L640.80 746.76 L641.04 746.09 L641.30 745.43 L641.57 744.76 L641.85 744.10 L642.14 743.43 L642.44 742.77 L642.75 742.10 L643.07 741.44 L643.39 740.77 L643.72 740.11 L644.07 739.44 L644.43 738.78 L644.81 738.11 L645.20 737.45 L645.60 736.78 L646.02 736.12 L646.45 735.45 L646.89 734.79 L647.34 734.12 L647.79 733.46 L648.27 732.80 L648.76 732.13 L649.27 731.47 L649.80 730.80 L650.35 730.14 L650.91 729.47 L651.48 728.81 L652.06 728.14 L652.65 727.48 L653.25 726.81 L653.85 726.15 L654.46 725.48 L655.09 724.82 L655.74 724.15 L656.42 723.49 L657.10 722.82 L657.80 722.16 L658.49 721.49 L659.18 720.83 L659.86 720.16 L660.53 719.50 L661.18 718.84 L661.80 718.17 L662.42 717.51 L663.06 716.84 L663.72 716.18 L664.37 715.51 L665.02 714.85 L665.65 714.18 L666.24 713.52 L666.79 712.85 L667.28 712.19 L667.70 711.52 L668.04 710.86 L668.30 710.19 L668.54 709.53 L668.77 708.86 L668.99 708.20 L669.17 707.53 L669.31 706.87 L669.41 706.20 L669.45 705.54 L669.44 704.87 L669.40 704.21 L669.33 703.55 L669.23 702.88 L669.10 702.22 L668.95 701.55 L668.78 700.89 L668.58 700.22 L668.36 699.56 L668.11 698.89 L667.65 698.23 L666.97 697.56 L666.14 696.90 L665.23 696.23 L664.09 695.57 L662.20 694.90 L657.50 694.24Z" fill="#73BC00" />
<rect x="427.45" y="916.85" width="19.50" height="4.20" fill="#56B4E9" stroke="#000" stroke-width="3.30"/>
<rect x="425.80" y="915.20" width="22.80" height="7.50" fill="#000"/>
<circle cx="437.40" cy="891.20" r="4.20" fill="#000"/>
<circle cx="437.40" cy="896.60" r="4.20" fill="#000"/>
<circle cx="437.40" cy="899.20" r="4.20" fill="#000"/>
<circle cx="437.40" cy="901.80" r="4.20" fill="#000"/>
<circle cx="437.40" cy="904.40" r="4.20" fill="#000"/>
<circle cx="437.40" cy="907.00" r="4.20" fill="#000"/>
<circle cx="437.40" cy="909.60" r="4.20" fill="#000"/>
<circle cx="437.40" cy="911.20" r="4.20" fill="#000"/>
<rect x="530.85" y="711.60" width="3.30" height="100.40" fill="#000"/>
<rect x="530.85" y="914.00" width="3.30" height="6.90" fill="#000"/>
<rect x="523.25" y="812.45" width="18.80" height="101.70" fill="#E69F00" stroke="#000" stroke-width="3.30"/>
<rect x="521.60" y="892.90" width="22.10" height="7.60" fill="#000"/>
<rect x="625.85" y="694.00" width="3.30" height="9.00" fill="#000"/>
<rect x="625.85" y="807.00" width="3.30" height="100.00" fill="#000"/>
<rect x="618.25" y="702.75" width="18.80" height="104.80" fill="#73BC00" stroke="#000" stroke-width="3.30"/>
<rect x="616.60" y="716.90" width="22.10" height="7.60" fill="#000"/>
<rect x="380.50" y="670.40" width="303.90" height="273.80" fill="none" stroke="#4a4a4a" stroke-width="1.3"/>
<line x1="375.50" y1="921.60" x2="380.50" y2="921.60" stroke="#333333" stroke-width="1.2"/>
<line x1="375.50" y1="864.45" x2="380.50" y2="864.45" stroke="#333333" stroke-width="1.2"/>
<line x1="375.50" y1="807.30" x2="380.50" y2="807.30" stroke="#333333" stroke-width="1.2"/>
<line x1="375.50" y1="750.15" x2="380.50" y2="750.15" stroke="#333333" stroke-width="1.2"/>
<line x1="375.50" y1="693.00" x2="380.50" y2="693.00" stroke="#333333" stroke-width="1.2"/>
<line x1="437.40" y1="944.20" x2="437.40" y2="948.80" stroke="#333333" stroke-width="1.2"/>
<text x="437.40" y="961.80" font-size="11.10px" text-anchor="middle" fill="#4D4D4D" font-weight="normal" >f1</text>
<line x1="532.50" y1="944.20" x2="532.50" y2="948.80" stroke="#333333" stroke-width="1.2"/>
<text x="532.50" y="961.80" font-size="11.10px" text-anchor="middle" fill="#4D4D4D" font-weight="normal" >f2</text>
<line x1="627.50" y1="944.20" x2="627.50" y2="948.80" stroke="#333333" stroke-width="1.2"/>
<text x="627.50" y="961.80" font-size="11.10px" text-anchor="middle" fill="#4D4D4D" font-weight="normal" >f3</text>
<text x="532.50" y="979.60" font-size="14.00px" text-anchor="middle" fill="#000" font-weight="normal" >Three−pool model (M3)</text>
<text x="437.40" y="689.00" font-size="12.00px" text-anchor="middle" fill="#4D4D4D" font-weight="normal" >275</text>
<text x="532.50" y="689.00" font-size="12.00px" text-anchor="middle" fill="#4D4D4D" font-weight="normal" >275</text>
<text x="627.50" y="689.00" font-size="12.00px" text-anchor="middle" fill="#4D4D4D" font-weight="normal" >275</text>
<text x="349.00" y="675.10" font-size="13.50px" text-anchor="start" fill="#000" font-weight="bold" >e</text>
</svg></body></html>
